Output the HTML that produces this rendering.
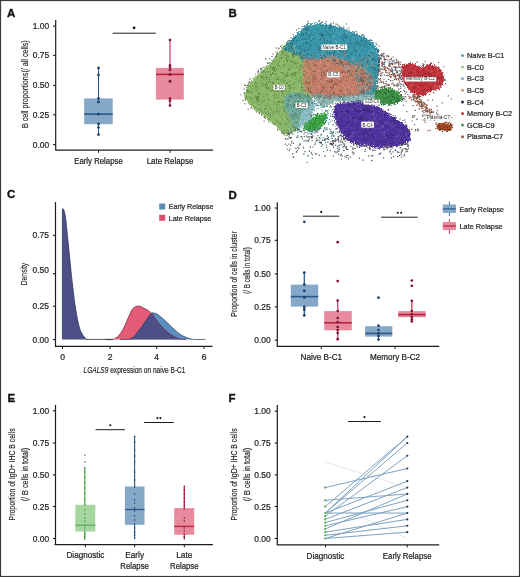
<!DOCTYPE html><html><head><meta charset="utf-8"><style>html,body{margin:0;padding:0;background:#fff;width:520px;height:577px;overflow:hidden;position:relative}</style></head><body><svg width="520" height="577" viewBox="0 0 520 577" style="position:absolute;left:0;top:0;will-change:transform;font-family:'Liberation Sans', sans-serif">
<rect x="0" y="0" width="520" height="577" fill="#fff"/>
<text x="7" y="16.7" font-size="11.5" font-weight="bold" fill="#111" stroke="#111" stroke-width="0.35">A</text>
<line x1="55.70" y1="20.00" x2="55.70" y2="150.20" stroke="#1c1c1c" stroke-width="1.2" />
<line x1="53.10" y1="26.20" x2="55.70" y2="26.20" stroke="#1c1c1c" stroke-width="1.1" />
<text x="49.20" y="29.20" font-size="8.5" text-anchor="end" fill="#1f1f1f" stroke="#1f1f1f" stroke-width="0.22" font-weight="normal"  textLength="16.4" lengthAdjust="spacingAndGlyphs">1.00</text>
<line x1="53.10" y1="55.40" x2="55.70" y2="55.40" stroke="#1c1c1c" stroke-width="1.1" />
<text x="49.20" y="58.40" font-size="8.5" text-anchor="end" fill="#1f1f1f" stroke="#1f1f1f" stroke-width="0.22" font-weight="normal"  textLength="16.4" lengthAdjust="spacingAndGlyphs">0.75</text>
<line x1="53.10" y1="85.40" x2="55.70" y2="85.40" stroke="#1c1c1c" stroke-width="1.1" />
<text x="49.20" y="88.40" font-size="8.5" text-anchor="end" fill="#1f1f1f" stroke="#1f1f1f" stroke-width="0.22" font-weight="normal"  textLength="16.4" lengthAdjust="spacingAndGlyphs">0.50</text>
<line x1="53.10" y1="114.80" x2="55.70" y2="114.80" stroke="#1c1c1c" stroke-width="1.1" />
<text x="49.20" y="117.80" font-size="8.5" text-anchor="end" fill="#1f1f1f" stroke="#1f1f1f" stroke-width="0.22" font-weight="normal"  textLength="16.4" lengthAdjust="spacingAndGlyphs">0.25</text>
<line x1="53.10" y1="144.60" x2="55.70" y2="144.60" stroke="#1c1c1c" stroke-width="1.1" />
<text x="49.20" y="147.60" font-size="8.5" text-anchor="end" fill="#1f1f1f" stroke="#1f1f1f" stroke-width="0.22" font-weight="normal"  textLength="16.4" lengthAdjust="spacingAndGlyphs">0.00</text>
<line x1="55.40" y1="150.20" x2="213.00" y2="150.20" stroke="#1c1c1c" stroke-width="1.2" />
<line x1="98.50" y1="150.20" x2="98.50" y2="152.80" stroke="#1c1c1c" stroke-width="1.0" />
<text x="98.50" y="163.60" font-size="8.2" text-anchor="middle" fill="#1f1f1f" stroke="#1f1f1f" stroke-width="0.22" font-weight="normal"  textLength="48.5" lengthAdjust="spacingAndGlyphs">Early Relapse</text>
<line x1="170.00" y1="150.20" x2="170.00" y2="152.80" stroke="#1c1c1c" stroke-width="1.0" />
<text x="170.00" y="163.60" font-size="8.2" text-anchor="middle" fill="#1f1f1f" stroke="#1f1f1f" stroke-width="0.22" font-weight="normal"  textLength="46.6" lengthAdjust="spacingAndGlyphs">Late Relapse</text>
<text transform="translate(24.50,84.20) rotate(-90)" x="0" y="3.06" font-size="8.5" text-anchor="middle" fill="#1f1f1f" stroke="#1f1f1f" stroke-width="0.15" textLength="87.8" lengthAdjust="spacingAndGlyphs">B cell proportions(/ all cells)</text>
<line x1="98.50" y1="67.90" x2="98.50" y2="134.60" stroke="#285a8c" stroke-width="0.95" />
<rect x="84.20" y="98.40" width="28.50" height="25.80" fill="#86a8c8" fill-opacity="1.0"/>
<line x1="98.50" y1="67.90" x2="98.50" y2="98.40" stroke="#285a8c" stroke-width="0.95" />
<line x1="98.50" y1="124.20" x2="98.50" y2="134.60" stroke="#285a8c" stroke-width="0.95" />
<line x1="84.20" y1="114.10" x2="112.70" y2="114.10" stroke="#285a8c" stroke-width="1.6" />
<circle cx="98.50" cy="67.90" r="1.35" fill="#183d66"/>
<circle cx="98.50" cy="74.90" r="1.35" fill="#183d66"/>
<circle cx="98.50" cy="98.40" r="1.35" fill="#183d66"/>
<circle cx="98.50" cy="101.90" r="1.35" fill="#183d66"/>
<circle cx="98.50" cy="114.10" r="1.35" fill="#183d66"/>
<circle cx="98.50" cy="123.90" r="1.35" fill="#183d66"/>
<circle cx="98.50" cy="127.50" r="1.35" fill="#183d66"/>
<circle cx="98.50" cy="134.60" r="1.35" fill="#183d66"/>
<line x1="170.00" y1="40.00" x2="170.00" y2="105.60" stroke="#c85a78" stroke-width="0.95" />
<rect x="155.90" y="67.90" width="27.90" height="31.70" fill="#e78a9e" fill-opacity="1.0"/>
<line x1="170.00" y1="40.00" x2="170.00" y2="67.90" stroke="#c85a78" stroke-width="0.95" />
<line x1="170.00" y1="99.60" x2="170.00" y2="105.60" stroke="#c85a78" stroke-width="0.95" />
<line x1="155.90" y1="74.40" x2="183.80" y2="74.40" stroke="#b8223f" stroke-width="1.6" />
<circle cx="170.00" cy="40.00" r="1.35" fill="#7e1430"/>
<circle cx="170.00" cy="65.40" r="1.35" fill="#7e1430"/>
<circle cx="170.00" cy="67.50" r="1.35" fill="#7e1430"/>
<circle cx="170.00" cy="70.00" r="1.35" fill="#7e1430"/>
<circle cx="170.00" cy="74.40" r="1.35" fill="#7e1430"/>
<circle cx="170.00" cy="81.00" r="1.35" fill="#7e1430"/>
<circle cx="170.00" cy="81.50" r="1.35" fill="#7e1430"/>
<circle cx="170.00" cy="98.50" r="1.35" fill="#7e1430"/>
<circle cx="170.00" cy="100.80" r="1.35" fill="#7e1430"/>
<circle cx="170.00" cy="105.60" r="1.35" fill="#7e1430"/>
<line x1="112.70" y1="33.20" x2="155.80" y2="33.20" stroke="#1c1c1c" stroke-width="1.0" />
<circle cx="134.1" cy="27.8" r="1.4" fill="#111"/>
<text x="7.1" y="198.4" font-size="11.5" font-weight="bold" fill="#111" stroke="#111" stroke-width="0.35">C</text>
<line x1="55.50" y1="202.00" x2="55.50" y2="346.40" stroke="#1c1c1c" stroke-width="1.2" />
<line x1="52.90" y1="235.30" x2="55.50" y2="235.30" stroke="#1c1c1c" stroke-width="1.1" />
<text x="49.00" y="237.70" font-size="8.5" text-anchor="end" fill="#1f1f1f" stroke="#1f1f1f" stroke-width="0.22" font-weight="normal"  textLength="16.4" lengthAdjust="spacingAndGlyphs">0.75</text>
<line x1="52.90" y1="273.70" x2="55.50" y2="273.70" stroke="#1c1c1c" stroke-width="1.1" />
<text x="49.00" y="272.80" font-size="8.5" text-anchor="end" fill="#1f1f1f" stroke="#1f1f1f" stroke-width="0.22" font-weight="normal"  textLength="16.4" lengthAdjust="spacingAndGlyphs">0.50</text>
<line x1="52.90" y1="306.20" x2="55.50" y2="306.20" stroke="#1c1c1c" stroke-width="1.1" />
<text x="49.00" y="309.20" font-size="8.5" text-anchor="end" fill="#1f1f1f" stroke="#1f1f1f" stroke-width="0.22" font-weight="normal"  textLength="16.4" lengthAdjust="spacingAndGlyphs">0.25</text>
<line x1="52.90" y1="339.60" x2="55.50" y2="339.60" stroke="#1c1c1c" stroke-width="1.1" />
<text x="49.00" y="342.60" font-size="8.5" text-anchor="end" fill="#1f1f1f" stroke="#1f1f1f" stroke-width="0.22" font-weight="normal"  textLength="16.4" lengthAdjust="spacingAndGlyphs">0.00</text>
<line x1="54.90" y1="346.40" x2="212.50" y2="346.40" stroke="#1c1c1c" stroke-width="1.2" />
<line x1="62.50" y1="346.40" x2="62.50" y2="349.00" stroke="#1c1c1c" stroke-width="1.0" />
<text x="62.50" y="359.90" font-size="8.5" text-anchor="middle" fill="#1f1f1f" stroke="#1f1f1f" stroke-width="0.22" font-weight="normal" >0</text>
<line x1="110.00" y1="346.40" x2="110.00" y2="349.00" stroke="#1c1c1c" stroke-width="1.0" />
<text x="110.00" y="359.90" font-size="8.5" text-anchor="middle" fill="#1f1f1f" stroke="#1f1f1f" stroke-width="0.22" font-weight="normal" >2</text>
<line x1="156.70" y1="346.40" x2="156.70" y2="349.00" stroke="#1c1c1c" stroke-width="1.0" />
<text x="156.70" y="359.90" font-size="8.5" text-anchor="middle" fill="#1f1f1f" stroke="#1f1f1f" stroke-width="0.22" font-weight="normal" >4</text>
<line x1="204.00" y1="346.40" x2="204.00" y2="349.00" stroke="#1c1c1c" stroke-width="1.0" />
<text x="204.00" y="359.90" font-size="8.5" text-anchor="middle" fill="#1f1f1f" stroke="#1f1f1f" stroke-width="0.22" font-weight="normal" >6</text>
<text transform="translate(24.00,274.00) rotate(-90)" x="0" y="3.24" font-size="9" text-anchor="middle" fill="#1f1f1f" stroke="#1f1f1f" stroke-width="0.15" textLength="22.5" lengthAdjust="spacingAndGlyphs">Density</text>
<text x="83.5" y="373.2" font-size="8.8" fill="#1f1f1f" stroke="#1f1f1f" stroke-width="0.18" textLength="102" lengthAdjust="spacingAndGlyphs"><tspan font-style="italic">LGALS9</tspan> expression on naive B-C1</text>
<defs><clipPath id="redclip"><path d="M105.00,339.40 C106.33,339.40 110.70,340.07 113.00,339.40 C115.30,338.73 117.05,337.23 118.80,335.40 C120.55,333.57 121.95,331.28 123.50,328.40 C125.05,325.52 126.57,321.37 128.10,318.10 C129.63,314.83 130.98,310.82 132.70,308.80 C134.42,306.78 136.48,306.08 138.40,306.00 C140.32,305.92 142.08,307.15 144.20,308.30 C146.32,309.45 148.60,310.32 151.10,312.90 C153.60,315.48 156.50,320.63 159.20,323.80 C161.90,326.97 164.98,329.87 167.30,331.90 C169.62,333.93 171.18,334.85 173.10,336.00 C175.02,337.15 176.65,338.23 178.80,338.80 C180.95,339.37 184.80,339.30 186.00,339.40 Z"/></clipPath></defs>
<path d="M105.00,339.40 C106.33,339.40 110.70,340.07 113.00,339.40 C115.30,338.73 117.05,337.23 118.80,335.40 C120.55,333.57 121.95,331.28 123.50,328.40 C125.05,325.52 126.57,321.37 128.10,318.10 C129.63,314.83 130.98,310.82 132.70,308.80 C134.42,306.78 136.48,306.08 138.40,306.00 C140.32,305.92 142.08,307.15 144.20,308.30 C146.32,309.45 148.60,310.32 151.10,312.90 C153.60,315.48 156.50,320.63 159.20,323.80 C161.90,326.97 164.98,329.87 167.30,331.90 C169.62,333.93 171.18,334.85 173.10,336.00 C175.02,337.15 176.65,338.23 178.80,338.80 C180.95,339.37 184.80,339.30 186.00,339.40 Z" fill="#e35b76"/>
<path d="M120.00,339.40 C121.92,339.27 128.23,340.23 131.50,338.60 C134.77,336.97 137.28,332.45 139.60,329.60 C141.92,326.75 143.48,324.18 145.40,321.50 C147.32,318.82 149.57,314.87 151.10,313.50 C152.63,312.13 153.63,313.22 154.60,313.30 C155.57,313.38 155.75,313.30 156.90,314.00 C158.05,314.70 159.77,316.05 161.50,317.50 C163.23,318.95 165.37,320.88 167.30,322.70 C169.23,324.52 170.98,326.48 173.10,328.40 C175.22,330.32 177.70,332.65 180.00,334.20 C182.30,335.75 184.60,336.83 186.90,337.70 C189.20,338.57 190.72,339.12 193.80,339.40 C196.88,339.68 203.47,339.40 205.40,339.40 Z" fill="#5a8fbf"/>
<path d="M120.00,339.40 C121.92,339.27 128.23,340.23 131.50,338.60 C134.77,336.97 137.28,332.45 139.60,329.60 C141.92,326.75 143.48,324.18 145.40,321.50 C147.32,318.82 149.57,314.87 151.10,313.50 C152.63,312.13 153.63,313.22 154.60,313.30 C155.57,313.38 155.75,313.30 156.90,314.00 C158.05,314.70 159.77,316.05 161.50,317.50 C163.23,318.95 165.37,320.88 167.30,322.70 C169.23,324.52 170.98,326.48 173.10,328.40 C175.22,330.32 177.70,332.65 180.00,334.20 C182.30,335.75 184.60,336.83 186.90,337.70 C189.20,338.57 190.72,339.12 193.80,339.40 C196.88,339.68 203.47,339.40 205.40,339.40 Z" fill="#4f4f87" clip-path="url(#redclip)"/>
<path d="M62.4,339.40 L62.4,210 C62.4,207.8 63.4,208.2 64.3,211.5 L63.60,210.50 C63.88,211.42 64.55,210.77 65.30,216.00 C66.05,221.23 67.20,233.25 68.10,241.90 C69.00,250.55 70.02,261.22 70.70,267.90 C71.38,274.58 71.48,275.88 72.20,282.00 C72.92,288.12 74.03,297.95 75.00,304.60 C75.97,311.25 76.92,317.17 78.00,321.90 C79.08,326.63 80.07,330.08 81.50,333.00 C82.93,335.92 85.75,338.33 86.60,339.40  Z" fill="#4f4f87"/>
<path d="M105.00,339.40 C106.33,339.40 110.70,340.07 113.00,339.40 C115.30,338.73 117.05,337.23 118.80,335.40 C120.55,333.57 121.95,331.28 123.50,328.40 C125.05,325.52 126.57,321.37 128.10,318.10 C129.63,314.83 130.98,310.82 132.70,308.80 C134.42,306.78 136.48,306.08 138.40,306.00 C140.32,305.92 142.08,307.15 144.20,308.30 C146.32,309.45 148.60,310.32 151.10,312.90 C153.60,315.48 156.50,320.63 159.20,323.80 C161.90,326.97 164.98,329.87 167.30,331.90 C169.62,333.93 171.18,334.85 173.10,336.00 C175.02,337.15 176.65,338.23 178.80,338.80 C180.95,339.37 184.80,339.30 186.00,339.40 " fill="none" stroke="#6e1e3c" stroke-width="0.7"/>
<path d="M120.00,339.40 C121.92,339.27 128.23,340.23 131.50,338.60 C134.77,336.97 137.28,332.45 139.60,329.60 C141.92,326.75 143.48,324.18 145.40,321.50 C147.32,318.82 149.57,314.87 151.10,313.50 C152.63,312.13 153.63,313.22 154.60,313.30 C155.57,313.38 155.75,313.30 156.90,314.00 C158.05,314.70 159.77,316.05 161.50,317.50 C163.23,318.95 165.37,320.88 167.30,322.70 C169.23,324.52 170.98,326.48 173.10,328.40 C175.22,330.32 177.70,332.65 180.00,334.20 C182.30,335.75 184.60,336.83 186.90,337.70 C189.20,338.57 190.72,339.12 193.80,339.40 C196.88,339.68 203.47,339.40 205.40,339.40 " fill="none" stroke="#1d3658" stroke-width="0.7"/>
<path d="M62.4,339.40 L62.4,210 C62.4,207.8 63.4,208.2 64.3,211.5 L63.60,210.50 C63.88,211.42 64.55,210.77 65.30,216.00 C66.05,221.23 67.20,233.25 68.10,241.90 C69.00,250.55 70.02,261.22 70.70,267.90 C71.38,274.58 71.48,275.88 72.20,282.00 C72.92,288.12 74.03,297.95 75.00,304.60 C75.97,311.25 76.92,317.17 78.00,321.90 C79.08,326.63 80.07,330.08 81.50,333.00 C82.93,335.92 85.75,338.33 86.60,339.40 " fill="none" stroke="#1d2a55" stroke-width="0.7"/>
<line x1="86.00" y1="339.40" x2="113.00" y2="339.40" stroke="#2a2a40" stroke-width="0.8" />
<rect x="159.2" y="203.5" width="6" height="6" fill="#5b8ab8"/>
<rect x="159.2" y="214.8" width="6" height="6" fill="#da516f"/>
<text x="168.80" y="209.00" font-size="7.7" text-anchor="start" fill="#1f1f1f" stroke="#1f1f1f" stroke-width="0.22" font-weight="normal"  textLength="44.6" lengthAdjust="spacingAndGlyphs">Early Relapse</text>
<text x="168.80" y="220.60" font-size="7.7" text-anchor="start" fill="#1f1f1f" stroke="#1f1f1f" stroke-width="0.22" font-weight="normal"  textLength="42.6" lengthAdjust="spacingAndGlyphs">Late Relapse</text>
<text x="228.5" y="198.5" font-size="11.5" font-weight="bold" fill="#111" stroke="#111" stroke-width="0.35">D</text>
<line x1="277.30" y1="202.30" x2="277.30" y2="346.40" stroke="#1c1c1c" stroke-width="1.2" />
<line x1="274.70" y1="208.00" x2="277.30" y2="208.00" stroke="#1c1c1c" stroke-width="1.1" />
<text x="270.70" y="211.00" font-size="8.5" text-anchor="end" fill="#1f1f1f" stroke="#1f1f1f" stroke-width="0.22" font-weight="normal"  textLength="16.4" lengthAdjust="spacingAndGlyphs">1.00</text>
<line x1="274.70" y1="240.30" x2="277.30" y2="240.30" stroke="#1c1c1c" stroke-width="1.1" />
<text x="270.70" y="243.30" font-size="8.5" text-anchor="end" fill="#1f1f1f" stroke="#1f1f1f" stroke-width="0.22" font-weight="normal"  textLength="16.4" lengthAdjust="spacingAndGlyphs">0.75</text>
<line x1="274.70" y1="273.90" x2="277.30" y2="273.90" stroke="#1c1c1c" stroke-width="1.1" />
<text x="270.70" y="276.90" font-size="8.5" text-anchor="end" fill="#1f1f1f" stroke="#1f1f1f" stroke-width="0.22" font-weight="normal"  textLength="16.4" lengthAdjust="spacingAndGlyphs">0.50</text>
<line x1="274.70" y1="306.90" x2="277.30" y2="306.90" stroke="#1c1c1c" stroke-width="1.1" />
<text x="270.70" y="309.90" font-size="8.5" text-anchor="end" fill="#1f1f1f" stroke="#1f1f1f" stroke-width="0.22" font-weight="normal"  textLength="16.4" lengthAdjust="spacingAndGlyphs">0.25</text>
<line x1="274.70" y1="340.20" x2="277.30" y2="340.20" stroke="#1c1c1c" stroke-width="1.1" />
<text x="270.70" y="343.20" font-size="8.5" text-anchor="end" fill="#1f1f1f" stroke="#1f1f1f" stroke-width="0.22" font-weight="normal"  textLength="16.4" lengthAdjust="spacingAndGlyphs">0.00</text>
<line x1="276.70" y1="346.40" x2="439.20" y2="346.40" stroke="#1c1c1c" stroke-width="1.2" />
<line x1="321.30" y1="346.40" x2="321.30" y2="349.00" stroke="#1c1c1c" stroke-width="1.0" />
<text x="321.30" y="360.30" font-size="8.2" text-anchor="middle" fill="#1f1f1f" stroke="#1f1f1f" stroke-width="0.22" font-weight="normal"  textLength="41.5" lengthAdjust="spacingAndGlyphs">Naive B-C1</text>
<line x1="395.00" y1="346.40" x2="395.00" y2="349.00" stroke="#1c1c1c" stroke-width="1.0" />
<text x="395.00" y="360.30" font-size="8.2" text-anchor="middle" fill="#1f1f1f" stroke="#1f1f1f" stroke-width="0.22" font-weight="normal"  textLength="50" lengthAdjust="spacingAndGlyphs">Memory B-C2</text>
<text transform="translate(233.90,274.00) rotate(-90)" x="0" y="3.10" font-size="8.6" text-anchor="middle" fill="#1f1f1f" stroke="#1f1f1f" stroke-width="0.15" textLength="85.5" lengthAdjust="spacingAndGlyphs">Proportion of cells in cluster</text>
<text transform="translate(246.50,270.50) rotate(-90)" x="0" y="3.10" font-size="8.6" text-anchor="middle" fill="#1f1f1f" stroke="#1f1f1f" stroke-width="0.15" textLength="46.5" lengthAdjust="spacingAndGlyphs">(/ B cells in total)</text>
<line x1="304.30" y1="272.80" x2="304.30" y2="315.40" stroke="#285a8c" stroke-width="0.95" />
<rect x="290.80" y="284.60" width="27.40" height="22.00" fill="#86a8c8" fill-opacity="1.0"/>
<line x1="304.30" y1="272.80" x2="304.30" y2="284.60" stroke="#285a8c" stroke-width="0.95" />
<line x1="304.30" y1="306.60" x2="304.30" y2="315.40" stroke="#285a8c" stroke-width="0.95" />
<line x1="290.80" y1="296.60" x2="318.20" y2="296.60" stroke="#285a8c" stroke-width="1.6" />
<circle cx="304.30" cy="221.80" r="1.35" fill="#183d66"/>
<circle cx="304.30" cy="272.60" r="1.35" fill="#183d66"/>
<circle cx="304.30" cy="284.60" r="1.35" fill="#183d66"/>
<circle cx="304.30" cy="290.80" r="1.35" fill="#183d66"/>
<circle cx="304.30" cy="297.40" r="1.35" fill="#183d66"/>
<circle cx="304.30" cy="306.90" r="1.35" fill="#183d66"/>
<circle cx="304.30" cy="309.70" r="1.35" fill="#183d66"/>
<circle cx="304.30" cy="315.40" r="1.35" fill="#183d66"/>
<line x1="337.70" y1="300.50" x2="337.70" y2="339.20" stroke="#c04565" stroke-width="0.95" />
<rect x="324.20" y="311.10" width="27.60" height="19.20" fill="#e78a9e" fill-opacity="1.0"/>
<line x1="337.70" y1="300.50" x2="337.70" y2="311.10" stroke="#c04565" stroke-width="0.95" />
<line x1="337.70" y1="330.30" x2="337.70" y2="339.20" stroke="#c04565" stroke-width="0.95" />
<line x1="324.20" y1="322.80" x2="351.80" y2="322.80" stroke="#b8223f" stroke-width="1.6" />
<circle cx="337.70" cy="242.20" r="1.35" fill="#7e1430"/>
<circle cx="337.70" cy="281.10" r="1.35" fill="#7e1430"/>
<circle cx="337.70" cy="300.50" r="1.35" fill="#7e1430"/>
<circle cx="337.70" cy="311.00" r="1.35" fill="#7e1430"/>
<circle cx="337.70" cy="318.00" r="1.35" fill="#7e1430"/>
<circle cx="337.70" cy="322.00" r="1.35" fill="#7e1430"/>
<circle cx="337.70" cy="327.00" r="1.35" fill="#7e1430"/>
<circle cx="337.70" cy="330.00" r="1.35" fill="#7e1430"/>
<circle cx="337.70" cy="333.00" r="1.35" fill="#7e1430"/>
<circle cx="337.70" cy="339.20" r="1.35" fill="#7e1430"/>
<line x1="378.50" y1="325.70" x2="378.50" y2="339.50" stroke="#285a8c" stroke-width="0.95" />
<rect x="365.10" y="326.20" width="27.20" height="10.40" fill="#86a8c8" fill-opacity="1.0"/>
<line x1="378.50" y1="325.70" x2="378.50" y2="326.20" stroke="#285a8c" stroke-width="0.95" />
<line x1="378.50" y1="336.60" x2="378.50" y2="339.50" stroke="#285a8c" stroke-width="0.95" />
<line x1="365.10" y1="333.40" x2="392.30" y2="333.40" stroke="#285a8c" stroke-width="1.6" />
<circle cx="378.50" cy="297.70" r="1.35" fill="#183d66"/>
<circle cx="378.50" cy="325.70" r="1.35" fill="#183d66"/>
<circle cx="378.50" cy="330.00" r="1.35" fill="#183d66"/>
<circle cx="378.50" cy="333.40" r="1.35" fill="#183d66"/>
<circle cx="378.50" cy="336.00" r="1.35" fill="#183d66"/>
<circle cx="378.50" cy="339.50" r="1.35" fill="#183d66"/>
<line x1="411.80" y1="300.80" x2="411.80" y2="321.50" stroke="#c04565" stroke-width="0.95" />
<rect x="398.20" y="311.10" width="27.50" height="6.10" fill="#e78a9e" fill-opacity="1.0"/>
<line x1="411.80" y1="300.80" x2="411.80" y2="311.10" stroke="#c04565" stroke-width="0.95" />
<line x1="411.80" y1="317.20" x2="411.80" y2="321.50" stroke="#c04565" stroke-width="0.95" />
<line x1="398.20" y1="314.60" x2="425.70" y2="314.60" stroke="#b8223f" stroke-width="1.6" />
<circle cx="411.80" cy="280.50" r="1.35" fill="#7e1430"/>
<circle cx="411.80" cy="285.80" r="1.35" fill="#7e1430"/>
<circle cx="411.80" cy="300.80" r="1.35" fill="#7e1430"/>
<circle cx="411.80" cy="311.00" r="1.35" fill="#7e1430"/>
<circle cx="411.80" cy="314.00" r="1.35" fill="#7e1430"/>
<circle cx="411.80" cy="317.00" r="1.35" fill="#7e1430"/>
<circle cx="411.80" cy="319.50" r="1.35" fill="#7e1430"/>
<circle cx="411.80" cy="321.50" r="1.35" fill="#7e1430"/>
<line x1="303.00" y1="216.20" x2="339.20" y2="216.20" stroke="#1c1c1c" stroke-width="1.0" />
<circle cx="321.2" cy="211.9" r="1.05" fill="#111"/>
<line x1="381.20" y1="217.20" x2="417.70" y2="217.20" stroke="#1c1c1c" stroke-width="1.0" />
<circle cx="397.8" cy="212.8" r="1.05" fill="#111"/>
<circle cx="401.2" cy="212.8" r="1.05" fill="#111"/>
<line x1="449.40" y1="201.50" x2="449.40" y2="216.00" stroke="#285a8c" stroke-width="0.9" />
<rect x="442.8" y="204.5" width="13.099999999999966" height="8.5" fill="#86a8c8"/>
<line x1="442.80" y1="208.90" x2="455.90" y2="208.90" stroke="#285a8c" stroke-width="1.2" />
<line x1="449.40" y1="219.20" x2="449.40" y2="233.90" stroke="#b8223f" stroke-width="0.9" />
<rect x="442.8" y="222" width="13.099999999999966" height="8.099999999999994" fill="#e78a9e"/>
<line x1="442.80" y1="226.00" x2="455.90" y2="226.00" stroke="#b8223f" stroke-width="1.2" />
<text x="459.50" y="211.70" font-size="7.9" text-anchor="start" fill="#1f1f1f" stroke="#1f1f1f" stroke-width="0.22" font-weight="normal"  textLength="44.5" lengthAdjust="spacingAndGlyphs">Early Relapse</text>
<text x="459.50" y="228.80" font-size="7.9" text-anchor="start" fill="#1f1f1f" stroke="#1f1f1f" stroke-width="0.22" font-weight="normal"  textLength="43.2" lengthAdjust="spacingAndGlyphs">Late Relapse</text>
<text x="7.4" y="401.6" font-size="11.5" font-weight="bold" fill="#111" stroke="#111" stroke-width="0.35">E</text>
<line x1="55.50" y1="405.00" x2="55.50" y2="544.60" stroke="#1c1c1c" stroke-width="1.2" />
<line x1="52.90" y1="410.80" x2="55.50" y2="410.80" stroke="#1c1c1c" stroke-width="1.1" />
<text x="49.20" y="413.80" font-size="8.5" text-anchor="end" fill="#1f1f1f" stroke="#1f1f1f" stroke-width="0.22" font-weight="normal"  textLength="16.4" lengthAdjust="spacingAndGlyphs">1.00</text>
<line x1="52.90" y1="443.00" x2="55.50" y2="443.00" stroke="#1c1c1c" stroke-width="1.1" />
<text x="49.20" y="446.00" font-size="8.5" text-anchor="end" fill="#1f1f1f" stroke="#1f1f1f" stroke-width="0.22" font-weight="normal"  textLength="16.4" lengthAdjust="spacingAndGlyphs">0.75</text>
<line x1="52.90" y1="474.90" x2="55.50" y2="474.90" stroke="#1c1c1c" stroke-width="1.1" />
<text x="49.20" y="477.90" font-size="8.5" text-anchor="end" fill="#1f1f1f" stroke="#1f1f1f" stroke-width="0.22" font-weight="normal"  textLength="16.4" lengthAdjust="spacingAndGlyphs">0.50</text>
<line x1="52.90" y1="506.50" x2="55.50" y2="506.50" stroke="#1c1c1c" stroke-width="1.1" />
<text x="49.20" y="509.50" font-size="8.5" text-anchor="end" fill="#1f1f1f" stroke="#1f1f1f" stroke-width="0.22" font-weight="normal"  textLength="16.4" lengthAdjust="spacingAndGlyphs">0.25</text>
<line x1="52.90" y1="538.50" x2="55.50" y2="538.50" stroke="#1c1c1c" stroke-width="1.1" />
<text x="49.20" y="541.50" font-size="8.5" text-anchor="end" fill="#1f1f1f" stroke="#1f1f1f" stroke-width="0.22" font-weight="normal"  textLength="16.4" lengthAdjust="spacingAndGlyphs">0.00</text>
<line x1="54.50" y1="544.60" x2="212.90" y2="544.60" stroke="#1c1c1c" stroke-width="1.2" />
<line x1="85.40" y1="544.60" x2="85.40" y2="547.20" stroke="#1c1c1c" stroke-width="1.0" />
<text x="85.40" y="558.40" font-size="8.3" text-anchor="middle" fill="#1f1f1f" stroke="#1f1f1f" stroke-width="0.22" font-weight="normal"  textLength="37.8" lengthAdjust="spacingAndGlyphs">Diagnostic</text>
<line x1="134.60" y1="544.60" x2="134.60" y2="547.20" stroke="#1c1c1c" stroke-width="1.0" />
<line x1="184.30" y1="544.60" x2="184.30" y2="547.20" stroke="#1c1c1c" stroke-width="1.0" />
<text x="134.60" y="558.40" font-size="8.3" text-anchor="middle" fill="#1f1f1f" stroke="#1f1f1f" stroke-width="0.22" font-weight="normal" >Early</text>
<text x="134.60" y="568.60" font-size="8.3" text-anchor="middle" fill="#1f1f1f" stroke="#1f1f1f" stroke-width="0.22" font-weight="normal"  textLength="28.6" lengthAdjust="spacingAndGlyphs">Relapse</text>
<text x="184.30" y="558.40" font-size="8.3" text-anchor="middle" fill="#1f1f1f" stroke="#1f1f1f" stroke-width="0.22" font-weight="normal" >Late</text>
<text x="184.30" y="568.60" font-size="8.3" text-anchor="middle" fill="#1f1f1f" stroke="#1f1f1f" stroke-width="0.22" font-weight="normal"  textLength="28.6" lengthAdjust="spacingAndGlyphs">Relapse</text>
<text transform="translate(11.90,474.40) rotate(-90)" x="0" y="3.10" font-size="8.6" text-anchor="middle" fill="#1f1f1f" stroke="#1f1f1f" stroke-width="0.15" textLength="92" lengthAdjust="spacingAndGlyphs">Proportion of IgD+ IHC B cells</text>
<text transform="translate(24.70,474.60) rotate(-90)" x="0" y="3.10" font-size="8.6" text-anchor="middle" fill="#1f1f1f" stroke="#1f1f1f" stroke-width="0.15" textLength="53.5" lengthAdjust="spacingAndGlyphs">(/ B cells in total)</text>
<line x1="84.80" y1="467.60" x2="84.80" y2="539.10" stroke="#5caf5c" stroke-width="0.9" />
<rect x="75.30" y="504.80" width="20.00" height="26.70" fill="#a6d6a0" fill-opacity="1.0"/>
<line x1="84.80" y1="467.60" x2="84.80" y2="504.80" stroke="#5caf5c" stroke-width="0.9" />
<line x1="84.80" y1="531.50" x2="84.80" y2="539.10" stroke="#5caf5c" stroke-width="0.9" />
<line x1="75.30" y1="525.20" x2="95.30" y2="525.20" stroke="#5caf5c" stroke-width="1.3" />
<circle cx="84.80" cy="455.30" r="0.8" fill="#4a8f50"/>
<circle cx="84.80" cy="461.90" r="0.8" fill="#4a8f50"/>
<circle cx="84.80" cy="467.60" r="0.8" fill="#4a8f50"/>
<circle cx="84.80" cy="472.00" r="0.8" fill="#4a8f50"/>
<circle cx="84.80" cy="478.00" r="0.8" fill="#4a8f50"/>
<circle cx="84.80" cy="483.00" r="0.8" fill="#4a8f50"/>
<circle cx="84.80" cy="488.00" r="0.8" fill="#4a8f50"/>
<circle cx="84.80" cy="494.00" r="0.8" fill="#4a8f50"/>
<circle cx="84.80" cy="499.00" r="0.8" fill="#4a8f50"/>
<circle cx="84.80" cy="505.00" r="0.8" fill="#4a8f50"/>
<circle cx="84.80" cy="510.00" r="0.8" fill="#4a8f50"/>
<circle cx="84.80" cy="514.00" r="0.8" fill="#4a8f50"/>
<circle cx="84.80" cy="518.00" r="0.8" fill="#4a8f50"/>
<circle cx="84.80" cy="521.00" r="0.8" fill="#4a8f50"/>
<circle cx="84.80" cy="525.00" r="0.8" fill="#4a8f50"/>
<circle cx="84.80" cy="528.00" r="0.8" fill="#4a8f50"/>
<circle cx="84.80" cy="531.00" r="0.8" fill="#4a8f50"/>
<circle cx="84.80" cy="534.00" r="0.8" fill="#4a8f50"/>
<circle cx="84.80" cy="536.50" r="0.8" fill="#4a8f50"/>
<circle cx="84.80" cy="539.00" r="0.8" fill="#4a8f50"/>
<line x1="134.60" y1="436.20" x2="134.60" y2="538.30" stroke="#285a8c" stroke-width="0.9" />
<rect x="124.90" y="486.50" width="19.60" height="38.30" fill="#86a8c8" fill-opacity="1.0"/>
<line x1="134.60" y1="436.20" x2="134.60" y2="486.50" stroke="#285a8c" stroke-width="0.9" />
<line x1="134.60" y1="524.80" x2="134.60" y2="538.30" stroke="#285a8c" stroke-width="0.9" />
<line x1="124.90" y1="509.50" x2="144.50" y2="509.50" stroke="#285a8c" stroke-width="1.3" />
<circle cx="134.60" cy="436.20" r="0.8" fill="#183d66"/>
<circle cx="134.60" cy="442.00" r="0.8" fill="#183d66"/>
<circle cx="134.60" cy="450.00" r="0.8" fill="#183d66"/>
<circle cx="134.60" cy="456.00" r="0.8" fill="#183d66"/>
<circle cx="134.60" cy="462.00" r="0.8" fill="#183d66"/>
<circle cx="134.60" cy="472.00" r="0.8" fill="#183d66"/>
<circle cx="134.60" cy="480.00" r="0.8" fill="#183d66"/>
<circle cx="134.60" cy="487.00" r="0.8" fill="#183d66"/>
<circle cx="134.60" cy="494.00" r="0.8" fill="#183d66"/>
<circle cx="134.60" cy="500.00" r="0.8" fill="#183d66"/>
<circle cx="134.60" cy="503.00" r="0.8" fill="#183d66"/>
<circle cx="134.60" cy="508.00" r="0.8" fill="#183d66"/>
<circle cx="134.60" cy="511.00" r="0.8" fill="#183d66"/>
<circle cx="134.60" cy="516.00" r="0.8" fill="#183d66"/>
<circle cx="134.60" cy="520.00" r="0.8" fill="#183d66"/>
<circle cx="134.60" cy="524.00" r="0.8" fill="#183d66"/>
<circle cx="134.60" cy="528.00" r="0.8" fill="#183d66"/>
<circle cx="134.60" cy="532.00" r="0.8" fill="#183d66"/>
<circle cx="134.60" cy="535.00" r="0.8" fill="#183d66"/>
<circle cx="134.60" cy="538.30" r="0.8" fill="#183d66"/>
<line x1="184.30" y1="486.30" x2="184.30" y2="538.80" stroke="#b8223f" stroke-width="0.9" />
<rect x="174.20" y="508.10" width="20.00" height="26.70" fill="#e78a9e" fill-opacity="1.0"/>
<line x1="184.30" y1="486.30" x2="184.30" y2="508.10" stroke="#b8223f" stroke-width="0.9" />
<line x1="184.30" y1="534.80" x2="184.30" y2="538.80" stroke="#b8223f" stroke-width="0.9" />
<line x1="174.20" y1="526.40" x2="194.20" y2="526.40" stroke="#b8223f" stroke-width="1.3" />
<circle cx="184.30" cy="486.30" r="0.8" fill="#7e1430"/>
<circle cx="184.30" cy="490.00" r="0.8" fill="#7e1430"/>
<circle cx="184.30" cy="494.00" r="0.8" fill="#7e1430"/>
<circle cx="184.30" cy="498.00" r="0.8" fill="#7e1430"/>
<circle cx="184.30" cy="502.00" r="0.8" fill="#7e1430"/>
<circle cx="184.30" cy="506.00" r="0.8" fill="#7e1430"/>
<circle cx="184.30" cy="509.00" r="0.8" fill="#7e1430"/>
<circle cx="184.30" cy="518.00" r="0.8" fill="#7e1430"/>
<circle cx="184.30" cy="521.00" r="0.8" fill="#7e1430"/>
<circle cx="184.30" cy="528.00" r="0.8" fill="#7e1430"/>
<circle cx="184.30" cy="531.00" r="0.8" fill="#7e1430"/>
<circle cx="184.30" cy="534.00" r="0.8" fill="#7e1430"/>
<circle cx="184.30" cy="536.50" r="0.8" fill="#7e1430"/>
<circle cx="184.30" cy="538.80" r="0.8" fill="#7e1430"/>
<line x1="95.60" y1="429.70" x2="124.90" y2="429.70" stroke="#1c1c1c" stroke-width="1.0" />
<circle cx="110.3" cy="425.2" r="1.05" fill="#111"/>
<line x1="144.10" y1="422.50" x2="173.80" y2="422.50" stroke="#1c1c1c" stroke-width="1.0" />
<circle cx="157.4" cy="418.1" r="1.05" fill="#111"/>
<circle cx="160.4" cy="418.1" r="1.05" fill="#111"/>
<text x="228.5" y="401.6" font-size="11.5" font-weight="bold" fill="#111" stroke="#111" stroke-width="0.35">F</text>
<line x1="277.30" y1="405.00" x2="277.30" y2="544.80" stroke="#1c1c1c" stroke-width="1.2" />
<line x1="274.70" y1="411.20" x2="277.30" y2="411.20" stroke="#1c1c1c" stroke-width="1.1" />
<text x="270.70" y="414.20" font-size="8.5" text-anchor="end" fill="#1f1f1f" stroke="#1f1f1f" stroke-width="0.22" font-weight="normal"  textLength="16.4" lengthAdjust="spacingAndGlyphs">1.00</text>
<line x1="274.70" y1="443.00" x2="277.30" y2="443.00" stroke="#1c1c1c" stroke-width="1.1" />
<text x="270.70" y="446.00" font-size="8.5" text-anchor="end" fill="#1f1f1f" stroke="#1f1f1f" stroke-width="0.22" font-weight="normal"  textLength="16.4" lengthAdjust="spacingAndGlyphs">0.75</text>
<line x1="274.70" y1="474.90" x2="277.30" y2="474.90" stroke="#1c1c1c" stroke-width="1.1" />
<text x="270.70" y="477.90" font-size="8.5" text-anchor="end" fill="#1f1f1f" stroke="#1f1f1f" stroke-width="0.22" font-weight="normal"  textLength="16.4" lengthAdjust="spacingAndGlyphs">0.50</text>
<line x1="274.70" y1="506.50" x2="277.30" y2="506.50" stroke="#1c1c1c" stroke-width="1.1" />
<text x="270.70" y="509.50" font-size="8.5" text-anchor="end" fill="#1f1f1f" stroke="#1f1f1f" stroke-width="0.22" font-weight="normal"  textLength="16.4" lengthAdjust="spacingAndGlyphs">0.25</text>
<line x1="274.70" y1="538.50" x2="277.30" y2="538.50" stroke="#1c1c1c" stroke-width="1.1" />
<text x="270.70" y="541.50" font-size="8.5" text-anchor="end" fill="#1f1f1f" stroke="#1f1f1f" stroke-width="0.22" font-weight="normal"  textLength="16.4" lengthAdjust="spacingAndGlyphs">0.00</text>
<line x1="276.70" y1="544.80" x2="439.20" y2="544.80" stroke="#1c1c1c" stroke-width="1.2" />
<line x1="325.50" y1="544.80" x2="325.50" y2="547.40" stroke="#1c1c1c" stroke-width="1.0" />
<text x="325.50" y="558.50" font-size="8.2" text-anchor="middle" fill="#1f1f1f" stroke="#1f1f1f" stroke-width="0.22" font-weight="normal"  textLength="37.8" lengthAdjust="spacingAndGlyphs">Diagnostic</text>
<line x1="407.20" y1="544.80" x2="407.20" y2="547.40" stroke="#1c1c1c" stroke-width="1.0" />
<text x="407.20" y="558.50" font-size="8.2" text-anchor="middle" fill="#1f1f1f" stroke="#1f1f1f" stroke-width="0.22" font-weight="normal"  textLength="48.8" lengthAdjust="spacingAndGlyphs">Early Relapse</text>
<text transform="translate(233.90,474.40) rotate(-90)" x="0" y="3.10" font-size="8.6" text-anchor="middle" fill="#1f1f1f" stroke="#1f1f1f" stroke-width="0.15" textLength="92" lengthAdjust="spacingAndGlyphs">Proportion of IgD+ IHC B cells</text>
<text transform="translate(246.70,474.60) rotate(-90)" x="0" y="3.10" font-size="8.6" text-anchor="middle" fill="#1f1f1f" stroke="#1f1f1f" stroke-width="0.15" textLength="53.5" lengthAdjust="spacingAndGlyphs">(/ B cells in total)</text>
<line x1="325.20" y1="462.12" x2="407.30" y2="487.58" stroke="#ebe2e4" stroke-width="1.0" />
<line x1="325.20" y1="500.31" x2="407.30" y2="538.50" stroke="#ebe2e4" stroke-width="1.0" />
<line x1="325.20" y1="487.58" x2="407.30" y2="468.49" stroke="#7ea2c2" stroke-width="1.0" />
<line x1="325.20" y1="500.31" x2="407.30" y2="493.94" stroke="#7ea2c2" stroke-width="1.0" />
<line x1="325.20" y1="506.68" x2="407.30" y2="436.66" stroke="#7ea2c2" stroke-width="1.0" />
<line x1="325.20" y1="513.04" x2="407.30" y2="436.66" stroke="#7ea2c2" stroke-width="1.0" />
<line x1="325.20" y1="513.04" x2="407.30" y2="443.02" stroke="#7ea2c2" stroke-width="1.0" />
<line x1="325.20" y1="516.22" x2="407.30" y2="455.75" stroke="#7ea2c2" stroke-width="1.0" />
<line x1="325.20" y1="513.04" x2="407.30" y2="481.21" stroke="#7ea2c2" stroke-width="1.0" />
<line x1="325.20" y1="513.04" x2="407.30" y2="513.04" stroke="#7ea2c2" stroke-width="1.0" />
<line x1="325.20" y1="519.40" x2="407.30" y2="487.58" stroke="#7ea2c2" stroke-width="1.0" />
<line x1="325.20" y1="522.59" x2="407.30" y2="500.31" stroke="#7ea2c2" stroke-width="1.0" />
<line x1="325.20" y1="525.77" x2="407.30" y2="506.68" stroke="#7ea2c2" stroke-width="1.0" />
<line x1="325.20" y1="528.95" x2="407.30" y2="493.94" stroke="#7ea2c2" stroke-width="1.0" />
<line x1="325.20" y1="532.13" x2="407.30" y2="519.40" stroke="#7ea2c2" stroke-width="1.0" />
<line x1="325.20" y1="535.32" x2="407.30" y2="525.77" stroke="#7ea2c2" stroke-width="1.0" />
<line x1="325.20" y1="538.50" x2="407.30" y2="532.13" stroke="#7ea2c2" stroke-width="1.0" />
<line x1="325.20" y1="538.50" x2="407.30" y2="513.04" stroke="#7ea2c2" stroke-width="1.0" />
<circle cx="325.2" cy="487.58" r="1.1" fill="#4caf50"/>
<circle cx="325.2" cy="500.31" r="1.1" fill="#4caf50"/>
<circle cx="325.2" cy="506.68" r="1.1" fill="#4caf50"/>
<circle cx="325.2" cy="513.04" r="1.1" fill="#4caf50"/>
<circle cx="325.2" cy="516.22" r="1.1" fill="#4caf50"/>
<circle cx="325.2" cy="519.40" r="1.1" fill="#4caf50"/>
<circle cx="325.2" cy="522.59" r="1.1" fill="#4caf50"/>
<circle cx="325.2" cy="525.77" r="1.1" fill="#4caf50"/>
<circle cx="325.2" cy="528.95" r="1.1" fill="#4caf50"/>
<circle cx="325.2" cy="532.13" r="1.1" fill="#4caf50"/>
<circle cx="325.2" cy="535.32" r="1.1" fill="#4caf50"/>
<circle cx="325.2" cy="538.50" r="1.1" fill="#4caf50"/>
<circle cx="407.3" cy="436.66" r="1.1" fill="#2a3a55"/>
<circle cx="407.3" cy="443.02" r="1.1" fill="#2a3a55"/>
<circle cx="407.3" cy="455.75" r="1.1" fill="#2a3a55"/>
<circle cx="407.3" cy="468.49" r="1.1" fill="#2a3a55"/>
<circle cx="407.3" cy="481.21" r="1.1" fill="#2a3a55"/>
<circle cx="407.3" cy="487.58" r="1.1" fill="#2a3a55"/>
<circle cx="407.3" cy="493.94" r="1.1" fill="#2a3a55"/>
<circle cx="407.3" cy="500.31" r="1.1" fill="#2a3a55"/>
<circle cx="407.3" cy="506.68" r="1.1" fill="#2a3a55"/>
<circle cx="407.3" cy="513.04" r="1.1" fill="#2a3a55"/>
<circle cx="407.3" cy="519.40" r="1.1" fill="#2a3a55"/>
<circle cx="407.3" cy="525.77" r="1.1" fill="#2a3a55"/>
<circle cx="407.3" cy="532.13" r="1.1" fill="#2a3a55"/>
<line x1="348.00" y1="421.50" x2="380.80" y2="421.50" stroke="#1c1c1c" stroke-width="1.0" />
<circle cx="364.4" cy="417.1" r="1.05" fill="#111"/>
<text x="228.5" y="16.7" font-size="11.5" font-weight="bold" fill="#111" stroke="#111" stroke-width="0.35">B</text>
<defs><filter id="rag" x="-5%" y="-5%" width="110%" height="110%"><feTurbulence type="turbulence" baseFrequency="0.9" numOctaves="2" seed="3" result="t"/><feDisplacementMap in="SourceGraphic" in2="t" scale="5" xChannelSelector="R" yChannelSelector="G"/></filter></defs>
<g id="umap">
<g filter="url(#rag)">
<path d="M284.0,47.0 C283.3,38.8 290.7,42.2 300.0,41.0 C309.3,39.8 328.3,38.5 340.0,40.0 C351.7,41.5 364.7,42.3 370.0,50.0 C375.3,57.7 372.7,79.2 372.0,86.0 C371.3,92.8 371.3,89.5 366.0,91.0 C360.7,92.5 349.2,94.0 340.0,95.0 C330.8,96.0 317.0,97.8 311.0,97.0 C305.0,96.2 308.5,98.3 304.0,90.0 C299.5,81.7 284.7,55.2 284.0,47.0 Z" fill="#8a8f80"/>
<path d="M243.8,90.0 C244.9,87.8 246.9,83.6 249.5,80.4 C252.1,77.2 255.8,74.2 259.2,70.8 C262.6,67.4 266.2,64.2 269.7,60.2 C273.2,56.2 276.8,49.7 280.3,46.5 C283.9,43.3 287.2,39.2 291.0,41.0 C294.8,42.8 300.8,49.2 303.0,57.0 C305.2,64.8 302.7,81.3 304.0,88.0 C305.3,94.7 311.7,93.0 311.0,97.0 C310.3,101.0 302.6,106.8 300.0,112.0 C297.4,117.2 297.4,124.7 295.7,128.0 C294.0,131.3 291.9,131.0 290.0,132.0 C288.1,133.0 287.1,135.2 284.2,133.8 C281.3,132.4 276.5,126.7 272.6,123.3 C268.7,119.9 264.9,116.8 261.0,113.7 C257.1,110.7 252.5,108.4 249.5,105.0 C246.5,101.6 243.8,96.0 242.8,93.5 C241.9,91.0 242.7,92.2 243.8,90.0 Z" fill="#8ab866" fill-opacity="1"/>
<path d="M285.0,45.0 C286.5,42.8 289.5,38.8 292.0,36.0 C294.5,33.2 297.7,29.9 300.0,28.0 C302.3,26.1 303.2,25.4 306.0,24.5 C308.8,23.6 313.3,22.8 317.0,22.5 C320.7,22.2 323.5,22.1 328.0,23.0 C332.5,23.9 338.9,25.9 343.8,27.7 C348.8,29.4 353.5,31.6 357.7,33.5 C361.9,35.4 366.1,36.9 369.2,39.2 C372.3,41.5 374.6,44.4 376.2,47.3 C377.8,50.2 378.3,53.0 378.5,56.5 C378.7,60.0 377.7,63.8 377.3,68.0 C376.9,72.2 376.8,78.1 376.2,82.0 C375.6,85.9 376.5,89.5 373.8,91.2 C371.1,92.9 363.6,94.7 360.0,92.0 C356.4,89.3 357.0,80.3 352.0,75.0 C347.0,69.7 338.1,62.5 330.0,60.0 C321.9,57.5 309.1,61.0 303.4,60.0 C297.7,59.0 299.1,55.8 295.7,54.0 C292.3,52.2 284.8,50.5 283.0,49.0 C281.2,47.5 283.5,47.2 285.0,45.0 Z" fill="#3797ab" fill-opacity="1"/>
<path d="M303.4,59.2 C305.6,56.7 311.1,58.0 315.0,57.5 C318.9,57.0 322.7,56.6 326.5,56.5 C330.3,56.4 334.1,56.1 338.0,57.0 C341.9,57.9 345.7,60.2 350.0,62.0 C354.3,63.8 360.2,65.7 364.0,68.0 C367.8,70.3 372.0,72.7 373.0,76.0 C374.0,79.3 372.2,85.0 370.0,88.0 C367.8,91.0 364.2,92.7 360.0,94.0 C355.8,95.3 350.6,95.6 345.0,96.0 C339.4,96.4 332.5,97.0 326.5,96.4 C320.5,95.8 312.9,94.2 309.0,92.5 C305.1,90.8 304.2,89.3 303.0,86.0 C301.8,82.7 301.4,77.2 301.5,72.7 C301.6,68.2 301.1,61.7 303.4,59.2 Z" fill="#c8806a" fill-opacity="1"/>
<path d="M312.0,93.0 C314.2,91.0 327.0,94.0 335.0,94.0 C343.0,94.0 353.8,93.7 360.0,93.0 C366.2,92.3 369.7,89.2 372.0,90.0 C374.3,90.8 375.7,96.2 374.0,98.0 C372.3,99.8 366.7,100.7 362.0,101.0 C357.3,101.3 350.7,100.0 346.0,100.0 C341.3,100.0 338.0,100.0 334.0,101.0 C330.0,102.0 325.7,107.3 322.0,106.0 C318.3,104.7 309.8,95.0 312.0,93.0 Z" fill="#6ea3a0" fill-opacity="0.7"/>
<path d="M283.0,96.0 C284.5,92.1 291.8,91.2 296.0,91.0 C300.2,90.8 305.0,92.8 308.0,95.0 C311.0,97.2 313.7,100.5 314.0,104.0 C314.3,107.5 311.8,112.8 310.0,116.0 C308.2,119.2 305.4,121.0 303.0,123.0 C300.6,125.0 298.4,129.4 295.7,128.0 C293.0,126.6 289.1,119.9 287.0,114.6 C284.9,109.3 281.5,99.9 283.0,96.0 Z" fill="#5fa6b0" fill-opacity="0.7"/>
<path d="M303.4,123.5 C304.8,121.5 309.4,117.8 312.0,116.0 C314.6,114.2 316.4,113.1 318.8,112.7 C321.2,112.3 326.2,111.6 326.5,113.7 C326.8,115.8 323.3,122.5 320.7,125.2 C318.1,127.9 313.9,129.5 311.0,130.0 C308.1,130.5 304.7,129.1 303.4,128.0 C302.1,126.9 302.0,125.5 303.4,123.5 Z" fill="#3aa643" fill-opacity="1"/>
<path d="M334.0,103.8 C336.2,101.6 341.9,101.5 346.0,101.0 C350.1,100.5 353.3,100.0 358.3,100.7 C363.3,101.4 370.8,102.9 376.0,105.1 C381.2,107.3 384.9,111.0 389.3,114.0 C393.7,117.0 399.3,119.8 402.6,122.8 C405.9,125.8 408.5,128.8 409.2,131.7 C409.9,134.6 409.2,138.3 407.0,140.5 C404.8,142.7 401.8,144.0 395.9,145.0 C390.0,146.0 378.6,146.7 371.6,146.3 C364.6,145.9 358.7,144.4 353.9,142.7 C349.1,141.0 345.8,139.0 342.8,136.1 C339.9,133.2 337.9,128.7 336.2,125.0 C334.5,121.3 333.1,117.5 332.7,114.0 C332.3,110.5 331.8,106.0 334.0,103.8 Z" fill="#5033a0" fill-opacity="1"/>
<path d="M374.0,88.5 C376.3,86.5 383.8,86.4 388.0,87.0 C392.2,87.6 396.8,90.2 399.0,92.0 C401.2,93.8 401.8,96.2 401.0,98.0 C400.2,99.8 397.5,102.1 394.0,103.0 C390.5,103.9 383.3,104.2 380.0,103.5 C376.7,102.8 375.0,101.5 374.0,99.0 C373.0,96.5 371.7,90.5 374.0,88.5 Z" fill="#3a8f45" fill-opacity="1"/>
<path d="M401.5,64.6 C402.7,62.3 405.9,62.3 408.0,62.0 C410.1,61.7 412.0,62.3 414.0,63.0 C416.0,63.7 417.8,66.0 420.0,66.0 C422.2,66.0 424.7,63.2 427.0,63.0 C429.3,62.8 431.8,63.5 434.0,64.5 C436.2,65.5 438.5,66.9 440.0,69.0 C441.5,71.1 442.9,74.8 443.0,77.3 C443.1,79.8 442.5,82.2 440.8,84.2 C439.1,86.2 435.5,87.7 433.0,89.0 C430.5,90.3 428.2,91.0 426.0,92.0 C423.8,93.0 422.3,95.0 420.0,95.0 C417.7,95.0 414.5,93.7 412.0,92.0 C409.5,90.3 406.8,87.7 405.0,85.0 C403.2,82.3 401.6,79.4 401.0,76.0 C400.4,72.6 400.3,66.9 401.5,64.6 Z" fill="#c4303a" fill-opacity="1"/>
<path d="M436.0,123.0 C437.2,122.0 440.7,121.6 443.0,121.5 C445.3,121.4 448.8,121.3 450.0,122.5 C451.2,123.7 451.8,127.3 450.5,128.5 C449.2,129.7 444.5,129.7 442.0,129.5 C439.5,129.3 436.5,128.6 435.5,127.5 C434.5,126.4 434.8,124.0 436.0,123.0 Z" fill="#a44a26" fill-opacity="1"/>
<path d="M294.4 61.8h1v1h-1zM257.6 102.0h1v1h-1zM276.6 100.9h1v1h-1zM286.8 115.3h1v1h-1zM283.1 79.4h1v1h-1zM268.6 76.9h1v1h-1zM267.2 112.1h1v1h-1zM270.2 89.2h1v1h-1zM277.2 64.3h1v1h-1zM274.4 111.3h1v1h-1zM266.2 80.1h1v1h-1zM269.5 80.7h1v1h-1zM283.1 85.9h1v1h-1zM276.5 121.7h1v1h-1zM264.9 77.2h1v1h-1zM259.2 109.5h1v1h-1zM275.1 67.0h1v1h-1zM255.3 97.1h1v1h-1zM277.7 50.3h1v1h-1zM265.7 92.6h1v1h-1zM294.8 65.4h1v1h-1zM279.6 101.2h1v1h-1zM271.8 112.1h1v1h-1zM260.6 76.1h1v1h-1zM306.9 101.9h1v1h-1zM294.5 54.9h1v1h-1zM285.4 56.4h1v1h-1zM266.1 97.8h1v1h-1zM271.7 65.7h1v1h-1zM302.0 88.3h1v1h-1zM291.2 124.1h1v1h-1zM298.1 66.6h1v1h-1zM290.4 113.3h1v1h-1zM255.8 90.8h1v1h-1zM263.1 77.7h1v1h-1zM279.4 89.4h1v1h-1zM255.1 87.5h1v1h-1zM301.3 90.8h1v1h-1zM298.3 50.9h1v1h-1zM289.3 73.6h1v1h-1zM281.0 87.0h1v1h-1zM276.2 104.6h1v1h-1zM248.0 89.6h1v1h-1zM258.5 109.0h1v1h-1zM291.0 42.8h1v1h-1zM272.6 100.7h1v1h-1zM288.4 103.7h1v1h-1zM287.1 100.9h1v1h-1zM290.8 84.2h1v1h-1zM273.2 60.4h1v1h-1zM293.0 54.4h1v1h-1zM254.9 105.7h1v1h-1zM255.4 102.1h1v1h-1zM265.3 114.0h1v1h-1zM302.9 77.4h1v1h-1zM280.5 85.5h1v1h-1zM278.8 55.9h1v1h-1zM260.7 69.4h1v1h-1zM293.5 48.8h1v1h-1zM287.2 85.1h1v1h-1zM277.1 99.8h1v1h-1zM296.1 66.8h1v1h-1zM283.4 110.0h1v1h-1zM292.2 54.9h1v1h-1zM266.2 102.6h1v1h-1zM290.7 45.4h1v1h-1zM278.3 122.1h1v1h-1zM257.6 92.5h1v1h-1zM296.8 115.6h1v1h-1zM267.8 113.3h1v1h-1zM292.8 62.2h1v1h-1zM292.9 129.2h1v1h-1zM297.7 106.1h1v1h-1zM286.9 131.5h1v1h-1zM279.6 70.9h1v1h-1zM260.4 75.1h1v1h-1zM270.2 113.1h1v1h-1zM274.6 94.9h1v1h-1zM298.6 76.1h1v1h-1zM282.0 86.9h1v1h-1zM291.9 80.0h1v1h-1zM286.0 99.8h1v1h-1zM283.8 84.0h1v1h-1zM270.8 67.4h1v1h-1zM303.6 88.7h1v1h-1zM286.9 86.9h1v1h-1zM260.0 107.8h1v1h-1zM268.5 75.1h1v1h-1zM262.7 82.4h1v1h-1zM275.4 71.7h1v1h-1zM271.1 68.1h1v1h-1zM266.0 85.9h1v1h-1zM286.5 67.9h1v1h-1zM255.6 96.1h1v1h-1zM298.7 51.9h1v1h-1zM256.9 106.4h1v1h-1zM286.0 80.3h1v1h-1zM272.1 97.3h1v1h-1zM288.8 103.5h1v1h-1zM254.8 95.3h1v1h-1zM285.5 54.0h1v1h-1zM253.2 84.8h1v1h-1zM277.3 101.6h1v1h-1zM283.2 106.8h1v1h-1zM287.7 126.9h1v1h-1zM286.1 128.3h1v1h-1zM285.6 67.1h1v1h-1zM297.9 107.7h1v1h-1zM300.6 56.1h1v1h-1zM262.2 98.7h1v1h-1zM291.0 120.6h1v1h-1zM273.8 108.9h1v1h-1zM288.1 86.3h1v1h-1zM258.3 106.8h1v1h-1zM271.5 121.8h1v1h-1zM273.9 83.9h1v1h-1zM305.2 93.8h1v1h-1zM290.6 119.0h1v1h-1zM272.1 69.7h1v1h-1zM296.5 94.4h1v1h-1zM280.3 78.1h1v1h-1zM249.7 92.0h1v1h-1zM287.9 118.8h1v1h-1zM299.7 78.4h1v1h-1zM291.0 44.7h1v1h-1zM270.3 64.1h1v1h-1zM295.3 51.6h1v1h-1zM294.5 63.7h1v1h-1zM273.6 84.0h1v1h-1zM262.9 106.7h1v1h-1zM302.0 103.2h1v1h-1zM284.1 106.4h1v1h-1zM301.1 60.1h1v1h-1zM260.8 94.7h1v1h-1zM247.1 90.4h1v1h-1zM301.8 87.5h1v1h-1zM285.0 55.3h1v1h-1zM292.8 72.4h1v1h-1zM293.3 71.0h1v1h-1zM296.2 60.9h1v1h-1zM297.9 110.3h1v1h-1zM298.3 62.8h1v1h-1zM302.8 73.8h1v1h-1zM252.8 82.2h1v1h-1zM295.9 93.8h1v1h-1zM290.1 72.1h1v1h-1zM299.0 87.1h1v1h-1zM302.8 73.7h1v1h-1zM266.5 115.8h1v1h-1zM289.3 59.2h1v1h-1zM302.9 95.7h1v1h-1zM295.9 54.2h1v1h-1zM249.2 82.0h1v1h-1zM301.6 71.7h1v1h-1zM273.4 92.6h1v1h-1zM285.1 122.5h1v1h-1zM262.0 82.7h1v1h-1zM265.2 102.7h1v1h-1zM281.7 104.5h1v1h-1zM265.9 96.9h1v1h-1zM279.3 51.5h1v1h-1zM271.8 85.6h1v1h-1zM256.5 87.6h1v1h-1zM279.7 101.3h1v1h-1zM271.1 80.2h1v1h-1zM267.5 73.9h1v1h-1zM269.9 72.1h1v1h-1zM301.1 72.7h1v1h-1zM263.7 84.8h1v1h-1zM275.7 84.0h1v1h-1zM264.4 72.2h1v1h-1zM294.1 80.4h1v1h-1zM257.8 79.3h1v1h-1zM263.8 85.9h1v1h-1zM265.0 81.4h1v1h-1zM296.4 114.4h1v1h-1zM299.4 81.8h1v1h-1zM282.6 89.5h1v1h-1zM243.9 90.6h1v1h-1zM274.6 119.8h1v1h-1zM280.0 100.5h1v1h-1zM280.6 103.9h1v1h-1zM285.1 74.1h1v1h-1zM299.1 92.2h1v1h-1zM300.6 61.2h1v1h-1zM295.3 121.5h1v1h-1zM304.8 89.7h1v1h-1zM273.6 72.1h1v1h-1zM281.5 64.5h1v1h-1zM288.6 85.2h1v1h-1zM286.5 89.3h1v1h-1zM274.1 81.9h1v1h-1zM254.6 80.9h1v1h-1zM302.1 106.4h1v1h-1zM263.8 83.0h1v1h-1zM298.5 103.5h1v1h-1zM286.1 58.9h1v1h-1zM296.0 60.9h1v1h-1zM281.6 71.5h1v1h-1zM295.8 66.6h1v1h-1zM259.5 70.9h1v1h-1zM300.1 56.9h1v1h-1zM245.0 93.7h1v1h-1zM265.9 75.7h1v1h-1zM291.0 56.0h1v1h-1zM271.7 84.2h1v1h-1zM292.2 49.1h1v1h-1zM297.8 51.3h1v1h-1zM289.0 51.9h1v1h-1zM268.2 106.4h1v1h-1zM285.2 58.9h1v1h-1zM300.1 81.4h1v1h-1zM283.0 45.5h1v1h-1z" fill="#3e522d" fill-opacity="0.8"/>
<path d="M250.5 100.4h1v1h-1zM291.0 116.7h1v1h-1zM285.3 55.8h1v1h-1zM289.2 58.9h1v1h-1zM293.1 93.3h1v1h-1zM289.2 112.9h1v1h-1zM279.1 56.4h1v1h-1zM286.5 102.5h1v1h-1zM265.2 70.0h1v1h-1zM266.4 112.3h1v1h-1zM280.4 115.0h1v1h-1zM286.5 101.0h1v1h-1zM284.9 73.2h1v1h-1zM276.3 84.5h1v1h-1zM286.2 111.8h1v1h-1zM276.1 77.1h1v1h-1zM277.9 121.1h1v1h-1zM289.8 94.3h1v1h-1zM275.6 90.4h1v1h-1zM244.8 90.2h1v1h-1zM260.8 101.4h1v1h-1zM280.9 51.8h1v1h-1zM301.2 72.2h1v1h-1zM274.3 59.7h1v1h-1zM267.7 110.4h1v1h-1zM292.9 120.5h1v1h-1zM277.1 79.5h1v1h-1zM270.6 109.7h1v1h-1zM291.8 105.6h1v1h-1zM305.5 100.2h1v1h-1zM299.4 67.8h1v1h-1zM296.4 122.8h1v1h-1zM268.3 70.7h1v1h-1zM302.9 89.4h1v1h-1zM297.5 62.0h1v1h-1zM285.6 130.0h1v1h-1zM273.6 116.8h1v1h-1zM246.0 89.1h1v1h-1zM267.3 85.5h1v1h-1zM277.0 87.2h1v1h-1zM289.4 115.2h1v1h-1zM285.1 55.3h1v1h-1zM280.2 93.9h1v1h-1zM270.0 64.7h1v1h-1zM284.6 68.5h1v1h-1zM281.1 82.8h1v1h-1zM274.5 109.8h1v1h-1zM272.3 96.1h1v1h-1zM272.0 112.5h1v1h-1zM290.1 74.2h1v1h-1zM267.5 78.8h1v1h-1zM286.7 48.1h1v1h-1zM274.9 55.0h1v1h-1zM272.7 83.0h1v1h-1zM308.5 96.1h1v1h-1zM277.6 53.0h1v1h-1zM293.6 127.0h1v1h-1zM248.3 84.8h1v1h-1zM292.6 116.6h1v1h-1zM285.1 117.2h1v1h-1zM293.3 128.0h1v1h-1zM256.6 84.7h1v1h-1zM287.2 43.2h1v1h-1zM302.1 63.7h1v1h-1zM298.4 106.8h1v1h-1zM282.2 52.5h1v1h-1zM270.0 74.3h1v1h-1zM286.8 117.4h1v1h-1zM260.0 83.1h1v1h-1zM286.6 54.8h1v1h-1zM298.9 59.6h1v1h-1zM255.6 97.7h1v1h-1zM291.5 41.7h1v1h-1zM292.8 113.5h1v1h-1zM245.0 96.9h1v1h-1zM254.7 80.6h1v1h-1zM265.9 96.2h1v1h-1zM279.7 91.7h1v1h-1zM299.3 63.2h1v1h-1zM265.4 110.0h1v1h-1zM255.3 75.9h1v1h-1zM276.8 56.3h1v1h-1zM300.9 67.0h1v1h-1zM260.0 81.4h1v1h-1zM279.8 78.7h1v1h-1zM279.4 90.2h1v1h-1zM295.6 104.5h1v1h-1zM259.2 109.4h1v1h-1zM295.5 119.0h1v1h-1zM274.2 118.8h1v1h-1zM295.5 91.2h1v1h-1zM259.9 106.6h1v1h-1zM257.1 91.9h1v1h-1zM278.1 60.1h1v1h-1zM272.9 60.4h1v1h-1zM306.4 100.5h1v1h-1zM252.2 89.1h1v1h-1zM294.6 60.8h1v1h-1zM282.2 92.1h1v1h-1zM279.5 88.9h1v1h-1zM255.7 99.1h1v1h-1zM293.6 59.9h1v1h-1zM284.7 57.3h1v1h-1zM270.9 72.4h1v1h-1zM304.7 97.1h1v1h-1zM281.0 49.7h1v1h-1zM292.1 114.4h1v1h-1zM293.4 82.0h1v1h-1zM261.5 81.0h1v1h-1zM276.0 107.4h1v1h-1zM281.2 89.0h1v1h-1zM297.6 108.3h1v1h-1zM273.5 69.4h1v1h-1zM253.2 94.3h1v1h-1zM289.2 114.1h1v1h-1zM255.8 75.5h1v1h-1zM291.4 51.8h1v1h-1zM293.9 94.0h1v1h-1zM291.2 47.1h1v1h-1zM280.7 46.3h1v1h-1zM286.7 97.0h1v1h-1zM276.7 76.0h1v1h-1zM286.0 80.6h1v1h-1zM276.1 52.0h1v1h-1zM292.3 52.4h1v1h-1zM296.0 80.0h1v1h-1zM282.3 53.0h1v1h-1zM288.0 112.8h1v1h-1zM296.7 69.4h1v1h-1zM296.1 100.0h1v1h-1zM301.4 60.7h1v1h-1zM276.1 93.1h1v1h-1zM272.4 93.5h1v1h-1zM277.7 65.3h1v1h-1zM300.9 107.5h1v1h-1zM280.4 121.8h1v1h-1zM263.4 76.2h1v1h-1zM301.7 63.9h1v1h-1zM250.0 98.0h1v1h-1zM277.0 113.0h1v1h-1zM283.4 56.6h1v1h-1zM289.9 62.7h1v1h-1zM288.4 94.3h1v1h-1zM278.1 49.7h1v1h-1zM273.2 66.1h1v1h-1zM258.1 75.7h1v1h-1zM282.1 128.5h1v1h-1zM294.5 126.6h1v1h-1zM303.7 102.0h1v1h-1zM281.2 91.5h1v1h-1zM292.1 46.7h1v1h-1zM249.5 98.4h1v1h-1zM269.2 112.1h1v1h-1zM265.9 83.3h1v1h-1zM299.9 87.7h1v1h-1zM297.2 78.5h1v1h-1zM292.3 125.9h1v1h-1zM294.3 124.0h1v1h-1zM276.1 109.5h1v1h-1zM295.5 79.7h1v1h-1zM291.2 110.6h1v1h-1zM286.1 72.3h1v1h-1zM286.4 85.8h1v1h-1zM292.1 72.4h1v1h-1zM295.2 100.3h1v1h-1zM288.5 65.4h1v1h-1zM282.4 109.0h1v1h-1zM286.4 52.5h1v1h-1zM244.9 89.3h1v1h-1zM279.4 86.5h1v1h-1zM293.9 101.2h1v1h-1zM289.2 85.0h1v1h-1zM272.5 90.2h1v1h-1zM280.0 99.0h1v1h-1zM283.5 48.4h1v1h-1zM292.1 66.1h1v1h-1zM301.7 94.2h1v1h-1zM283.5 102.0h1v1h-1zM262.2 70.3h1v1h-1zM290.4 60.6h1v1h-1zM260.4 87.9h1v1h-1zM279.1 105.7h1v1h-1zM274.8 57.9h1v1h-1zM297.4 84.7h1v1h-1zM287.0 48.4h1v1h-1zM286.8 91.7h1v1h-1zM261.4 69.0h1v1h-1zM282.4 75.9h1v1h-1zM270.9 102.6h1v1h-1zM280.1 124.3h1v1h-1zM298.0 114.4h1v1h-1zM260.6 83.4h1v1h-1zM284.8 127.2h1v1h-1zM271.1 81.0h1v1h-1zM282.4 63.9h1v1h-1zM291.7 80.2h1v1h-1zM282.9 101.3h1v1h-1zM255.6 83.0h1v1h-1zM295.9 71.6h1v1h-1zM272.4 82.1h1v1h-1zM292.1 61.9h1v1h-1zM266.6 69.1h1v1h-1zM269.4 88.4h1v1h-1zM273.3 56.6h1v1h-1zM285.8 129.2h1v1h-1zM293.8 81.6h1v1h-1z" fill="#526e3d" fill-opacity="0.8"/>
<path d="M262.4 78.2h1v1h-1zM249.3 99.0h1v1h-1zM302.0 97.1h1v1h-1zM262.6 83.2h1v1h-1zM291.5 100.3h1v1h-1zM283.2 83.4h1v1h-1zM279.9 95.9h1v1h-1zM295.5 121.1h1v1h-1zM267.4 110.1h1v1h-1zM303.5 85.6h1v1h-1zM254.9 84.9h1v1h-1zM290.9 117.8h1v1h-1zM274.8 117.3h1v1h-1zM267.5 89.9h1v1h-1zM286.9 128.3h1v1h-1zM263.5 79.7h1v1h-1zM261.2 95.4h1v1h-1zM292.3 74.4h1v1h-1zM306.0 93.3h1v1h-1zM283.3 95.5h1v1h-1zM280.7 102.0h1v1h-1zM292.2 64.4h1v1h-1zM283.6 110.2h1v1h-1zM300.9 60.9h1v1h-1zM308.0 93.3h1v1h-1zM297.7 71.1h1v1h-1zM289.4 116.6h1v1h-1zM296.7 74.9h1v1h-1zM254.9 91.7h1v1h-1zM288.0 84.5h1v1h-1zM283.9 79.2h1v1h-1zM286.6 116.3h1v1h-1zM299.0 113.8h1v1h-1zM287.3 76.3h1v1h-1zM292.0 106.9h1v1h-1zM296.2 53.1h1v1h-1zM277.0 112.5h1v1h-1zM270.8 95.4h1v1h-1zM244.1 89.5h1v1h-1zM255.1 103.0h1v1h-1zM268.4 75.0h1v1h-1zM291.3 58.4h1v1h-1zM268.8 93.2h1v1h-1zM295.9 55.2h1v1h-1zM256.4 102.0h1v1h-1zM283.2 123.9h1v1h-1zM300.9 75.4h1v1h-1zM298.1 59.1h1v1h-1zM291.8 66.2h1v1h-1zM288.2 44.2h1v1h-1zM299.4 74.0h1v1h-1zM277.5 51.4h1v1h-1zM252.6 79.8h1v1h-1zM290.9 71.0h1v1h-1zM274.5 104.4h1v1h-1zM300.4 57.8h1v1h-1zM270.1 92.8h1v1h-1zM291.9 77.2h1v1h-1zM243.4 92.9h1v1h-1zM272.3 106.5h1v1h-1zM262.5 86.1h1v1h-1zM275.5 108.7h1v1h-1zM278.8 121.1h1v1h-1zM284.2 126.5h1v1h-1zM267.9 91.0h1v1h-1zM254.5 105.3h1v1h-1zM268.2 112.9h1v1h-1zM280.2 123.4h1v1h-1zM263.5 84.8h1v1h-1zM261.8 107.2h1v1h-1zM263.6 77.6h1v1h-1zM269.2 74.4h1v1h-1zM292.9 107.7h1v1h-1zM286.3 96.5h1v1h-1zM269.4 115.8h1v1h-1zM278.3 121.1h1v1h-1zM281.9 102.8h1v1h-1zM278.9 63.0h1v1h-1zM247.0 86.5h1v1h-1zM293.5 87.5h1v1h-1zM271.2 84.7h1v1h-1zM296.9 52.2h1v1h-1zM302.2 56.5h1v1h-1zM296.6 118.1h1v1h-1zM271.2 97.7h1v1h-1zM265.9 96.8h1v1h-1zM267.7 86.9h1v1h-1zM281.4 80.3h1v1h-1zM254.9 84.4h1v1h-1zM273.3 100.0h1v1h-1zM251.9 100.0h1v1h-1zM294.1 108.9h1v1h-1zM291.0 59.8h1v1h-1zM278.0 72.6h1v1h-1zM257.2 88.6h1v1h-1zM303.3 65.4h1v1h-1zM275.0 60.6h1v1h-1zM263.6 112.5h1v1h-1zM260.2 73.9h1v1h-1zM269.1 101.3h1v1h-1zM280.8 82.7h1v1h-1zM285.6 100.9h1v1h-1zM256.0 75.5h1v1h-1zM289.9 54.9h1v1h-1zM288.5 87.6h1v1h-1zM294.3 57.8h1v1h-1zM286.3 73.7h1v1h-1zM294.1 82.1h1v1h-1zM267.5 73.2h1v1h-1zM281.4 74.5h1v1h-1zM265.9 73.0h1v1h-1zM299.0 90.2h1v1h-1zM295.9 73.2h1v1h-1zM278.6 122.3h1v1h-1zM276.7 53.2h1v1h-1zM295.3 118.4h1v1h-1zM299.9 88.4h1v1h-1zM258.4 105.1h1v1h-1zM283.2 91.8h1v1h-1zM295.7 107.1h1v1h-1zM268.7 113.0h1v1h-1zM269.0 98.6h1v1h-1zM305.8 94.1h1v1h-1zM294.7 94.4h1v1h-1zM263.9 115.0h1v1h-1zM289.1 51.1h1v1h-1zM285.1 130.7h1v1h-1zM278.6 74.8h1v1h-1zM273.6 85.8h1v1h-1zM293.5 104.6h1v1h-1zM267.4 74.0h1v1h-1zM294.1 80.5h1v1h-1zM285.8 111.8h1v1h-1zM286.6 68.5h1v1h-1zM276.7 124.8h1v1h-1zM286.2 46.1h1v1h-1zM294.1 59.6h1v1h-1zM273.9 80.8h1v1h-1zM278.3 111.9h1v1h-1zM286.4 126.4h1v1h-1zM275.2 116.5h1v1h-1zM266.5 100.1h1v1h-1zM290.2 60.7h1v1h-1zM257.1 77.1h1v1h-1zM292.1 80.0h1v1h-1zM295.6 96.8h1v1h-1zM296.0 97.6h1v1h-1zM301.8 77.2h1v1h-1zM277.8 119.8h1v1h-1zM256.1 87.7h1v1h-1zM290.2 122.6h1v1h-1zM270.7 75.8h1v1h-1zM284.7 57.6h1v1h-1zM298.5 53.5h1v1h-1zM270.9 117.8h1v1h-1zM301.1 95.6h1v1h-1zM290.4 109.6h1v1h-1zM302.7 62.7h1v1h-1zM280.2 63.2h1v1h-1zM256.9 87.3h1v1h-1zM255.4 108.8h1v1h-1zM287.6 116.8h1v1h-1zM300.7 104.0h1v1h-1zM278.2 62.7h1v1h-1zM257.7 87.6h1v1h-1zM278.9 121.5h1v1h-1zM275.9 79.6h1v1h-1zM283.7 108.1h1v1h-1zM291.8 50.5h1v1h-1zM295.2 115.4h1v1h-1zM292.6 67.4h1v1h-1zM270.7 72.6h1v1h-1zM292.8 49.3h1v1h-1zM270.6 94.0h1v1h-1zM265.1 91.5h1v1h-1zM302.7 82.8h1v1h-1zM255.5 89.7h1v1h-1zM276.9 100.9h1v1h-1zM275.4 82.4h1v1h-1zM272.4 96.4h1v1h-1zM290.9 68.3h1v1h-1zM274.2 72.9h1v1h-1zM273.9 59.8h1v1h-1zM291.1 60.0h1v1h-1zM268.2 91.9h1v1h-1zM279.0 101.9h1v1h-1zM259.8 100.2h1v1h-1zM295.0 67.3h1v1h-1zM244.5 92.7h1v1h-1zM273.0 121.2h1v1h-1zM265.5 73.5h1v1h-1zM262.0 104.8h1v1h-1zM266.4 67.4h1v1h-1zM266.1 67.8h1v1h-1zM263.7 100.1h1v1h-1zM274.9 91.7h1v1h-1zM265.4 69.9h1v1h-1zM288.8 108.0h1v1h-1zM280.0 64.2h1v1h-1zM257.1 89.4h1v1h-1zM263.6 78.3h1v1h-1zM275.2 56.1h1v1h-1zM287.8 49.6h1v1h-1zM281.8 127.3h1v1h-1zM291.3 87.2h1v1h-1zM289.3 127.3h1v1h-1zM251.6 82.5h1v1h-1zM284.8 118.4h1v1h-1zM291.1 69.9h1v1h-1zM261.7 92.4h1v1h-1zM291.5 97.4h1v1h-1zM309.1 96.1h1v1h-1z" fill="#a1c684" fill-opacity="0.8"/>
<path d="M279.0 109.6h1v1h-1zM251.0 106.0h1v1h-1zM301.4 63.3h1v1h-1zM268.0 110.1h1v1h-1zM301.5 60.2h1v1h-1zM296.2 120.7h1v1h-1zM293.0 90.7h1v1h-1zM274.5 71.0h1v1h-1zM268.1 110.6h1v1h-1zM298.1 98.3h1v1h-1zM287.4 68.9h1v1h-1zM254.6 102.4h1v1h-1zM263.4 91.8h1v1h-1zM294.6 79.3h1v1h-1zM302.9 92.1h1v1h-1zM300.5 72.4h1v1h-1zM303.3 91.7h1v1h-1zM297.2 76.7h1v1h-1zM277.8 52.2h1v1h-1zM260.3 93.9h1v1h-1zM284.2 127.2h1v1h-1zM270.6 78.7h1v1h-1zM282.3 90.3h1v1h-1zM282.9 99.0h1v1h-1zM300.4 97.1h1v1h-1zM293.2 78.2h1v1h-1zM294.5 115.0h1v1h-1zM267.2 63.8h1v1h-1zM273.6 116.4h1v1h-1zM277.0 52.2h1v1h-1zM286.2 112.5h1v1h-1zM278.6 102.6h1v1h-1zM290.0 51.8h1v1h-1zM278.0 93.0h1v1h-1zM293.1 122.3h1v1h-1zM291.3 123.6h1v1h-1zM293.9 53.2h1v1h-1zM295.6 84.5h1v1h-1zM285.6 49.2h1v1h-1zM291.1 46.3h1v1h-1zM254.0 79.6h1v1h-1zM293.5 63.9h1v1h-1zM275.2 57.4h1v1h-1zM297.7 101.2h1v1h-1zM268.3 114.5h1v1h-1zM289.6 101.2h1v1h-1zM257.8 106.6h1v1h-1zM276.6 122.9h1v1h-1zM287.3 103.7h1v1h-1zM297.7 84.9h1v1h-1zM288.1 102.7h1v1h-1zM277.3 123.1h1v1h-1zM263.7 69.7h1v1h-1zM277.9 121.2h1v1h-1zM251.4 82.6h1v1h-1zM290.0 113.2h1v1h-1zM296.4 87.5h1v1h-1zM275.6 95.2h1v1h-1zM289.6 102.6h1v1h-1zM260.7 82.7h1v1h-1zM265.8 115.1h1v1h-1zM259.9 86.1h1v1h-1zM290.5 53.1h1v1h-1zM286.2 46.0h1v1h-1zM268.6 65.0h1v1h-1zM271.1 97.5h1v1h-1zM261.3 108.9h1v1h-1zM279.2 103.6h1v1h-1zM280.8 68.7h1v1h-1zM281.2 128.9h1v1h-1zM287.0 55.9h1v1h-1zM288.9 86.7h1v1h-1zM290.2 120.8h1v1h-1zM279.7 86.9h1v1h-1zM297.4 51.2h1v1h-1zM265.8 112.7h1v1h-1zM307.0 100.1h1v1h-1zM288.2 91.2h1v1h-1zM288.2 110.0h1v1h-1zM296.6 82.5h1v1h-1zM280.0 108.7h1v1h-1zM300.2 68.1h1v1h-1zM296.3 70.5h1v1h-1zM279.8 102.0h1v1h-1zM283.9 55.3h1v1h-1zM283.2 56.9h1v1h-1zM288.4 127.6h1v1h-1zM290.9 80.8h1v1h-1zM294.0 58.3h1v1h-1zM303.3 80.4h1v1h-1zM279.6 67.1h1v1h-1zM296.6 114.7h1v1h-1zM261.5 72.1h1v1h-1zM288.4 52.2h1v1h-1zM244.1 91.0h1v1h-1zM296.2 104.9h1v1h-1zM267.1 95.8h1v1h-1zM276.5 81.4h1v1h-1zM291.0 98.7h1v1h-1zM268.7 92.3h1v1h-1zM268.8 64.6h1v1h-1zM277.6 68.2h1v1h-1zM246.8 93.7h1v1h-1zM289.8 109.9h1v1h-1zM294.8 89.7h1v1h-1zM273.3 84.9h1v1h-1zM302.9 58.8h1v1h-1zM261.0 106.8h1v1h-1zM290.8 84.7h1v1h-1zM291.2 109.2h1v1h-1zM293.7 57.5h1v1h-1zM269.1 69.6h1v1h-1zM283.9 70.0h1v1h-1zM261.4 87.9h1v1h-1zM295.3 98.2h1v1h-1zM293.6 119.6h1v1h-1zM295.7 118.3h1v1h-1zM297.0 63.3h1v1h-1zM279.7 49.3h1v1h-1zM285.1 85.8h1v1h-1zM289.2 72.6h1v1h-1zM301.8 71.0h1v1h-1zM269.8 94.4h1v1h-1zM279.5 90.8h1v1h-1zM275.1 100.7h1v1h-1zM293.8 104.2h1v1h-1zM253.8 97.9h1v1h-1zM282.9 118.0h1v1h-1zM264.5 109.6h1v1h-1zM270.6 97.2h1v1h-1zM271.7 114.2h1v1h-1zM299.6 58.6h1v1h-1zM257.5 75.6h1v1h-1zM289.4 83.9h1v1h-1zM259.1 77.1h1v1h-1zM267.9 82.8h1v1h-1zM283.6 60.1h1v1h-1zM252.8 101.4h1v1h-1zM295.4 54.6h1v1h-1zM287.2 99.9h1v1h-1zM285.9 49.5h1v1h-1zM299.9 85.4h1v1h-1zM260.5 94.4h1v1h-1zM269.5 69.9h1v1h-1zM249.0 103.8h1v1h-1zM269.4 111.5h1v1h-1zM301.4 108.3h1v1h-1zM285.0 67.0h1v1h-1zM257.9 93.6h1v1h-1zM287.0 127.7h1v1h-1zM281.2 130.2h1v1h-1zM278.0 117.8h1v1h-1zM286.0 125.7h1v1h-1zM270.7 82.1h1v1h-1zM277.5 84.0h1v1h-1zM282.0 97.3h1v1h-1zM245.7 97.4h1v1h-1zM296.7 86.3h1v1h-1zM285.6 67.9h1v1h-1zM277.8 74.0h1v1h-1zM256.7 76.7h1v1h-1zM295.2 121.2h1v1h-1zM270.4 103.9h1v1h-1zM291.5 45.7h1v1h-1zM285.8 104.0h1v1h-1zM283.2 89.6h1v1h-1zM287.2 122.5h1v1h-1zM286.3 125.6h1v1h-1zM292.6 43.4h1v1h-1zM298.7 96.4h1v1h-1zM278.0 51.4h1v1h-1zM274.8 113.4h1v1h-1zM287.1 111.9h1v1h-1zM297.5 83.4h1v1h-1zM292.4 119.0h1v1h-1zM280.6 83.3h1v1h-1zM277.7 88.4h1v1h-1zM289.1 65.1h1v1h-1zM289.4 85.9h1v1h-1zM287.4 87.6h1v1h-1zM292.9 44.8h1v1h-1zM290.5 76.0h1v1h-1zM252.8 92.2h1v1h-1zM269.9 105.5h1v1h-1zM298.2 93.6h1v1h-1zM254.0 104.5h1v1h-1zM259.8 77.5h1v1h-1zM273.1 64.5h1v1h-1zM277.3 79.2h1v1h-1zM298.5 51.1h1v1h-1zM292.8 97.9h1v1h-1zM274.1 118.8h1v1h-1zM253.3 80.3h1v1h-1zM270.8 91.3h1v1h-1zM299.9 82.5h1v1h-1zM277.3 56.4h1v1h-1zM276.3 113.4h1v1h-1zM272.0 74.7h1v1h-1zM299.6 97.0h1v1h-1zM287.8 76.5h1v1h-1zM270.0 60.9h1v1h-1zM250.8 88.3h1v1h-1zM288.1 82.7h1v1h-1zM280.2 54.3h1v1h-1zM270.9 91.8h1v1h-1zM286.3 54.9h1v1h-1zM277.6 116.6h1v1h-1zM282.4 92.0h1v1h-1zM281.9 107.8h1v1h-1zM271.0 64.2h1v1h-1zM262.8 92.3h1v1h-1zM302.7 71.8h1v1h-1zM274.4 58.0h1v1h-1zM265.5 102.1h1v1h-1zM299.5 59.3h1v1h-1zM300.2 79.8h1v1h-1zM272.0 75.0h1v1h-1zM256.9 106.1h1v1h-1zM252.8 94.9h1v1h-1zM279.1 60.2h1v1h-1z" fill="#adcd93" fill-opacity="0.8"/>
<path d="M290.8 47.3h1v1h-1zM266.8 108.3h1v1h-1zM280.8 85.3h1v1h-1zM260.5 84.1h1v1h-1zM281.2 130.3h1v1h-1zM273.6 85.5h1v1h-1zM246.1 87.0h1v1h-1zM277.3 94.3h1v1h-1zM284.4 88.4h1v1h-1zM279.2 78.2h1v1h-1zM249.4 90.4h1v1h-1zM261.9 93.5h1v1h-1zM286.0 74.6h1v1h-1zM247.3 90.3h1v1h-1zM299.9 87.0h1v1h-1zM245.4 87.4h1v1h-1zM293.7 60.3h1v1h-1zM265.3 83.9h1v1h-1zM250.9 90.5h1v1h-1zM274.8 53.9h1v1h-1zM281.8 90.4h1v1h-1zM286.2 66.5h1v1h-1zM281.2 90.6h1v1h-1zM261.3 92.0h1v1h-1zM289.7 65.4h1v1h-1zM296.6 113.0h1v1h-1zM272.2 113.8h1v1h-1zM260.1 112.4h1v1h-1zM264.9 94.9h1v1h-1zM282.0 94.8h1v1h-1zM290.1 63.8h1v1h-1zM268.8 62.1h1v1h-1zM287.7 64.7h1v1h-1zM279.4 53.3h1v1h-1zM277.4 108.1h1v1h-1zM268.3 81.3h1v1h-1zM269.0 88.4h1v1h-1zM248.9 91.1h1v1h-1zM299.2 65.7h1v1h-1zM291.8 60.2h1v1h-1zM269.0 89.8h1v1h-1zM255.2 89.7h1v1h-1zM289.7 130.8h1v1h-1zM272.7 68.8h1v1h-1zM264.4 105.2h1v1h-1zM296.5 68.7h1v1h-1zM299.4 107.4h1v1h-1zM274.3 87.4h1v1h-1zM259.1 102.9h1v1h-1zM254.0 100.2h1v1h-1zM300.4 85.0h1v1h-1zM267.7 118.7h1v1h-1zM301.7 55.7h1v1h-1zM279.9 64.9h1v1h-1zM250.9 91.1h1v1h-1zM290.7 47.2h1v1h-1zM292.6 87.0h1v1h-1zM264.5 66.2h1v1h-1zM295.9 120.9h1v1h-1zM279.8 118.9h1v1h-1zM254.9 100.2h1v1h-1zM288.6 79.5h1v1h-1zM258.6 85.0h1v1h-1zM288.0 121.1h1v1h-1zM278.3 81.9h1v1h-1zM297.8 91.8h1v1h-1zM298.4 103.3h1v1h-1zM299.0 92.9h1v1h-1zM296.3 66.8h1v1h-1zM269.3 115.3h1v1h-1zM250.4 87.2h1v1h-1zM248.2 94.7h1v1h-1zM297.0 83.2h1v1h-1zM253.7 85.8h1v1h-1zM276.3 61.8h1v1h-1zM306.8 97.2h1v1h-1zM258.6 99.9h1v1h-1zM298.6 113.5h1v1h-1zM249.3 91.1h1v1h-1zM293.6 99.7h1v1h-1zM282.4 86.1h1v1h-1zM283.1 129.5h1v1h-1zM244.8 90.7h1v1h-1zM253.5 93.3h1v1h-1zM295.6 52.5h1v1h-1zM246.1 90.9h1v1h-1zM280.6 56.3h1v1h-1zM277.2 125.3h1v1h-1zM295.6 114.9h1v1h-1zM270.8 66.0h1v1h-1zM306.2 100.1h1v1h-1zM300.6 95.2h1v1h-1zM282.2 129.7h1v1h-1zM281.5 113.2h1v1h-1zM258.6 106.4h1v1h-1zM263.7 111.9h1v1h-1zM263.5 86.9h1v1h-1zM273.5 56.3h1v1h-1zM277.3 110.5h1v1h-1zM269.3 111.3h1v1h-1zM292.2 122.4h1v1h-1zM296.0 106.9h1v1h-1zM271.3 62.2h1v1h-1zM294.3 75.9h1v1h-1zM290.6 86.5h1v1h-1zM278.9 64.1h1v1h-1zM299.1 88.3h1v1h-1zM254.8 95.7h1v1h-1zM280.2 78.8h1v1h-1zM253.9 87.4h1v1h-1zM291.8 73.5h1v1h-1zM288.1 116.5h1v1h-1zM285.7 60.2h1v1h-1zM259.5 103.3h1v1h-1zM260.5 78.6h1v1h-1zM282.7 74.7h1v1h-1zM287.4 56.4h1v1h-1zM284.5 89.9h1v1h-1zM275.8 61.8h1v1h-1zM301.2 70.3h1v1h-1zM279.1 66.5h1v1h-1zM251.6 81.0h1v1h-1zM274.2 101.2h1v1h-1zM282.8 73.2h1v1h-1zM294.0 77.7h1v1h-1zM308.7 97.3h1v1h-1zM295.4 121.0h1v1h-1zM259.4 92.4h1v1h-1zM303.3 101.9h1v1h-1zM256.2 93.7h1v1h-1zM258.3 87.4h1v1h-1zM276.9 76.8h1v1h-1zM274.8 118.5h1v1h-1zM283.5 127.4h1v1h-1zM298.7 51.6h1v1h-1zM298.8 73.1h1v1h-1zM285.7 60.5h1v1h-1zM278.2 91.5h1v1h-1zM292.2 60.6h1v1h-1zM278.2 109.5h1v1h-1zM261.5 74.6h1v1h-1zM297.5 64.2h1v1h-1zM260.0 89.6h1v1h-1zM290.9 43.9h1v1h-1zM297.1 94.3h1v1h-1zM254.1 84.2h1v1h-1zM264.7 106.7h1v1h-1zM273.6 74.4h1v1h-1zM277.7 58.6h1v1h-1zM277.9 96.6h1v1h-1zM270.0 106.9h1v1h-1zM302.4 58.2h1v1h-1zM292.6 126.4h1v1h-1zM277.8 67.6h1v1h-1zM309.5 98.1h1v1h-1zM281.5 105.9h1v1h-1zM295.2 127.0h1v1h-1zM294.9 75.5h1v1h-1zM284.6 82.7h1v1h-1zM287.7 45.8h1v1h-1zM263.7 111.3h1v1h-1zM259.1 75.6h1v1h-1zM283.2 55.5h1v1h-1zM291.1 107.6h1v1h-1zM271.8 60.5h1v1h-1zM292.7 47.6h1v1h-1zM250.9 103.6h1v1h-1zM268.6 66.0h1v1h-1zM262.7 78.6h1v1h-1zM298.8 95.7h1v1h-1zM282.5 54.0h1v1h-1zM259.6 110.3h1v1h-1zM272.2 94.0h1v1h-1zM262.2 109.4h1v1h-1zM265.5 88.6h1v1h-1zM298.5 53.7h1v1h-1zM247.7 95.4h1v1h-1zM301.1 77.0h1v1h-1zM293.6 116.7h1v1h-1zM258.2 88.0h1v1h-1zM293.5 64.4h1v1h-1zM258.8 91.9h1v1h-1zM284.3 112.4h1v1h-1zM287.0 79.5h1v1h-1zM276.0 88.9h1v1h-1zM281.7 48.2h1v1h-1zM263.1 75.8h1v1h-1zM274.2 87.5h1v1h-1zM278.2 112.4h1v1h-1zM289.8 48.1h1v1h-1zM296.1 105.0h1v1h-1zM282.4 76.2h1v1h-1zM268.0 82.0h1v1h-1zM258.6 101.4h1v1h-1zM291.5 48.5h1v1h-1zM268.3 72.1h1v1h-1zM273.0 88.7h1v1h-1zM303.1 81.1h1v1h-1zM262.9 69.7h1v1h-1zM304.2 94.4h1v1h-1zM256.8 94.0h1v1h-1zM274.7 55.1h1v1h-1zM298.5 70.9h1v1h-1zM282.7 132.4h1v1h-1zM295.8 118.0h1v1h-1zM277.1 88.9h1v1h-1zM278.8 120.9h1v1h-1zM271.5 109.7h1v1h-1zM297.3 113.7h1v1h-1zM268.0 115.1h1v1h-1zM301.7 104.2h1v1h-1zM298.3 111.7h1v1h-1zM284.7 121.8h1v1h-1zM251.5 106.4h1v1h-1zM303.5 96.3h1v1h-1zM255.4 99.4h1v1h-1zM297.8 56.2h1v1h-1zM275.0 77.4h1v1h-1zM282.3 55.5h1v1h-1zM288.2 124.7h1v1h-1zM301.4 81.0h1v1h-1zM295.9 66.0h1v1h-1zM296.7 78.1h1v1h-1zM277.3 108.5h1v1h-1zM270.5 60.7h1v1h-1z" fill="#678a4c" fill-opacity="0.8"/>
<path d="M320.4 57.2h1v1h-1zM302.2 27.4h1v1h-1zM369.3 65.1h1v1h-1zM362.2 90.1h1v1h-1zM341.9 61.8h1v1h-1zM324.9 40.9h1v1h-1zM321.7 42.2h1v1h-1zM368.6 86.7h1v1h-1zM372.1 57.1h1v1h-1zM360.8 67.4h1v1h-1zM358.0 77.2h1v1h-1zM347.3 60.3h1v1h-1zM364.4 44.6h1v1h-1zM364.6 77.2h1v1h-1zM290.2 38.6h1v1h-1zM310.1 42.8h1v1h-1zM351.7 67.7h1v1h-1zM325.8 44.0h1v1h-1zM310.2 58.1h1v1h-1zM354.0 70.1h1v1h-1zM344.0 57.4h1v1h-1zM347.8 37.6h1v1h-1zM296.8 51.6h1v1h-1zM354.9 49.3h1v1h-1zM351.8 63.3h1v1h-1zM310.0 56.0h1v1h-1zM371.5 52.0h1v1h-1zM367.6 38.4h1v1h-1zM289.4 42.8h1v1h-1zM366.7 41.2h1v1h-1zM351.0 50.2h1v1h-1zM299.6 47.1h1v1h-1zM363.6 42.3h1v1h-1zM355.8 40.7h1v1h-1zM320.2 56.1h1v1h-1zM317.4 46.0h1v1h-1zM319.6 32.3h1v1h-1zM325.5 23.0h1v1h-1zM355.8 80.1h1v1h-1zM340.0 52.8h1v1h-1zM374.3 71.5h1v1h-1zM348.0 50.6h1v1h-1zM354.1 47.3h1v1h-1zM311.7 52.4h1v1h-1zM333.6 61.1h1v1h-1zM301.9 29.6h1v1h-1zM308.0 49.5h1v1h-1zM324.5 28.6h1v1h-1zM358.5 40.8h1v1h-1zM373.7 70.0h1v1h-1zM343.4 32.3h1v1h-1zM362.9 74.9h1v1h-1zM375.7 73.6h1v1h-1zM313.6 55.4h1v1h-1zM288.3 41.7h1v1h-1zM371.7 45.2h1v1h-1zM360.4 63.6h1v1h-1zM361.1 57.3h1v1h-1zM314.3 33.9h1v1h-1zM314.7 50.4h1v1h-1zM291.4 52.2h1v1h-1zM363.3 87.8h1v1h-1zM312.5 53.8h1v1h-1zM305.9 41.1h1v1h-1zM337.2 54.2h1v1h-1zM357.4 60.4h1v1h-1zM304.1 47.4h1v1h-1zM359.7 39.5h1v1h-1zM334.7 42.1h1v1h-1zM332.2 58.0h1v1h-1zM304.5 59.3h1v1h-1zM374.0 81.3h1v1h-1zM374.4 59.1h1v1h-1zM328.0 51.1h1v1h-1zM361.9 37.2h1v1h-1zM358.2 57.3h1v1h-1zM357.7 42.3h1v1h-1zM287.2 47.1h1v1h-1zM374.1 76.2h1v1h-1zM362.4 43.4h1v1h-1zM312.9 42.7h1v1h-1zM346.6 54.4h1v1h-1zM355.1 53.6h1v1h-1zM332.6 50.2h1v1h-1zM316.6 49.3h1v1h-1zM361.6 47.9h1v1h-1zM366.0 71.2h1v1h-1zM328.2 40.3h1v1h-1zM322.5 37.7h1v1h-1zM376.4 57.2h1v1h-1zM289.0 41.2h1v1h-1zM338.1 48.6h1v1h-1zM369.3 76.2h1v1h-1zM306.6 35.6h1v1h-1zM358.2 78.7h1v1h-1zM306.8 54.6h1v1h-1zM321.8 32.2h1v1h-1zM327.1 32.6h1v1h-1zM322.4 47.4h1v1h-1zM301.4 54.7h1v1h-1zM369.0 50.8h1v1h-1zM305.4 52.9h1v1h-1zM375.8 79.4h1v1h-1zM337.5 52.7h1v1h-1zM345.7 70.0h1v1h-1zM302.1 32.0h1v1h-1zM350.9 68.9h1v1h-1zM349.9 37.7h1v1h-1zM296.9 37.2h1v1h-1zM325.2 47.3h1v1h-1zM363.0 59.9h1v1h-1zM364.6 41.5h1v1h-1zM368.2 43.9h1v1h-1zM373.3 70.6h1v1h-1zM375.5 63.9h1v1h-1zM348.0 41.9h1v1h-1zM354.1 33.5h1v1h-1zM303.8 27.4h1v1h-1zM292.9 51.3h1v1h-1zM318.6 49.6h1v1h-1zM332.7 51.5h1v1h-1zM289.9 44.8h1v1h-1zM329.9 32.8h1v1h-1zM377.0 50.8h1v1h-1zM365.7 65.9h1v1h-1zM305.0 41.9h1v1h-1zM317.2 33.0h1v1h-1zM322.9 54.5h1v1h-1zM342.6 50.6h1v1h-1zM308.7 32.1h1v1h-1zM342.7 31.4h1v1h-1zM308.4 33.2h1v1h-1zM358.2 44.0h1v1h-1zM299.5 53.2h1v1h-1zM303.1 42.7h1v1h-1zM342.4 58.8h1v1h-1zM357.7 67.2h1v1h-1zM297.3 50.0h1v1h-1zM315.0 33.4h1v1h-1zM350.3 35.1h1v1h-1zM301.3 57.6h1v1h-1zM301.5 54.4h1v1h-1zM361.1 39.8h1v1h-1zM309.4 37.9h1v1h-1zM304.6 34.7h1v1h-1zM325.8 41.9h1v1h-1zM337.8 64.0h1v1h-1zM297.0 44.0h1v1h-1zM327.3 53.3h1v1h-1zM329.5 41.0h1v1h-1zM359.9 61.8h1v1h-1zM319.5 39.1h1v1h-1zM377.1 64.7h1v1h-1zM353.1 45.2h1v1h-1zM304.5 47.9h1v1h-1zM296.3 44.2h1v1h-1zM367.7 75.9h1v1h-1zM367.6 62.1h1v1h-1zM372.9 66.9h1v1h-1zM284.0 47.6h1v1h-1zM367.3 54.3h1v1h-1zM299.9 50.5h1v1h-1zM351.6 74.1h1v1h-1zM332.0 54.3h1v1h-1zM324.7 24.1h1v1h-1zM355.8 41.2h1v1h-1zM363.8 79.5h1v1h-1zM375.5 59.1h1v1h-1zM349.9 51.8h1v1h-1zM361.1 74.6h1v1h-1zM361.9 79.8h1v1h-1zM321.6 34.2h1v1h-1zM366.6 58.7h1v1h-1zM308.0 49.5h1v1h-1zM371.5 81.5h1v1h-1zM292.5 50.0h1v1h-1zM350.7 69.9h1v1h-1zM290.6 46.9h1v1h-1zM378.2 59.1h1v1h-1zM356.2 41.8h1v1h-1zM353.4 55.5h1v1h-1zM353.2 48.6h1v1h-1zM343.2 65.3h1v1h-1zM370.4 91.3h1v1h-1zM348.9 30.1h1v1h-1zM334.3 26.9h1v1h-1zM302.1 41.5h1v1h-1zM363.7 71.3h1v1h-1zM365.2 56.4h1v1h-1zM329.4 25.0h1v1h-1zM321.1 34.0h1v1h-1zM355.6 68.7h1v1h-1zM360.5 91.4h1v1h-1zM323.0 59.7h1v1h-1zM366.4 81.6h1v1h-1zM328.3 35.9h1v1h-1zM296.2 54.1h1v1h-1zM360.5 82.1h1v1h-1zM317.4 37.7h1v1h-1zM298.8 37.2h1v1h-1zM369.3 67.6h1v1h-1zM352.9 32.4h1v1h-1zM360.9 63.6h1v1h-1zM292.1 37.8h1v1h-1z" fill="#18434c" fill-opacity="0.8"/>
<path d="M312.4 52.7h1v1h-1zM373.2 51.7h1v1h-1zM338.6 58.6h1v1h-1zM367.2 87.5h1v1h-1zM364.4 66.6h1v1h-1zM291.5 44.5h1v1h-1zM361.0 46.1h1v1h-1zM330.2 51.5h1v1h-1zM327.2 53.3h1v1h-1zM308.5 39.2h1v1h-1zM327.7 38.9h1v1h-1zM328.7 31.3h1v1h-1zM315.9 46.7h1v1h-1zM371.8 55.1h1v1h-1zM352.7 36.7h1v1h-1zM337.7 55.7h1v1h-1zM349.4 63.4h1v1h-1zM320.5 42.9h1v1h-1zM359.5 43.1h1v1h-1zM363.3 56.1h1v1h-1zM350.3 73.5h1v1h-1zM287.1 47.8h1v1h-1zM301.2 42.8h1v1h-1zM307.4 49.0h1v1h-1zM347.6 49.0h1v1h-1zM304.2 55.4h1v1h-1zM323.8 32.0h1v1h-1zM365.9 75.9h1v1h-1zM350.4 42.6h1v1h-1zM370.2 85.5h1v1h-1zM366.2 74.4h1v1h-1zM339.8 56.8h1v1h-1zM345.8 49.0h1v1h-1zM343.8 49.8h1v1h-1zM331.0 24.7h1v1h-1zM300.9 45.8h1v1h-1zM346.6 37.8h1v1h-1zM338.9 26.6h1v1h-1zM356.3 61.7h1v1h-1zM302.4 46.5h1v1h-1zM335.5 46.8h1v1h-1zM319.9 53.1h1v1h-1zM361.2 49.0h1v1h-1zM361.1 47.5h1v1h-1zM368.8 68.2h1v1h-1zM345.5 34.5h1v1h-1zM362.9 75.1h1v1h-1zM315.9 45.8h1v1h-1zM321.8 36.1h1v1h-1zM299.1 45.8h1v1h-1zM372.3 54.5h1v1h-1zM376.5 64.1h1v1h-1zM330.0 59.1h1v1h-1zM320.9 24.0h1v1h-1zM368.3 85.2h1v1h-1zM356.0 46.9h1v1h-1zM328.0 48.5h1v1h-1zM305.2 28.5h1v1h-1zM352.1 50.7h1v1h-1zM302.3 36.8h1v1h-1zM366.6 89.8h1v1h-1zM329.1 26.5h1v1h-1zM348.6 54.7h1v1h-1zM355.7 38.9h1v1h-1zM353.6 39.2h1v1h-1zM353.2 63.9h1v1h-1zM358.7 53.5h1v1h-1zM337.8 59.3h1v1h-1zM305.4 47.7h1v1h-1zM316.4 28.4h1v1h-1zM371.6 86.8h1v1h-1zM345.1 33.9h1v1h-1zM329.6 32.9h1v1h-1zM298.3 52.5h1v1h-1zM306.9 33.2h1v1h-1zM376.1 69.8h1v1h-1zM323.9 22.9h1v1h-1zM303.6 31.3h1v1h-1zM363.7 52.7h1v1h-1zM321.5 47.3h1v1h-1zM300.2 42.3h1v1h-1zM342.4 51.5h1v1h-1zM287.7 44.7h1v1h-1zM307.2 32.6h1v1h-1zM376.3 54.7h1v1h-1zM341.8 35.0h1v1h-1zM368.9 74.2h1v1h-1zM369.5 75.5h1v1h-1zM326.8 51.1h1v1h-1zM377.6 62.1h1v1h-1zM346.4 44.9h1v1h-1zM306.3 48.0h1v1h-1zM354.8 76.8h1v1h-1zM332.8 44.0h1v1h-1zM361.2 78.9h1v1h-1zM347.2 43.9h1v1h-1zM328.9 58.6h1v1h-1zM357.3 65.1h1v1h-1zM362.0 60.6h1v1h-1zM368.6 79.6h1v1h-1zM350.2 38.5h1v1h-1zM339.2 31.8h1v1h-1zM356.7 78.9h1v1h-1zM361.8 55.9h1v1h-1zM317.7 44.1h1v1h-1zM376.9 59.2h1v1h-1zM314.8 40.7h1v1h-1zM358.7 34.2h1v1h-1zM328.1 58.9h1v1h-1zM353.2 48.6h1v1h-1zM320.5 45.8h1v1h-1zM336.5 28.1h1v1h-1zM304.9 34.5h1v1h-1zM331.8 30.9h1v1h-1zM312.8 43.8h1v1h-1zM307.4 54.6h1v1h-1zM367.5 86.5h1v1h-1zM369.8 68.4h1v1h-1zM347.9 71.6h1v1h-1zM292.8 52.4h1v1h-1zM358.5 57.8h1v1h-1zM328.6 29.6h1v1h-1zM352.4 73.7h1v1h-1zM331.7 56.4h1v1h-1zM373.8 59.2h1v1h-1zM345.3 63.1h1v1h-1zM355.3 50.6h1v1h-1zM299.1 34.9h1v1h-1zM364.5 71.8h1v1h-1zM336.9 51.5h1v1h-1zM328.8 38.3h1v1h-1zM326.4 40.1h1v1h-1zM333.3 41.0h1v1h-1zM353.6 64.1h1v1h-1zM360.8 57.6h1v1h-1zM354.6 38.1h1v1h-1zM325.8 31.1h1v1h-1zM353.2 52.5h1v1h-1zM345.6 69.4h1v1h-1zM361.9 54.9h1v1h-1zM316.4 48.6h1v1h-1zM299.4 46.2h1v1h-1zM318.0 35.6h1v1h-1zM311.9 46.2h1v1h-1zM356.2 52.0h1v1h-1zM304.2 36.9h1v1h-1zM294.9 39.3h1v1h-1zM349.9 38.5h1v1h-1zM308.3 35.5h1v1h-1zM369.4 51.8h1v1h-1zM324.7 42.1h1v1h-1zM336.9 31.4h1v1h-1zM283.5 49.2h1v1h-1zM354.6 42.1h1v1h-1zM331.9 51.7h1v1h-1zM335.8 47.2h1v1h-1zM353.9 39.2h1v1h-1zM369.1 84.2h1v1h-1zM334.8 44.6h1v1h-1zM339.5 61.7h1v1h-1zM327.6 43.3h1v1h-1zM292.5 38.4h1v1h-1zM326.4 43.4h1v1h-1zM318.2 31.2h1v1h-1zM370.9 62.0h1v1h-1zM298.7 50.1h1v1h-1zM364.3 87.0h1v1h-1zM366.1 38.4h1v1h-1zM365.7 71.3h1v1h-1zM326.4 58.7h1v1h-1zM338.4 53.8h1v1h-1zM368.4 74.7h1v1h-1zM369.8 91.1h1v1h-1zM306.1 46.8h1v1h-1zM343.1 30.2h1v1h-1zM327.5 25.9h1v1h-1zM340.3 49.8h1v1h-1zM313.3 36.1h1v1h-1zM373.0 48.1h1v1h-1zM360.6 77.5h1v1h-1zM346.0 68.4h1v1h-1zM344.6 62.7h1v1h-1zM318.9 46.4h1v1h-1zM320.5 43.1h1v1h-1zM318.4 35.1h1v1h-1zM352.0 38.3h1v1h-1zM305.5 26.2h1v1h-1zM285.9 45.9h1v1h-1zM370.6 73.6h1v1h-1zM320.1 57.4h1v1h-1zM364.2 87.1h1v1h-1zM302.5 38.5h1v1h-1zM329.1 32.7h1v1h-1zM361.6 70.5h1v1h-1zM372.2 60.1h1v1h-1zM364.4 46.3h1v1h-1z" fill="#297180" fill-opacity="0.8"/>
<path d="M328.5 37.9h1v1h-1zM347.5 70.1h1v1h-1zM362.9 47.3h1v1h-1zM368.1 56.0h1v1h-1zM300.1 51.1h1v1h-1zM312.3 54.3h1v1h-1zM369.7 58.0h1v1h-1zM305.7 49.0h1v1h-1zM306.3 59.6h1v1h-1zM360.9 55.5h1v1h-1zM341.0 61.6h1v1h-1zM359.7 64.2h1v1h-1zM334.2 27.7h1v1h-1zM304.8 32.3h1v1h-1zM335.9 62.5h1v1h-1zM345.6 47.2h1v1h-1zM364.9 83.0h1v1h-1zM359.1 75.5h1v1h-1zM345.5 59.9h1v1h-1zM374.9 72.1h1v1h-1zM332.3 49.3h1v1h-1zM319.3 40.9h1v1h-1zM284.9 49.4h1v1h-1zM374.3 63.1h1v1h-1zM302.0 39.8h1v1h-1zM300.4 32.2h1v1h-1zM309.0 43.5h1v1h-1zM356.5 34.5h1v1h-1zM366.5 67.0h1v1h-1zM292.8 51.3h1v1h-1zM354.3 43.7h1v1h-1zM325.9 26.2h1v1h-1zM359.8 51.1h1v1h-1zM306.0 49.9h1v1h-1zM342.1 52.5h1v1h-1zM337.2 47.5h1v1h-1zM356.7 51.3h1v1h-1zM342.2 34.5h1v1h-1zM303.1 33.8h1v1h-1zM343.7 49.4h1v1h-1zM363.9 58.5h1v1h-1zM356.9 46.8h1v1h-1zM364.8 39.0h1v1h-1zM334.9 25.5h1v1h-1zM339.3 61.3h1v1h-1zM329.8 46.6h1v1h-1zM366.1 83.5h1v1h-1zM294.4 52.2h1v1h-1zM330.8 59.7h1v1h-1zM361.3 69.7h1v1h-1zM367.5 54.2h1v1h-1zM349.8 53.3h1v1h-1zM373.3 86.9h1v1h-1zM365.6 39.6h1v1h-1zM374.0 68.6h1v1h-1zM346.9 39.7h1v1h-1zM338.8 58.5h1v1h-1zM342.4 32.6h1v1h-1zM311.1 33.4h1v1h-1zM337.4 29.2h1v1h-1zM321.1 46.8h1v1h-1zM332.7 60.0h1v1h-1zM360.7 39.3h1v1h-1zM343.6 53.2h1v1h-1zM305.8 55.6h1v1h-1zM340.8 63.6h1v1h-1zM364.3 80.9h1v1h-1zM355.9 76.3h1v1h-1zM362.9 72.5h1v1h-1zM360.4 67.5h1v1h-1zM351.3 70.3h1v1h-1zM339.6 57.6h1v1h-1zM357.8 44.2h1v1h-1zM326.8 32.9h1v1h-1zM354.7 71.4h1v1h-1zM353.1 60.8h1v1h-1zM341.1 48.5h1v1h-1zM299.3 50.2h1v1h-1zM320.2 42.2h1v1h-1zM360.8 86.3h1v1h-1zM356.7 74.5h1v1h-1zM372.5 83.7h1v1h-1zM327.9 24.8h1v1h-1zM298.0 43.6h1v1h-1zM362.6 55.0h1v1h-1zM325.1 50.7h1v1h-1zM325.9 39.0h1v1h-1zM350.5 63.2h1v1h-1zM360.1 87.8h1v1h-1zM358.0 54.0h1v1h-1zM313.5 29.3h1v1h-1zM336.8 53.1h1v1h-1zM363.9 39.5h1v1h-1zM374.8 77.7h1v1h-1zM302.5 37.4h1v1h-1zM364.1 71.5h1v1h-1zM294.4 39.7h1v1h-1zM339.5 43.2h1v1h-1zM338.9 48.2h1v1h-1zM373.5 69.8h1v1h-1zM313.4 33.3h1v1h-1zM339.7 36.1h1v1h-1zM292.1 50.2h1v1h-1zM302.2 48.2h1v1h-1zM361.6 90.6h1v1h-1zM355.1 73.0h1v1h-1zM377.7 58.7h1v1h-1zM298.8 33.6h1v1h-1zM364.5 56.3h1v1h-1zM356.8 64.9h1v1h-1zM366.1 58.5h1v1h-1zM329.1 39.2h1v1h-1zM347.8 45.3h1v1h-1zM338.8 52.5h1v1h-1zM340.6 34.2h1v1h-1zM319.7 24.0h1v1h-1zM298.7 50.1h1v1h-1zM358.0 36.5h1v1h-1zM357.1 56.6h1v1h-1zM317.8 37.1h1v1h-1zM323.1 54.4h1v1h-1zM362.9 41.6h1v1h-1zM313.3 41.8h1v1h-1zM354.9 50.6h1v1h-1zM329.0 45.4h1v1h-1zM360.8 65.0h1v1h-1zM305.3 27.7h1v1h-1zM364.4 60.8h1v1h-1zM369.0 81.2h1v1h-1zM292.8 37.2h1v1h-1zM341.8 37.0h1v1h-1zM358.4 56.6h1v1h-1zM367.6 79.4h1v1h-1zM350.7 65.6h1v1h-1zM312.4 37.9h1v1h-1zM345.0 36.1h1v1h-1zM368.0 44.7h1v1h-1zM342.4 50.1h1v1h-1zM313.5 28.3h1v1h-1zM311.3 36.4h1v1h-1zM320.5 39.7h1v1h-1zM320.6 52.9h1v1h-1zM289.0 40.5h1v1h-1zM339.1 47.3h1v1h-1zM332.0 25.7h1v1h-1zM332.2 50.4h1v1h-1zM301.6 33.9h1v1h-1zM332.0 29.4h1v1h-1zM371.0 76.2h1v1h-1zM332.9 59.6h1v1h-1zM351.5 46.1h1v1h-1zM315.1 44.3h1v1h-1zM371.8 66.6h1v1h-1zM307.9 25.8h1v1h-1zM324.3 34.2h1v1h-1zM329.5 32.6h1v1h-1zM307.0 28.2h1v1h-1zM342.7 42.1h1v1h-1zM322.8 32.6h1v1h-1zM372.0 46.3h1v1h-1zM371.7 89.1h1v1h-1zM320.1 25.9h1v1h-1zM298.7 37.8h1v1h-1zM346.2 50.5h1v1h-1zM369.8 59.1h1v1h-1zM307.3 46.7h1v1h-1zM308.7 32.8h1v1h-1zM339.9 54.3h1v1h-1zM322.9 44.6h1v1h-1zM369.4 75.9h1v1h-1zM287.2 45.5h1v1h-1zM289.2 42.8h1v1h-1zM304.0 50.9h1v1h-1zM302.0 32.9h1v1h-1zM345.5 50.5h1v1h-1zM321.6 59.2h1v1h-1zM330.1 28.8h1v1h-1zM360.9 79.6h1v1h-1zM366.7 77.3h1v1h-1zM342.8 39.5h1v1h-1zM351.8 65.0h1v1h-1zM312.0 42.8h1v1h-1zM296.5 45.9h1v1h-1zM346.1 34.8h1v1h-1zM329.4 38.9h1v1h-1zM313.1 46.9h1v1h-1zM368.4 91.1h1v1h-1zM345.9 42.3h1v1h-1zM332.4 48.8h1v1h-1zM337.1 57.9h1v1h-1zM351.7 42.4h1v1h-1zM353.4 65.8h1v1h-1zM343.9 59.6h1v1h-1zM302.6 53.6h1v1h-1zM354.1 47.5h1v1h-1zM318.1 50.1h1v1h-1zM312.0 59.9h1v1h-1zM347.1 63.1h1v1h-1zM304.5 31.3h1v1h-1zM333.3 38.0h1v1h-1zM359.6 80.8h1v1h-1zM359.4 72.4h1v1h-1zM291.1 41.4h1v1h-1zM314.5 34.1h1v1h-1zM305.1 26.4h1v1h-1zM350.0 41.6h1v1h-1zM365.8 87.7h1v1h-1zM310.5 57.2h1v1h-1zM355.5 34.1h1v1h-1z" fill="#215a66" fill-opacity="0.8"/>
<path d="M322.9 28.1h1v1h-1zM349.7 38.3h1v1h-1zM329.0 38.1h1v1h-1zM335.5 43.7h1v1h-1zM376.0 71.2h1v1h-1zM323.1 58.1h1v1h-1zM293.4 38.5h1v1h-1zM319.1 40.8h1v1h-1zM370.5 77.9h1v1h-1zM355.0 39.3h1v1h-1zM320.1 39.6h1v1h-1zM327.4 38.0h1v1h-1zM326.4 48.1h1v1h-1zM370.4 69.4h1v1h-1zM341.1 32.2h1v1h-1zM370.8 79.2h1v1h-1zM311.4 42.5h1v1h-1zM296.3 37.6h1v1h-1zM373.0 64.1h1v1h-1zM307.3 30.6h1v1h-1zM373.2 52.3h1v1h-1zM355.8 52.8h1v1h-1zM367.7 47.9h1v1h-1zM351.2 38.6h1v1h-1zM359.0 65.5h1v1h-1zM305.6 30.6h1v1h-1zM314.9 51.7h1v1h-1zM303.9 42.7h1v1h-1zM311.0 24.9h1v1h-1zM308.0 36.3h1v1h-1zM371.8 71.7h1v1h-1zM346.5 62.0h1v1h-1zM330.2 27.3h1v1h-1zM316.2 36.4h1v1h-1zM300.8 42.9h1v1h-1zM303.6 48.0h1v1h-1zM360.0 66.2h1v1h-1zM334.7 42.1h1v1h-1zM350.8 42.8h1v1h-1zM361.6 72.4h1v1h-1zM310.7 50.2h1v1h-1zM320.4 37.3h1v1h-1zM296.8 50.5h1v1h-1zM311.9 45.8h1v1h-1zM331.6 60.4h1v1h-1zM340.8 51.5h1v1h-1zM337.8 27.6h1v1h-1zM335.3 39.6h1v1h-1zM317.4 42.4h1v1h-1zM335.2 56.4h1v1h-1zM346.9 30.0h1v1h-1zM362.5 64.4h1v1h-1zM349.0 37.5h1v1h-1zM297.3 41.7h1v1h-1zM366.5 38.5h1v1h-1zM313.3 30.4h1v1h-1zM372.2 43.7h1v1h-1zM331.9 60.4h1v1h-1zM353.8 64.8h1v1h-1zM367.2 58.3h1v1h-1zM359.5 78.1h1v1h-1zM319.6 50.2h1v1h-1zM304.3 52.0h1v1h-1zM349.9 66.0h1v1h-1zM339.5 42.2h1v1h-1zM329.7 31.1h1v1h-1zM348.8 64.5h1v1h-1zM371.1 80.4h1v1h-1zM336.4 25.6h1v1h-1zM343.6 52.9h1v1h-1zM352.1 38.1h1v1h-1zM346.7 47.1h1v1h-1zM329.3 49.7h1v1h-1zM303.5 48.7h1v1h-1zM356.3 43.2h1v1h-1zM302.7 30.5h1v1h-1zM363.4 90.5h1v1h-1zM307.1 44.4h1v1h-1zM372.2 78.5h1v1h-1zM355.4 64.7h1v1h-1zM293.9 48.4h1v1h-1zM317.7 44.9h1v1h-1zM343.0 45.3h1v1h-1zM363.1 54.8h1v1h-1zM337.6 37.6h1v1h-1zM302.7 34.3h1v1h-1zM353.3 47.0h1v1h-1zM374.4 77.6h1v1h-1zM345.8 32.9h1v1h-1zM315.4 29.8h1v1h-1zM364.8 87.0h1v1h-1zM316.9 53.5h1v1h-1zM365.4 40.6h1v1h-1zM295.4 35.3h1v1h-1zM330.7 52.8h1v1h-1zM336.8 52.0h1v1h-1zM347.7 31.9h1v1h-1zM326.0 52.4h1v1h-1zM372.5 59.5h1v1h-1zM339.1 33.8h1v1h-1zM351.0 66.4h1v1h-1zM376.0 60.0h1v1h-1zM343.0 47.8h1v1h-1zM374.2 80.1h1v1h-1zM341.4 60.8h1v1h-1zM293.3 45.7h1v1h-1zM335.8 34.6h1v1h-1zM349.4 41.3h1v1h-1zM308.0 49.6h1v1h-1zM355.5 67.5h1v1h-1zM335.5 51.8h1v1h-1zM374.5 87.9h1v1h-1zM363.4 89.9h1v1h-1zM305.2 30.2h1v1h-1zM343.3 33.0h1v1h-1zM310.0 27.9h1v1h-1zM349.9 65.7h1v1h-1zM352.9 46.3h1v1h-1zM305.3 36.7h1v1h-1zM358.8 86.7h1v1h-1zM359.5 87.6h1v1h-1zM367.4 82.4h1v1h-1zM333.6 52.6h1v1h-1zM373.7 88.3h1v1h-1zM328.4 45.6h1v1h-1zM341.1 48.0h1v1h-1zM290.8 45.5h1v1h-1zM352.4 50.5h1v1h-1zM373.7 85.3h1v1h-1zM303.7 53.1h1v1h-1zM333.9 41.0h1v1h-1zM320.4 45.9h1v1h-1zM331.5 30.6h1v1h-1zM353.6 76.1h1v1h-1zM350.3 40.1h1v1h-1zM297.4 43.0h1v1h-1zM347.5 67.2h1v1h-1zM363.0 63.9h1v1h-1zM302.5 41.3h1v1h-1zM366.3 65.3h1v1h-1zM343.3 63.7h1v1h-1zM356.1 49.8h1v1h-1zM360.0 65.4h1v1h-1zM367.1 72.2h1v1h-1zM298.0 33.4h1v1h-1zM357.8 71.6h1v1h-1zM338.3 32.3h1v1h-1zM355.9 47.3h1v1h-1zM355.2 41.0h1v1h-1zM334.8 49.3h1v1h-1zM313.0 44.6h1v1h-1zM329.7 54.6h1v1h-1zM350.1 56.9h1v1h-1zM357.0 62.0h1v1h-1zM363.6 89.0h1v1h-1zM304.6 47.1h1v1h-1zM301.6 53.6h1v1h-1zM317.6 27.9h1v1h-1zM320.8 47.1h1v1h-1zM358.4 50.0h1v1h-1zM320.3 37.7h1v1h-1zM354.9 74.0h1v1h-1zM325.2 25.4h1v1h-1zM337.5 47.3h1v1h-1zM339.4 43.2h1v1h-1zM321.6 25.9h1v1h-1zM296.2 48.4h1v1h-1zM338.0 55.6h1v1h-1zM345.1 66.4h1v1h-1zM317.9 29.4h1v1h-1zM329.2 58.3h1v1h-1zM354.7 54.1h1v1h-1zM374.2 73.0h1v1h-1zM360.2 46.9h1v1h-1zM355.1 36.4h1v1h-1zM368.3 47.0h1v1h-1zM351.4 56.9h1v1h-1zM363.5 45.4h1v1h-1zM366.3 66.9h1v1h-1zM356.9 53.9h1v1h-1zM363.3 50.9h1v1h-1zM337.2 29.4h1v1h-1zM351.2 31.7h1v1h-1zM352.0 74.7h1v1h-1zM311.7 32.9h1v1h-1zM292.8 45.8h1v1h-1zM317.1 43.2h1v1h-1zM362.7 61.4h1v1h-1zM300.1 34.9h1v1h-1zM351.4 70.0h1v1h-1zM329.5 54.0h1v1h-1z" fill="#5fabbb" fill-opacity="0.8"/>
<path d="M368.3 61.8h1v1h-1zM362.0 85.1h1v1h-1zM357.3 75.2h1v1h-1zM363.8 58.1h1v1h-1zM297.3 49.1h1v1h-1zM356.6 36.3h1v1h-1zM293.3 51.2h1v1h-1zM327.2 37.6h1v1h-1zM328.5 55.1h1v1h-1zM346.3 28.9h1v1h-1zM343.4 62.4h1v1h-1zM363.3 85.1h1v1h-1zM334.4 58.2h1v1h-1zM355.3 34.6h1v1h-1zM339.7 62.8h1v1h-1zM351.6 64.1h1v1h-1zM337.1 41.5h1v1h-1zM301.2 40.2h1v1h-1zM376.1 81.6h1v1h-1zM338.6 31.7h1v1h-1zM309.3 35.9h1v1h-1zM331.7 47.0h1v1h-1zM316.2 33.3h1v1h-1zM335.0 46.9h1v1h-1zM365.1 84.6h1v1h-1zM358.5 60.9h1v1h-1zM361.8 87.7h1v1h-1zM324.3 26.9h1v1h-1zM372.0 82.4h1v1h-1zM364.8 56.8h1v1h-1zM343.5 51.7h1v1h-1zM347.1 32.3h1v1h-1zM348.5 63.1h1v1h-1zM337.5 31.1h1v1h-1zM345.3 45.2h1v1h-1zM345.7 32.2h1v1h-1zM322.2 52.2h1v1h-1zM331.4 25.0h1v1h-1zM335.0 28.9h1v1h-1zM366.2 88.3h1v1h-1zM365.5 69.6h1v1h-1zM372.3 81.5h1v1h-1zM315.2 24.8h1v1h-1zM313.3 46.5h1v1h-1zM321.7 50.0h1v1h-1zM374.2 54.1h1v1h-1zM364.8 39.0h1v1h-1zM354.1 45.5h1v1h-1zM306.7 47.9h1v1h-1zM348.5 65.3h1v1h-1zM354.6 61.2h1v1h-1zM340.0 54.5h1v1h-1zM312.8 42.7h1v1h-1zM348.8 71.8h1v1h-1zM321.7 53.3h1v1h-1zM311.8 34.8h1v1h-1zM300.6 51.1h1v1h-1zM345.2 31.2h1v1h-1zM363.5 89.7h1v1h-1zM340.8 47.3h1v1h-1zM372.4 71.7h1v1h-1zM366.7 73.7h1v1h-1zM370.3 62.5h1v1h-1zM362.5 87.5h1v1h-1zM352.9 37.2h1v1h-1zM355.4 72.3h1v1h-1zM360.2 68.4h1v1h-1zM349.9 48.5h1v1h-1zM356.8 50.8h1v1h-1zM371.0 49.3h1v1h-1zM334.1 56.2h1v1h-1zM341.7 55.5h1v1h-1zM367.1 50.2h1v1h-1zM336.1 63.7h1v1h-1zM315.6 49.8h1v1h-1zM350.2 39.1h1v1h-1zM328.2 31.6h1v1h-1zM323.2 23.6h1v1h-1zM356.0 52.7h1v1h-1zM357.6 40.7h1v1h-1zM360.9 62.3h1v1h-1zM362.7 66.9h1v1h-1zM320.7 26.0h1v1h-1zM340.8 40.0h1v1h-1zM313.1 28.7h1v1h-1zM309.4 57.4h1v1h-1zM313.4 48.4h1v1h-1zM351.5 56.6h1v1h-1zM299.9 53.8h1v1h-1zM325.6 47.1h1v1h-1zM357.6 36.4h1v1h-1zM360.5 53.8h1v1h-1zM301.2 28.6h1v1h-1zM341.4 57.5h1v1h-1zM317.6 47.1h1v1h-1zM369.5 63.2h1v1h-1zM337.4 61.7h1v1h-1zM365.2 67.6h1v1h-1zM336.3 51.7h1v1h-1zM338.3 53.8h1v1h-1zM303.3 31.2h1v1h-1zM373.0 56.0h1v1h-1zM314.2 40.6h1v1h-1zM334.1 39.1h1v1h-1zM362.3 59.4h1v1h-1zM352.8 54.6h1v1h-1zM318.8 23.9h1v1h-1zM312.1 38.3h1v1h-1zM347.2 51.0h1v1h-1zM360.0 79.8h1v1h-1zM317.7 35.2h1v1h-1zM329.3 29.8h1v1h-1zM366.9 89.1h1v1h-1zM350.9 42.3h1v1h-1zM357.7 50.5h1v1h-1zM338.0 52.2h1v1h-1zM359.8 86.5h1v1h-1zM374.0 53.6h1v1h-1zM350.6 71.5h1v1h-1zM346.2 51.1h1v1h-1zM298.7 37.3h1v1h-1zM321.7 59.8h1v1h-1zM335.7 40.8h1v1h-1zM369.0 79.0h1v1h-1zM314.4 36.2h1v1h-1zM368.1 57.6h1v1h-1zM332.6 34.9h1v1h-1zM344.3 40.4h1v1h-1zM359.8 56.4h1v1h-1zM355.4 78.2h1v1h-1zM310.9 40.3h1v1h-1zM345.6 37.7h1v1h-1zM314.7 34.2h1v1h-1zM334.0 40.0h1v1h-1zM328.8 57.6h1v1h-1zM345.8 66.6h1v1h-1zM314.3 33.7h1v1h-1zM352.6 35.1h1v1h-1zM326.5 32.5h1v1h-1zM302.4 29.7h1v1h-1zM370.8 59.7h1v1h-1zM295.1 50.0h1v1h-1zM369.6 87.0h1v1h-1zM368.9 91.3h1v1h-1zM354.2 79.1h1v1h-1zM307.0 37.2h1v1h-1zM344.6 45.5h1v1h-1zM343.5 66.9h1v1h-1zM297.3 42.4h1v1h-1zM366.4 65.8h1v1h-1zM364.0 91.2h1v1h-1zM315.5 34.2h1v1h-1zM356.6 36.2h1v1h-1zM360.7 55.6h1v1h-1zM374.6 52.0h1v1h-1zM369.3 70.2h1v1h-1zM350.1 44.5h1v1h-1zM363.9 88.5h1v1h-1zM344.0 36.4h1v1h-1zM323.1 43.8h1v1h-1zM334.7 27.0h1v1h-1zM376.9 64.9h1v1h-1zM367.7 61.5h1v1h-1zM295.2 48.3h1v1h-1zM302.7 50.4h1v1h-1zM314.8 48.2h1v1h-1zM321.2 42.7h1v1h-1zM360.1 89.5h1v1h-1zM347.6 33.7h1v1h-1zM319.6 50.5h1v1h-1zM312.2 43.0h1v1h-1zM363.8 54.8h1v1h-1zM368.6 40.0h1v1h-1zM367.1 88.6h1v1h-1zM319.1 44.0h1v1h-1zM370.1 47.8h1v1h-1zM362.1 65.6h1v1h-1zM359.2 49.0h1v1h-1zM332.1 36.5h1v1h-1zM333.2 55.9h1v1h-1zM321.5 46.0h1v1h-1zM368.4 61.3h1v1h-1zM317.1 23.8h1v1h-1zM365.2 70.9h1v1h-1zM316.7 32.1h1v1h-1zM352.7 43.4h1v1h-1zM315.5 53.9h1v1h-1zM299.8 46.9h1v1h-1zM366.8 53.1h1v1h-1zM311.9 35.8h1v1h-1z" fill="#73b6c4" fill-opacity="0.8"/>
<path d="M333.5 64.3h1v1h-1zM360.4 68.9h1v1h-1zM352.5 66.6h1v1h-1zM331.6 65.2h1v1h-1zM325.2 94.3h1v1h-1zM305.2 77.9h1v1h-1zM333.6 66.7h1v1h-1zM337.1 81.7h1v1h-1zM310.3 65.5h1v1h-1zM310.5 76.9h1v1h-1zM324.1 59.5h1v1h-1zM319.1 61.0h1v1h-1zM328.8 71.0h1v1h-1zM356.5 82.6h1v1h-1zM345.0 90.2h1v1h-1zM316.7 90.1h1v1h-1zM312.1 60.6h1v1h-1zM312.9 80.8h1v1h-1zM346.7 72.5h1v1h-1zM317.1 92.6h1v1h-1zM350.1 64.3h1v1h-1zM340.5 71.8h1v1h-1zM329.0 83.8h1v1h-1zM309.7 75.7h1v1h-1zM344.7 80.3h1v1h-1zM353.1 83.0h1v1h-1zM343.6 63.5h1v1h-1zM347.9 61.7h1v1h-1zM358.1 66.2h1v1h-1zM336.9 87.4h1v1h-1zM326.6 70.1h1v1h-1zM348.2 69.7h1v1h-1zM339.0 93.4h1v1h-1zM311.7 67.2h1v1h-1zM323.2 73.4h1v1h-1zM333.1 86.6h1v1h-1zM339.9 80.5h1v1h-1zM310.7 61.0h1v1h-1zM311.8 65.8h1v1h-1zM354.1 65.2h1v1h-1zM314.5 58.1h1v1h-1zM348.3 69.2h1v1h-1zM332.4 96.0h1v1h-1zM315.1 60.7h1v1h-1zM309.7 80.7h1v1h-1zM319.8 72.6h1v1h-1zM306.5 63.2h1v1h-1zM325.9 63.0h1v1h-1zM343.0 71.0h1v1h-1zM330.4 77.8h1v1h-1zM309.0 76.0h1v1h-1zM340.8 58.3h1v1h-1zM327.1 95.3h1v1h-1zM326.3 95.3h1v1h-1zM324.0 73.5h1v1h-1zM365.2 77.9h1v1h-1zM340.3 65.8h1v1h-1zM326.9 93.6h1v1h-1zM326.7 60.7h1v1h-1zM333.0 84.4h1v1h-1zM332.2 73.5h1v1h-1zM316.1 89.8h1v1h-1zM318.0 59.4h1v1h-1zM348.0 85.2h1v1h-1zM344.5 68.2h1v1h-1zM361.6 76.9h1v1h-1zM326.6 65.6h1v1h-1zM357.8 84.0h1v1h-1zM369.8 84.8h1v1h-1zM312.6 73.9h1v1h-1zM310.4 58.3h1v1h-1zM334.7 58.6h1v1h-1zM334.5 58.8h1v1h-1zM316.0 75.0h1v1h-1zM316.5 62.9h1v1h-1zM335.9 75.9h1v1h-1zM313.4 86.8h1v1h-1zM317.5 75.4h1v1h-1zM340.0 75.5h1v1h-1zM360.3 92.7h1v1h-1zM350.9 65.1h1v1h-1zM304.6 71.1h1v1h-1zM349.7 94.1h1v1h-1zM318.1 57.9h1v1h-1zM328.6 64.1h1v1h-1zM341.5 80.2h1v1h-1zM365.4 85.9h1v1h-1zM347.8 89.0h1v1h-1zM348.3 65.5h1v1h-1zM347.4 64.0h1v1h-1zM321.0 93.7h1v1h-1zM351.9 81.6h1v1h-1zM332.4 90.4h1v1h-1zM331.4 71.0h1v1h-1zM327.9 57.6h1v1h-1zM346.1 84.3h1v1h-1zM311.5 73.5h1v1h-1zM324.0 85.5h1v1h-1zM337.2 90.3h1v1h-1zM321.2 90.4h1v1h-1zM306.0 63.0h1v1h-1zM343.1 86.5h1v1h-1zM310.5 83.0h1v1h-1zM307.4 65.0h1v1h-1zM343.7 73.0h1v1h-1zM329.6 57.4h1v1h-1zM308.8 59.7h1v1h-1zM334.7 77.7h1v1h-1zM346.7 64.4h1v1h-1zM334.6 77.4h1v1h-1zM326.7 93.1h1v1h-1zM320.1 57.9h1v1h-1zM304.3 87.0h1v1h-1zM369.0 75.3h1v1h-1zM344.1 60.8h1v1h-1zM316.8 70.3h1v1h-1zM316.4 68.0h1v1h-1zM323.0 87.2h1v1h-1zM355.5 79.0h1v1h-1zM332.8 83.5h1v1h-1zM351.6 67.7h1v1h-1zM324.8 77.1h1v1h-1zM324.7 66.7h1v1h-1zM340.3 73.7h1v1h-1zM345.3 77.3h1v1h-1z" fill="#d8a696" fill-opacity="0.8"/>
<path d="M334.5 82.9h1v1h-1zM314.0 63.9h1v1h-1zM330.5 58.2h1v1h-1zM325.3 89.4h1v1h-1zM354.2 92.1h1v1h-1zM343.8 84.6h1v1h-1zM352.9 81.8h1v1h-1zM338.2 89.1h1v1h-1zM345.3 94.1h1v1h-1zM361.7 92.8h1v1h-1zM322.3 86.1h1v1h-1zM328.0 77.0h1v1h-1zM338.9 89.1h1v1h-1zM314.3 66.3h1v1h-1zM323.1 58.5h1v1h-1zM313.8 85.6h1v1h-1zM342.0 73.7h1v1h-1zM331.4 86.1h1v1h-1zM304.2 62.0h1v1h-1zM322.5 62.7h1v1h-1zM352.8 92.8h1v1h-1zM355.2 70.7h1v1h-1zM307.5 74.8h1v1h-1zM323.6 95.6h1v1h-1zM362.0 72.2h1v1h-1zM308.4 67.9h1v1h-1zM336.9 90.8h1v1h-1zM320.4 90.1h1v1h-1zM316.9 80.2h1v1h-1zM324.9 95.5h1v1h-1zM340.9 70.7h1v1h-1zM336.9 91.4h1v1h-1zM361.3 68.8h1v1h-1zM319.2 90.8h1v1h-1zM325.3 95.4h1v1h-1zM332.3 90.5h1v1h-1zM321.0 75.5h1v1h-1zM310.4 90.5h1v1h-1zM334.9 93.4h1v1h-1zM310.1 76.3h1v1h-1zM323.1 72.5h1v1h-1zM335.7 63.6h1v1h-1zM311.5 75.6h1v1h-1zM359.5 78.5h1v1h-1zM360.9 90.9h1v1h-1zM335.2 73.2h1v1h-1zM358.2 67.9h1v1h-1zM333.4 76.6h1v1h-1zM342.8 83.1h1v1h-1zM360.7 76.4h1v1h-1zM326.1 79.0h1v1h-1zM304.5 78.9h1v1h-1zM337.8 94.8h1v1h-1zM304.6 72.1h1v1h-1zM320.9 87.3h1v1h-1zM347.9 69.9h1v1h-1zM310.2 89.8h1v1h-1zM317.6 59.9h1v1h-1zM321.6 73.6h1v1h-1zM314.2 76.2h1v1h-1zM324.1 67.7h1v1h-1zM348.5 68.5h1v1h-1zM304.8 80.5h1v1h-1zM351.0 78.5h1v1h-1zM324.1 57.8h1v1h-1zM310.7 81.2h1v1h-1zM359.0 90.8h1v1h-1zM334.8 64.6h1v1h-1zM357.8 72.3h1v1h-1zM310.5 70.7h1v1h-1zM337.7 95.2h1v1h-1zM367.7 75.3h1v1h-1zM350.8 91.4h1v1h-1zM308.6 90.3h1v1h-1zM349.0 64.7h1v1h-1zM360.5 72.2h1v1h-1zM311.2 74.2h1v1h-1zM317.2 87.5h1v1h-1zM353.7 77.6h1v1h-1zM351.1 65.3h1v1h-1zM365.6 88.4h1v1h-1zM319.4 82.1h1v1h-1zM362.8 75.5h1v1h-1zM353.2 88.5h1v1h-1zM320.5 85.9h1v1h-1zM323.6 87.2h1v1h-1zM311.3 63.4h1v1h-1zM368.0 74.5h1v1h-1zM335.0 82.8h1v1h-1zM312.7 61.5h1v1h-1zM339.3 70.7h1v1h-1zM311.0 70.4h1v1h-1zM324.4 88.2h1v1h-1zM315.8 79.4h1v1h-1zM315.4 69.9h1v1h-1zM313.2 82.6h1v1h-1zM331.8 93.6h1v1h-1zM347.9 67.9h1v1h-1zM323.1 69.8h1v1h-1zM319.0 62.6h1v1h-1zM344.8 87.5h1v1h-1zM332.2 90.3h1v1h-1zM340.9 69.6h1v1h-1zM317.6 66.8h1v1h-1zM316.5 77.3h1v1h-1zM356.0 84.4h1v1h-1zM327.7 94.0h1v1h-1zM326.7 96.1h1v1h-1zM358.7 68.7h1v1h-1zM355.1 79.7h1v1h-1zM333.2 83.6h1v1h-1zM305.7 71.0h1v1h-1zM339.2 70.9h1v1h-1zM333.8 73.9h1v1h-1zM337.5 81.2h1v1h-1zM348.7 63.4h1v1h-1zM352.6 83.3h1v1h-1zM326.6 74.4h1v1h-1zM315.2 64.6h1v1h-1zM340.5 80.6h1v1h-1zM315.7 87.8h1v1h-1zM360.0 73.2h1v1h-1zM319.6 85.1h1v1h-1zM314.1 76.5h1v1h-1zM325.3 73.0h1v1h-1zM350.6 68.6h1v1h-1zM327.0 95.5h1v1h-1zM312.3 68.0h1v1h-1zM329.7 62.1h1v1h-1zM348.3 67.4h1v1h-1zM362.9 87.9h1v1h-1zM339.3 89.0h1v1h-1zM351.7 66.9h1v1h-1zM303.8 72.7h1v1h-1zM312.4 81.0h1v1h-1zM354.6 77.5h1v1h-1zM324.7 91.5h1v1h-1zM354.6 87.6h1v1h-1zM330.5 85.0h1v1h-1zM311.2 77.0h1v1h-1zM335.0 82.9h1v1h-1zM309.2 64.4h1v1h-1zM338.5 72.5h1v1h-1zM361.2 90.7h1v1h-1zM322.3 65.1h1v1h-1zM346.6 68.8h1v1h-1zM360.8 80.4h1v1h-1zM315.1 74.1h1v1h-1zM337.7 95.6h1v1h-1zM352.3 78.2h1v1h-1zM313.5 77.3h1v1h-1zM321.4 89.4h1v1h-1zM363.0 92.0h1v1h-1zM364.2 91.3h1v1h-1zM355.8 75.1h1v1h-1zM363.5 83.1h1v1h-1z" fill="#784c3f" fill-opacity="0.8"/>
<path d="M319.6 60.0h1v1h-1zM339.6 82.9h1v1h-1zM306.3 64.0h1v1h-1zM309.3 85.9h1v1h-1zM336.2 80.4h1v1h-1zM315.0 59.3h1v1h-1zM320.7 72.3h1v1h-1zM361.8 92.7h1v1h-1zM370.9 78.6h1v1h-1zM308.1 67.0h1v1h-1zM336.9 80.7h1v1h-1zM362.4 84.6h1v1h-1zM331.7 71.5h1v1h-1zM348.3 84.1h1v1h-1zM342.9 71.1h1v1h-1zM331.0 63.7h1v1h-1zM342.9 73.2h1v1h-1zM347.7 74.5h1v1h-1zM353.0 83.1h1v1h-1zM319.6 65.9h1v1h-1zM307.0 66.2h1v1h-1zM336.8 77.5h1v1h-1zM316.8 68.9h1v1h-1zM329.4 65.9h1v1h-1zM341.0 60.2h1v1h-1zM359.3 74.4h1v1h-1zM311.6 62.2h1v1h-1zM323.1 64.4h1v1h-1zM324.1 80.6h1v1h-1zM338.9 59.8h1v1h-1zM328.8 74.8h1v1h-1zM306.2 75.1h1v1h-1zM365.4 83.6h1v1h-1zM329.9 79.8h1v1h-1zM347.1 75.0h1v1h-1zM319.6 90.7h1v1h-1zM323.1 75.8h1v1h-1zM323.3 65.2h1v1h-1zM358.7 93.5h1v1h-1zM335.7 74.3h1v1h-1zM370.2 75.2h1v1h-1zM351.5 69.3h1v1h-1zM333.3 87.3h1v1h-1zM306.6 89.8h1v1h-1zM322.3 90.7h1v1h-1zM313.2 59.8h1v1h-1zM353.1 85.1h1v1h-1zM365.0 90.1h1v1h-1zM327.9 80.7h1v1h-1zM346.1 76.5h1v1h-1zM343.2 67.5h1v1h-1zM356.6 82.8h1v1h-1zM353.3 82.5h1v1h-1zM334.5 83.0h1v1h-1zM319.5 68.5h1v1h-1zM312.7 84.8h1v1h-1zM349.9 65.1h1v1h-1zM328.2 91.9h1v1h-1zM321.9 73.2h1v1h-1zM332.0 78.8h1v1h-1zM338.5 59.8h1v1h-1zM343.6 84.7h1v1h-1zM327.1 79.4h1v1h-1zM323.8 76.9h1v1h-1zM351.4 72.5h1v1h-1zM332.6 78.1h1v1h-1zM320.4 63.5h1v1h-1zM329.2 77.2h1v1h-1zM304.3 79.2h1v1h-1zM332.9 67.7h1v1h-1zM322.6 74.3h1v1h-1zM344.9 78.0h1v1h-1zM334.7 81.3h1v1h-1zM338.5 92.5h1v1h-1zM354.1 78.6h1v1h-1zM346.9 68.2h1v1h-1zM323.7 64.3h1v1h-1zM334.7 77.4h1v1h-1zM334.2 73.7h1v1h-1zM306.1 64.5h1v1h-1zM313.7 89.4h1v1h-1zM309.1 65.4h1v1h-1zM318.6 74.3h1v1h-1zM304.0 71.0h1v1h-1zM309.1 74.9h1v1h-1zM306.2 75.9h1v1h-1zM319.7 92.2h1v1h-1zM307.5 89.7h1v1h-1zM356.3 85.1h1v1h-1zM338.7 73.2h1v1h-1zM363.8 76.4h1v1h-1zM313.9 89.6h1v1h-1zM354.6 64.0h1v1h-1zM342.2 70.1h1v1h-1zM307.7 81.9h1v1h-1zM310.6 91.2h1v1h-1zM309.9 85.5h1v1h-1zM347.4 70.7h1v1h-1zM321.7 83.2h1v1h-1zM346.8 94.6h1v1h-1zM314.1 59.0h1v1h-1zM327.4 87.3h1v1h-1zM352.0 85.5h1v1h-1zM343.0 73.6h1v1h-1zM358.6 78.6h1v1h-1zM329.5 87.8h1v1h-1zM334.3 95.5h1v1h-1zM327.1 90.9h1v1h-1zM349.8 81.0h1v1h-1zM354.8 70.1h1v1h-1zM345.2 89.6h1v1h-1zM330.1 68.6h1v1h-1zM316.0 88.0h1v1h-1zM346.8 92.2h1v1h-1zM324.7 63.8h1v1h-1zM322.2 63.8h1v1h-1zM324.2 57.5h1v1h-1zM352.4 63.3h1v1h-1zM317.7 88.5h1v1h-1zM355.2 66.8h1v1h-1zM320.9 76.7h1v1h-1zM307.0 88.1h1v1h-1zM306.0 63.6h1v1h-1zM336.0 78.4h1v1h-1zM341.2 75.9h1v1h-1zM333.7 66.8h1v1h-1zM329.4 95.6h1v1h-1zM322.5 74.8h1v1h-1zM321.2 89.6h1v1h-1zM331.1 60.5h1v1h-1zM368.7 73.4h1v1h-1zM338.8 81.0h1v1h-1zM353.8 89.8h1v1h-1zM311.8 72.6h1v1h-1zM326.0 58.3h1v1h-1z" fill="#96604f" fill-opacity="0.8"/>
<path d="M354.2 74.2h1v1h-1zM326.1 75.0h1v1h-1zM361.1 71.0h1v1h-1zM316.3 75.6h1v1h-1zM360.1 66.7h1v1h-1zM302.7 69.4h1v1h-1zM303.5 80.6h1v1h-1zM343.9 89.6h1v1h-1zM338.3 90.3h1v1h-1zM347.1 92.0h1v1h-1zM305.3 80.4h1v1h-1zM365.7 73.4h1v1h-1zM357.4 68.1h1v1h-1zM320.2 72.5h1v1h-1zM347.3 87.1h1v1h-1zM317.5 79.7h1v1h-1zM336.6 74.8h1v1h-1zM319.2 78.7h1v1h-1zM333.5 88.0h1v1h-1zM340.4 66.3h1v1h-1zM335.1 89.4h1v1h-1zM314.6 79.8h1v1h-1zM327.3 80.5h1v1h-1zM350.4 72.0h1v1h-1zM318.6 84.4h1v1h-1zM331.0 66.3h1v1h-1zM328.1 62.4h1v1h-1zM331.4 69.6h1v1h-1zM324.8 60.4h1v1h-1zM309.8 73.3h1v1h-1zM332.9 57.8h1v1h-1zM368.5 87.7h1v1h-1zM351.7 71.7h1v1h-1zM315.8 61.4h1v1h-1zM306.4 70.5h1v1h-1zM338.3 87.8h1v1h-1zM336.9 89.5h1v1h-1zM323.0 70.9h1v1h-1zM351.3 77.3h1v1h-1zM341.2 75.1h1v1h-1zM322.0 63.4h1v1h-1zM363.2 81.6h1v1h-1zM321.1 79.5h1v1h-1zM313.9 67.8h1v1h-1zM339.5 75.1h1v1h-1zM333.0 74.6h1v1h-1zM328.3 67.0h1v1h-1zM306.0 73.2h1v1h-1zM330.3 69.6h1v1h-1zM340.2 76.2h1v1h-1zM366.6 75.5h1v1h-1zM340.0 58.2h1v1h-1zM318.3 84.1h1v1h-1zM317.9 57.4h1v1h-1zM322.0 75.2h1v1h-1zM330.2 59.8h1v1h-1zM341.2 83.3h1v1h-1zM311.3 71.6h1v1h-1zM342.0 66.2h1v1h-1zM340.7 83.2h1v1h-1zM310.3 85.7h1v1h-1zM303.9 78.2h1v1h-1zM306.3 75.4h1v1h-1zM370.0 80.9h1v1h-1zM308.1 62.1h1v1h-1zM305.2 87.9h1v1h-1zM313.5 62.5h1v1h-1zM351.5 89.1h1v1h-1zM307.4 84.1h1v1h-1zM331.9 74.1h1v1h-1zM316.8 70.8h1v1h-1zM358.4 75.2h1v1h-1zM366.4 80.3h1v1h-1zM334.5 85.8h1v1h-1zM352.9 72.8h1v1h-1zM362.6 71.5h1v1h-1zM349.2 71.9h1v1h-1zM323.7 77.0h1v1h-1zM303.6 67.4h1v1h-1zM304.6 71.9h1v1h-1zM322.1 57.8h1v1h-1zM344.8 76.8h1v1h-1zM347.3 75.2h1v1h-1zM363.4 77.2h1v1h-1zM317.4 93.4h1v1h-1zM311.4 73.9h1v1h-1zM304.6 72.9h1v1h-1zM324.3 81.2h1v1h-1zM351.1 67.9h1v1h-1zM342.3 72.2h1v1h-1zM343.5 90.7h1v1h-1zM354.3 89.1h1v1h-1zM323.2 64.8h1v1h-1zM330.2 91.0h1v1h-1zM322.9 68.6h1v1h-1zM306.4 89.5h1v1h-1zM357.9 86.6h1v1h-1zM357.0 86.9h1v1h-1zM358.8 74.3h1v1h-1zM354.0 85.8h1v1h-1zM361.4 85.6h1v1h-1zM348.7 93.7h1v1h-1zM360.1 79.7h1v1h-1zM349.2 86.7h1v1h-1zM314.7 67.0h1v1h-1zM326.7 86.2h1v1h-1zM355.9 66.5h1v1h-1zM333.5 83.4h1v1h-1zM320.8 88.6h1v1h-1zM333.1 71.7h1v1h-1zM310.0 70.2h1v1h-1zM306.9 88.9h1v1h-1zM317.4 87.4h1v1h-1zM318.7 76.7h1v1h-1zM313.0 72.7h1v1h-1z" fill="#d39987" fill-opacity="0.8"/>
<path d="M324.6 83.4h1v1h-1zM318.5 92.5h1v1h-1zM347.9 74.6h1v1h-1zM333.1 91.5h1v1h-1zM306.0 85.7h1v1h-1zM309.8 73.1h1v1h-1zM359.0 80.2h1v1h-1zM322.0 71.5h1v1h-1zM356.1 68.8h1v1h-1zM328.6 70.9h1v1h-1zM335.8 58.4h1v1h-1zM349.6 73.3h1v1h-1zM361.6 79.1h1v1h-1zM305.5 86.0h1v1h-1zM345.1 75.0h1v1h-1zM312.9 69.8h1v1h-1zM354.9 67.1h1v1h-1zM320.8 68.1h1v1h-1zM322.2 95.1h1v1h-1zM358.6 88.6h1v1h-1zM315.2 90.5h1v1h-1zM344.3 79.0h1v1h-1zM363.4 87.9h1v1h-1zM350.6 93.3h1v1h-1zM311.2 64.6h1v1h-1zM320.1 70.4h1v1h-1zM344.1 63.3h1v1h-1zM347.1 88.5h1v1h-1zM349.2 91.0h1v1h-1zM328.9 86.1h1v1h-1zM326.5 79.4h1v1h-1zM331.4 59.7h1v1h-1zM348.2 78.5h1v1h-1zM321.2 63.5h1v1h-1zM360.6 78.3h1v1h-1zM358.8 78.9h1v1h-1zM312.5 75.2h1v1h-1zM346.9 70.9h1v1h-1zM333.1 82.0h1v1h-1zM331.7 83.0h1v1h-1zM338.7 78.5h1v1h-1zM318.2 77.1h1v1h-1zM325.0 82.5h1v1h-1zM352.5 77.4h1v1h-1zM320.3 71.2h1v1h-1zM341.6 65.8h1v1h-1zM313.1 67.7h1v1h-1zM320.0 88.1h1v1h-1zM340.5 91.5h1v1h-1zM344.0 81.2h1v1h-1zM319.0 89.2h1v1h-1zM311.5 80.2h1v1h-1zM312.5 74.1h1v1h-1zM324.9 68.3h1v1h-1zM353.9 69.7h1v1h-1zM336.4 83.6h1v1h-1zM305.9 76.8h1v1h-1zM340.7 70.7h1v1h-1zM314.1 87.8h1v1h-1zM347.3 92.5h1v1h-1zM336.9 62.2h1v1h-1zM339.6 61.2h1v1h-1zM330.8 59.8h1v1h-1zM325.5 59.7h1v1h-1zM347.1 74.6h1v1h-1zM328.9 78.3h1v1h-1zM361.8 91.2h1v1h-1zM360.1 77.4h1v1h-1zM320.0 57.9h1v1h-1zM349.4 85.7h1v1h-1zM328.2 79.7h1v1h-1zM303.9 83.6h1v1h-1zM303.7 81.7h1v1h-1zM309.0 90.9h1v1h-1zM306.2 81.3h1v1h-1zM321.5 84.5h1v1h-1zM331.8 85.3h1v1h-1zM322.6 69.4h1v1h-1zM355.0 75.4h1v1h-1zM307.8 86.5h1v1h-1zM367.5 86.8h1v1h-1zM337.1 87.5h1v1h-1zM330.6 84.5h1v1h-1zM308.2 80.7h1v1h-1zM311.6 78.6h1v1h-1zM314.8 58.8h1v1h-1zM353.0 81.0h1v1h-1zM331.0 76.5h1v1h-1zM352.9 68.9h1v1h-1zM307.4 81.9h1v1h-1zM329.8 80.6h1v1h-1zM361.8 71.6h1v1h-1zM340.5 77.6h1v1h-1zM338.0 68.6h1v1h-1zM346.7 68.4h1v1h-1zM306.3 86.7h1v1h-1zM361.8 79.9h1v1h-1zM312.4 62.4h1v1h-1zM325.6 67.6h1v1h-1zM343.2 92.2h1v1h-1zM339.5 79.4h1v1h-1zM324.4 85.4h1v1h-1zM307.2 65.5h1v1h-1zM318.5 94.4h1v1h-1zM329.8 86.2h1v1h-1zM332.3 92.1h1v1h-1zM308.3 84.9h1v1h-1zM346.9 62.1h1v1h-1zM308.3 78.2h1v1h-1zM324.4 65.8h1v1h-1zM329.1 94.4h1v1h-1zM361.8 82.0h1v1h-1zM328.6 70.2h1v1h-1zM307.6 62.3h1v1h-1zM340.6 69.9h1v1h-1zM338.4 88.2h1v1h-1zM313.0 69.6h1v1h-1zM306.4 63.2h1v1h-1zM341.6 87.8h1v1h-1zM339.1 88.2h1v1h-1zM329.0 78.9h1v1h-1zM333.9 73.3h1v1h-1zM328.6 90.4h1v1h-1zM312.5 69.5h1v1h-1zM324.0 69.2h1v1h-1zM362.5 80.2h1v1h-1zM302.4 69.0h1v1h-1zM312.5 80.3h1v1h-1zM312.3 70.0h1v1h-1zM362.0 77.7h1v1h-1z" fill="#5a392f" fill-opacity="0.8"/>
<path d="M355.6 97.2h1v1h-1zM318.6 98.0h1v1h-1zM372.2 94.1h1v1h-1zM325.8 98.7h1v1h-1zM328.0 103.3h1v1h-1zM329.0 97.1h1v1h-1zM371.3 94.8h1v1h-1zM358.5 98.9h1v1h-1zM325.0 102.2h1v1h-1zM349.9 97.9h1v1h-1zM362.5 95.0h1v1h-1zM330.2 100.4h1v1h-1zM327.5 96.0h1v1h-1zM326.1 100.9h1v1h-1zM342.9 95.3h1v1h-1zM336.2 97.3h1v1h-1zM320.7 102.8h1v1h-1zM371.1 96.4h1v1h-1zM342.2 93.8h1v1h-1zM345.5 95.1h1v1h-1zM356.7 98.4h1v1h-1zM341.3 97.0h1v1h-1zM366.8 93.0h1v1h-1zM372.7 96.3h1v1h-1zM348.2 98.4h1v1h-1zM338.1 95.7h1v1h-1zM330.5 98.4h1v1h-1zM369.0 98.1h1v1h-1zM353.9 99.3h1v1h-1zM350.0 94.9h1v1h-1zM370.5 91.8h1v1h-1zM341.0 95.3h1v1h-1zM337.0 95.9h1v1h-1zM363.8 94.9h1v1h-1z" fill="#527a78" fill-opacity="0.8"/>
<path d="M322.4 100.9h1v1h-1zM342.3 99.5h1v1h-1zM345.4 99.7h1v1h-1zM316.1 98.0h1v1h-1zM360.7 100.4h1v1h-1zM321.7 105.3h1v1h-1zM323.3 100.3h1v1h-1zM369.3 93.1h1v1h-1zM346.5 96.5h1v1h-1zM322.1 96.7h1v1h-1zM365.5 99.6h1v1h-1zM366.6 97.4h1v1h-1zM355.8 98.7h1v1h-1zM342.6 99.1h1v1h-1zM320.2 102.2h1v1h-1zM356.7 93.4h1v1h-1zM314.6 94.4h1v1h-1zM317.5 94.0h1v1h-1zM357.3 98.9h1v1h-1zM326.7 94.2h1v1h-1z" fill="#314948" fill-opacity="0.8"/>
<path d="M358.8 93.1h1v1h-1zM324.3 97.4h1v1h-1zM320.7 93.8h1v1h-1zM361.2 95.1h1v1h-1zM344.6 94.4h1v1h-1zM362.6 100.4h1v1h-1zM361.2 96.3h1v1h-1zM325.9 100.8h1v1h-1zM321.4 98.4h1v1h-1zM326.5 93.7h1v1h-1zM354.6 99.7h1v1h-1zM324.4 103.6h1v1h-1zM361.2 93.0h1v1h-1zM327.5 98.9h1v1h-1zM346.0 97.3h1v1h-1zM365.1 96.9h1v1h-1zM344.2 95.2h1v1h-1zM361.4 94.7h1v1h-1zM369.6 94.8h1v1h-1zM337.9 99.4h1v1h-1zM370.2 96.8h1v1h-1zM347.1 94.6h1v1h-1zM350.3 97.8h1v1h-1zM344.0 97.0h1v1h-1zM344.8 96.7h1v1h-1zM322.2 105.9h1v1h-1zM332.1 98.9h1v1h-1z" fill="#8bb5b3" fill-opacity="0.8"/>
<path d="M323.6 103.4h1v1h-1zM323.4 100.6h1v1h-1zM361.1 96.7h1v1h-1zM360.7 97.5h1v1h-1zM341.6 99.4h1v1h-1zM326.4 98.7h1v1h-1zM354.7 98.9h1v1h-1zM328.5 101.4h1v1h-1zM341.0 96.5h1v1h-1zM320.9 98.5h1v1h-1zM321.1 101.3h1v1h-1zM360.9 99.3h1v1h-1zM370.4 96.5h1v1h-1zM344.9 98.0h1v1h-1zM368.4 93.5h1v1h-1zM339.4 94.9h1v1h-1zM352.7 96.1h1v1h-1zM320.1 99.3h1v1h-1zM330.4 94.5h1v1h-1zM343.3 98.4h1v1h-1zM365.6 93.0h1v1h-1z" fill="#426160" fill-opacity="0.8"/>
<path d="M335.4 95.0h1v1h-1zM317.1 98.1h1v1h-1zM330.7 99.9h1v1h-1zM371.6 94.4h1v1h-1zM327.3 100.0h1v1h-1zM365.2 96.7h1v1h-1zM315.4 97.3h1v1h-1zM342.7 97.5h1v1h-1zM330.3 96.0h1v1h-1zM324.2 104.2h1v1h-1zM344.7 94.0h1v1h-1zM344.7 98.4h1v1h-1zM342.3 95.7h1v1h-1zM364.3 97.9h1v1h-1zM319.9 103.1h1v1h-1zM366.5 91.6h1v1h-1zM347.2 98.7h1v1h-1zM351.5 96.9h1v1h-1zM372.4 94.6h1v1h-1zM327.5 98.0h1v1h-1zM323.3 93.6h1v1h-1zM349.9 93.6h1v1h-1zM321.9 101.6h1v1h-1zM364.1 97.6h1v1h-1z" fill="#99bebc" fill-opacity="0.8"/>
<path d="M298.4 104.3h1v1h-1zM297.1 99.6h1v1h-1zM304.2 93.9h1v1h-1zM293.9 111.1h1v1h-1zM300.2 94.1h1v1h-1zM307.3 106.5h1v1h-1zM289.5 109.1h1v1h-1zM286.7 96.8h1v1h-1zM302.2 107.0h1v1h-1zM296.6 97.1h1v1h-1zM300.6 102.4h1v1h-1zM307.5 104.5h1v1h-1zM313.2 104.3h1v1h-1zM295.0 101.2h1v1h-1zM310.7 113.9h1v1h-1zM293.1 108.3h1v1h-1zM286.5 103.0h1v1h-1zM289.4 112.3h1v1h-1zM296.5 124.2h1v1h-1zM312.2 101.9h1v1h-1zM303.7 106.5h1v1h-1zM300.0 119.6h1v1h-1zM290.6 108.7h1v1h-1zM292.1 102.5h1v1h-1zM294.0 94.7h1v1h-1zM293.6 95.3h1v1h-1zM301.3 101.5h1v1h-1zM313.4 103.6h1v1h-1zM293.7 120.0h1v1h-1zM307.4 117.3h1v1h-1zM297.7 95.4h1v1h-1zM294.8 95.7h1v1h-1zM286.6 105.7h1v1h-1z" fill="#477c84" fill-opacity="0.8"/>
<path d="M295.9 107.6h1v1h-1zM285.9 96.5h1v1h-1zM287.8 94.6h1v1h-1zM286.9 98.5h1v1h-1zM286.6 104.5h1v1h-1zM300.5 123.0h1v1h-1zM296.5 105.5h1v1h-1zM309.8 113.8h1v1h-1zM294.8 121.7h1v1h-1zM288.6 94.8h1v1h-1zM292.0 106.6h1v1h-1zM306.7 99.1h1v1h-1zM286.4 108.9h1v1h-1zM306.7 97.9h1v1h-1zM293.5 106.0h1v1h-1zM289.5 97.1h1v1h-1zM294.7 107.5h1v1h-1zM286.7 98.9h1v1h-1zM303.3 104.7h1v1h-1zM295.1 126.7h1v1h-1zM309.2 115.7h1v1h-1zM293.5 104.1h1v1h-1zM295.7 119.6h1v1h-1zM292.0 97.4h1v1h-1zM296.1 92.4h1v1h-1zM306.9 106.8h1v1h-1zM295.0 96.1h1v1h-1zM301.5 117.1h1v1h-1zM295.5 119.2h1v1h-1zM291.0 113.8h1v1h-1zM296.4 104.9h1v1h-1zM306.4 109.4h1v1h-1zM291.7 99.1h1v1h-1zM303.2 105.4h1v1h-1zM307.1 117.8h1v1h-1zM305.5 105.6h1v1h-1zM310.9 109.3h1v1h-1zM292.1 115.0h1v1h-1zM293.5 99.4h1v1h-1zM293.5 108.3h1v1h-1zM289.6 116.1h1v1h-1zM292.6 103.7h1v1h-1zM289.2 96.5h1v1h-1zM296.1 94.0h1v1h-1z" fill="#396369" fill-opacity="0.8"/>
<path d="M294.0 111.8h1v1h-1zM304.8 106.0h1v1h-1zM305.8 102.4h1v1h-1zM301.2 100.5h1v1h-1zM292.4 121.1h1v1h-1zM298.9 101.1h1v1h-1zM289.3 95.0h1v1h-1zM302.4 122.3h1v1h-1zM302.5 100.6h1v1h-1zM308.3 111.1h1v1h-1zM302.1 123.1h1v1h-1zM305.3 99.9h1v1h-1zM300.1 117.5h1v1h-1zM297.4 92.9h1v1h-1zM287.1 102.6h1v1h-1zM307.1 101.5h1v1h-1zM292.0 104.3h1v1h-1zM291.5 112.7h1v1h-1zM302.2 105.7h1v1h-1zM306.3 114.1h1v1h-1zM305.2 108.2h1v1h-1zM300.9 104.9h1v1h-1zM308.1 102.0h1v1h-1zM288.7 101.7h1v1h-1zM309.7 115.2h1v1h-1zM298.3 123.1h1v1h-1zM310.5 108.2h1v1h-1zM296.1 91.6h1v1h-1zM307.7 96.6h1v1h-1zM309.6 100.9h1v1h-1zM310.9 107.5h1v1h-1zM298.0 95.6h1v1h-1zM293.3 96.6h1v1h-1zM295.5 126.6h1v1h-1zM306.4 95.0h1v1h-1zM291.6 103.6h1v1h-1zM307.0 101.9h1v1h-1zM304.8 94.7h1v1h-1zM291.3 96.2h1v1h-1zM307.6 103.5h1v1h-1zM308.8 102.4h1v1h-1zM293.3 104.3h1v1h-1zM293.1 92.4h1v1h-1z" fill="#2a4a4f" fill-opacity="0.8"/>
<path d="M305.0 106.0h1v1h-1zM284.5 101.8h1v1h-1zM305.8 120.0h1v1h-1zM296.0 106.3h1v1h-1zM287.0 113.4h1v1h-1zM297.0 125.6h1v1h-1zM292.4 97.2h1v1h-1zM289.6 115.2h1v1h-1zM292.0 111.0h1v1h-1zM304.0 109.3h1v1h-1zM297.7 103.3h1v1h-1zM308.2 97.5h1v1h-1zM301.9 103.4h1v1h-1zM293.2 118.5h1v1h-1zM307.6 114.8h1v1h-1zM291.2 95.9h1v1h-1zM295.2 116.5h1v1h-1zM299.8 101.8h1v1h-1zM290.9 114.7h1v1h-1zM287.8 115.7h1v1h-1zM300.1 98.1h1v1h-1zM300.8 119.1h1v1h-1zM293.7 116.8h1v1h-1zM291.1 99.2h1v1h-1zM291.4 107.2h1v1h-1zM293.0 123.2h1v1h-1zM295.6 97.7h1v1h-1zM302.1 115.6h1v1h-1zM286.4 108.5h1v1h-1zM300.5 123.8h1v1h-1zM307.4 99.0h1v1h-1zM289.0 99.4h1v1h-1zM300.8 117.9h1v1h-1zM299.7 113.3h1v1h-1zM288.3 111.7h1v1h-1zM289.2 96.8h1v1h-1zM285.2 97.5h1v1h-1zM313.3 105.7h1v1h-1zM294.3 96.0h1v1h-1zM291.6 96.5h1v1h-1zM291.6 110.3h1v1h-1zM288.3 94.2h1v1h-1zM289.6 105.8h1v1h-1zM298.5 106.6h1v1h-1zM292.8 110.0h1v1h-1zM295.1 110.3h1v1h-1zM289.0 114.5h1v1h-1zM284.3 96.4h1v1h-1z" fill="#8fc0c7" fill-opacity="0.8"/>
<path d="M296.5 124.4h1v1h-1zM310.8 108.7h1v1h-1zM301.4 112.9h1v1h-1zM304.7 98.5h1v1h-1zM311.8 108.9h1v1h-1zM289.8 108.1h1v1h-1zM295.2 119.4h1v1h-1zM285.7 101.3h1v1h-1zM296.0 104.7h1v1h-1zM295.3 97.2h1v1h-1zM292.6 116.0h1v1h-1zM284.8 97.5h1v1h-1zM294.1 105.2h1v1h-1zM294.1 104.6h1v1h-1zM295.4 108.7h1v1h-1zM299.6 105.1h1v1h-1zM309.4 103.6h1v1h-1zM292.4 120.1h1v1h-1zM291.0 112.5h1v1h-1zM284.2 96.8h1v1h-1zM294.0 94.7h1v1h-1zM304.2 99.3h1v1h-1zM287.4 105.9h1v1h-1zM295.0 109.1h1v1h-1zM301.9 119.1h1v1h-1zM294.2 100.0h1v1h-1zM290.5 115.1h1v1h-1zM311.1 107.3h1v1h-1zM306.5 109.7h1v1h-1zM301.4 96.7h1v1h-1zM305.1 100.9h1v1h-1zM307.7 103.5h1v1h-1zM297.0 112.5h1v1h-1zM297.8 104.6h1v1h-1zM300.1 101.5h1v1h-1zM303.5 99.2h1v1h-1zM296.5 102.0h1v1h-1zM289.8 109.9h1v1h-1zM305.4 108.6h1v1h-1zM286.6 95.0h1v1h-1zM301.1 108.9h1v1h-1zM302.7 98.0h1v1h-1zM296.3 104.4h1v1h-1zM308.7 107.3h1v1h-1z" fill="#7fb7bf" fill-opacity="0.8"/>
<path d="M321.5 117.2h1v1h-1zM307.2 126.0h1v1h-1zM316.5 125.9h1v1h-1zM313.3 126.0h1v1h-1zM313.4 121.8h1v1h-1zM320.2 120.1h1v1h-1zM319.1 120.8h1v1h-1zM311.9 126.3h1v1h-1zM310.7 122.3h1v1h-1zM310.6 122.7h1v1h-1zM319.3 125.9h1v1h-1zM309.9 122.8h1v1h-1zM320.2 121.8h1v1h-1zM313.3 123.8h1v1h-1zM304.6 127.1h1v1h-1zM324.1 114.1h1v1h-1zM309.6 125.6h1v1h-1zM313.7 117.1h1v1h-1zM310.4 124.6h1v1h-1z" fill="#226328" fill-opacity="0.8"/>
<path d="M323.0 120.2h1v1h-1zM323.1 115.6h1v1h-1zM312.3 117.5h1v1h-1zM314.1 127.9h1v1h-1zM314.1 118.1h1v1h-1zM319.4 125.5h1v1h-1zM318.1 116.6h1v1h-1zM308.5 125.3h1v1h-1zM305.1 122.6h1v1h-1zM313.6 122.9h1v1h-1z" fill="#1a4a1e" fill-opacity="0.8"/>
<path d="M315.5 126.1h1v1h-1zM323.9 116.1h1v1h-1zM323.9 113.9h1v1h-1zM319.5 113.8h1v1h-1zM323.6 118.8h1v1h-1zM306.9 123.9h1v1h-1zM310.1 119.9h1v1h-1zM316.6 125.7h1v1h-1zM307.3 125.4h1v1h-1zM312.7 117.0h1v1h-1zM320.4 123.9h1v1h-1zM323.9 114.1h1v1h-1z" fill="#61b768" fill-opacity="0.8"/>
<path d="M305.6 123.7h1v1h-1zM322.4 117.3h1v1h-1zM319.9 119.1h1v1h-1zM321.4 120.5h1v1h-1zM308.3 120.2h1v1h-1zM309.0 127.5h1v1h-1zM322.0 121.6h1v1h-1zM308.5 127.3h1v1h-1zM311.9 117.0h1v1h-1zM314.8 125.4h1v1h-1z" fill="#2b7c32" fill-opacity="0.8"/>
<path d="M317.3 124.9h1v1h-1zM311.3 119.2h1v1h-1zM305.7 122.5h1v1h-1zM304.3 125.4h1v1h-1zM309.7 126.0h1v1h-1zM309.5 119.5h1v1h-1zM322.7 121.1h1v1h-1zM307.5 124.0h1v1h-1z" fill="#75c07b" fill-opacity="0.8"/>
<path d="M369.9 139.7h1v1h-1zM405.6 135.0h1v1h-1zM383.4 135.1h1v1h-1zM402.3 137.8h1v1h-1zM383.6 123.1h1v1h-1zM373.1 116.4h1v1h-1zM369.3 120.0h1v1h-1zM392.2 138.8h1v1h-1zM348.2 120.2h1v1h-1zM395.3 145.0h1v1h-1zM370.0 145.0h1v1h-1zM385.9 122.5h1v1h-1zM334.9 119.0h1v1h-1zM392.6 124.2h1v1h-1zM335.2 114.0h1v1h-1zM384.5 121.1h1v1h-1zM350.7 138.5h1v1h-1zM405.8 131.2h1v1h-1zM366.4 140.4h1v1h-1zM379.9 132.3h1v1h-1zM358.4 101.2h1v1h-1zM355.6 132.2h1v1h-1zM354.3 108.1h1v1h-1zM369.6 130.6h1v1h-1zM351.2 132.2h1v1h-1zM395.4 134.2h1v1h-1zM400.4 139.7h1v1h-1zM354.2 131.3h1v1h-1zM361.1 122.5h1v1h-1zM341.1 132.2h1v1h-1zM372.1 144.9h1v1h-1zM349.4 134.1h1v1h-1zM362.3 126.2h1v1h-1zM364.5 112.9h1v1h-1zM371.9 123.6h1v1h-1zM365.8 143.8h1v1h-1zM344.9 101.5h1v1h-1zM342.7 116.8h1v1h-1zM385.6 124.4h1v1h-1zM348.8 114.9h1v1h-1zM366.5 132.2h1v1h-1zM356.3 139.2h1v1h-1zM347.0 123.5h1v1h-1zM360.9 143.5h1v1h-1zM355.0 112.8h1v1h-1zM380.4 132.7h1v1h-1zM356.7 129.0h1v1h-1zM404.0 134.5h1v1h-1zM373.0 106.0h1v1h-1zM385.8 144.9h1v1h-1zM346.3 104.4h1v1h-1zM400.9 139.0h1v1h-1zM337.2 125.8h1v1h-1zM349.2 122.3h1v1h-1zM359.4 104.8h1v1h-1zM351.0 134.5h1v1h-1zM391.3 131.3h1v1h-1zM398.6 134.2h1v1h-1zM389.1 123.5h1v1h-1zM368.0 144.2h1v1h-1zM344.7 103.7h1v1h-1zM351.7 132.2h1v1h-1zM342.4 108.9h1v1h-1zM342.6 102.8h1v1h-1zM347.0 136.0h1v1h-1zM371.4 118.0h1v1h-1zM342.8 112.1h1v1h-1zM387.0 144.1h1v1h-1zM353.9 103.9h1v1h-1zM343.4 134.3h1v1h-1zM376.1 116.1h1v1h-1zM354.3 106.6h1v1h-1zM340.5 107.2h1v1h-1zM397.7 135.8h1v1h-1zM383.5 121.6h1v1h-1zM380.6 130.4h1v1h-1zM402.4 138.0h1v1h-1zM362.0 122.1h1v1h-1zM369.3 144.0h1v1h-1zM357.8 102.9h1v1h-1zM359.7 123.1h1v1h-1zM361.9 106.5h1v1h-1zM378.5 124.4h1v1h-1zM334.5 109.6h1v1h-1zM372.7 127.5h1v1h-1zM341.2 126.8h1v1h-1zM396.7 142.6h1v1h-1zM402.8 142.2h1v1h-1zM379.3 117.0h1v1h-1zM347.0 113.7h1v1h-1zM369.3 143.8h1v1h-1zM389.3 133.7h1v1h-1zM348.2 107.0h1v1h-1zM378.6 113.7h1v1h-1zM336.1 121.9h1v1h-1zM390.8 123.1h1v1h-1zM370.6 112.9h1v1h-1zM390.7 124.0h1v1h-1zM354.1 118.3h1v1h-1zM369.2 138.0h1v1h-1zM362.8 143.1h1v1h-1zM361.2 109.1h1v1h-1zM349.0 103.8h1v1h-1zM368.6 116.3h1v1h-1zM397.7 131.1h1v1h-1zM372.5 133.6h1v1h-1zM405.0 136.4h1v1h-1zM368.1 108.7h1v1h-1zM384.6 136.3h1v1h-1zM371.9 116.1h1v1h-1zM364.6 103.4h1v1h-1zM335.9 105.6h1v1h-1zM349.9 107.9h1v1h-1zM374.1 111.2h1v1h-1zM382.7 129.9h1v1h-1zM345.0 133.6h1v1h-1zM371.4 120.7h1v1h-1zM354.3 119.5h1v1h-1zM372.0 112.8h1v1h-1zM355.5 102.1h1v1h-1zM379.8 132.3h1v1h-1zM375.6 122.4h1v1h-1zM344.9 136.2h1v1h-1zM391.3 123.5h1v1h-1zM381.3 132.3h1v1h-1zM358.3 107.0h1v1h-1zM379.9 111.0h1v1h-1zM365.8 119.9h1v1h-1zM380.4 110.7h1v1h-1zM379.8 137.2h1v1h-1zM349.6 135.1h1v1h-1zM342.6 111.1h1v1h-1zM387.1 117.7h1v1h-1zM382.8 111.4h1v1h-1zM371.3 117.9h1v1h-1zM397.0 143.3h1v1h-1zM344.7 102.5h1v1h-1zM369.9 143.2h1v1h-1zM379.3 143.0h1v1h-1zM395.6 130.5h1v1h-1zM361.1 123.8h1v1h-1zM349.9 130.0h1v1h-1zM370.4 118.5h1v1h-1zM380.7 125.1h1v1h-1zM361.7 124.6h1v1h-1zM342.4 118.8h1v1h-1zM359.2 128.7h1v1h-1zM388.2 113.8h1v1h-1zM386.5 121.6h1v1h-1zM358.7 110.9h1v1h-1zM354.3 123.1h1v1h-1z" fill="#8470bc" fill-opacity="0.8"/>
<path d="M350.8 114.6h1v1h-1zM401.5 142.0h1v1h-1zM381.6 129.4h1v1h-1zM367.4 142.4h1v1h-1zM333.1 112.8h1v1h-1zM374.4 111.1h1v1h-1zM347.7 103.6h1v1h-1zM370.4 134.9h1v1h-1zM336.0 120.9h1v1h-1zM369.4 109.6h1v1h-1zM355.5 102.9h1v1h-1zM355.5 113.6h1v1h-1zM385.7 136.5h1v1h-1zM362.6 140.5h1v1h-1zM371.7 135.0h1v1h-1zM359.6 113.1h1v1h-1zM363.1 144.2h1v1h-1zM364.6 119.6h1v1h-1zM365.7 128.3h1v1h-1zM389.4 135.2h1v1h-1zM388.6 135.0h1v1h-1zM377.8 113.8h1v1h-1zM388.5 129.8h1v1h-1zM380.1 133.3h1v1h-1zM358.0 115.6h1v1h-1zM391.5 115.8h1v1h-1zM349.1 114.0h1v1h-1zM354.5 137.6h1v1h-1zM376.9 121.9h1v1h-1zM364.6 104.8h1v1h-1zM352.7 105.0h1v1h-1zM340.1 113.5h1v1h-1zM361.6 104.0h1v1h-1zM358.3 136.1h1v1h-1zM346.9 132.5h1v1h-1zM349.3 135.9h1v1h-1zM359.5 118.4h1v1h-1zM334.4 114.1h1v1h-1zM362.2 142.0h1v1h-1zM349.0 119.8h1v1h-1zM383.6 118.4h1v1h-1zM345.7 123.1h1v1h-1zM405.3 138.0h1v1h-1zM369.8 125.3h1v1h-1zM344.8 121.5h1v1h-1zM343.4 127.5h1v1h-1zM366.4 107.4h1v1h-1zM372.7 125.0h1v1h-1zM365.0 123.7h1v1h-1zM344.6 129.7h1v1h-1zM344.3 110.7h1v1h-1zM339.3 126.8h1v1h-1zM362.0 128.7h1v1h-1zM339.1 103.0h1v1h-1zM377.5 125.7h1v1h-1zM335.4 104.1h1v1h-1zM382.6 142.0h1v1h-1zM366.2 129.3h1v1h-1zM346.0 132.1h1v1h-1zM343.2 108.4h1v1h-1zM362.2 114.7h1v1h-1zM400.8 127.1h1v1h-1zM367.4 124.0h1v1h-1zM353.8 140.0h1v1h-1zM358.5 110.3h1v1h-1zM386.8 128.4h1v1h-1zM351.4 107.3h1v1h-1zM359.5 113.9h1v1h-1zM365.6 118.1h1v1h-1zM361.5 107.7h1v1h-1zM368.9 119.3h1v1h-1zM353.9 127.7h1v1h-1zM374.5 134.7h1v1h-1zM375.6 108.9h1v1h-1zM387.2 131.6h1v1h-1zM400.0 136.3h1v1h-1zM368.8 115.5h1v1h-1zM367.2 105.4h1v1h-1zM381.4 123.8h1v1h-1zM341.7 103.8h1v1h-1zM344.7 122.8h1v1h-1zM355.7 141.7h1v1h-1zM372.0 104.2h1v1h-1zM368.4 129.1h1v1h-1zM388.6 120.0h1v1h-1zM338.2 105.3h1v1h-1zM366.7 112.0h1v1h-1zM386.3 135.6h1v1h-1zM382.0 139.6h1v1h-1zM381.2 135.2h1v1h-1zM399.2 141.0h1v1h-1zM396.5 143.9h1v1h-1zM389.1 121.6h1v1h-1zM371.5 133.4h1v1h-1zM350.0 103.0h1v1h-1zM373.1 105.3h1v1h-1zM389.8 136.7h1v1h-1zM363.8 137.3h1v1h-1zM385.7 124.4h1v1h-1zM338.5 109.5h1v1h-1zM398.0 140.0h1v1h-1zM393.3 124.4h1v1h-1zM346.1 130.0h1v1h-1zM399.3 136.5h1v1h-1zM356.3 133.4h1v1h-1zM344.9 113.0h1v1h-1zM400.7 130.8h1v1h-1zM376.6 113.7h1v1h-1zM366.7 110.5h1v1h-1zM380.6 129.7h1v1h-1zM346.8 108.6h1v1h-1zM391.2 140.3h1v1h-1zM365.1 107.6h1v1h-1zM346.2 107.8h1v1h-1zM337.8 116.9h1v1h-1zM390.9 132.5h1v1h-1zM371.2 135.7h1v1h-1zM359.0 117.0h1v1h-1zM390.6 143.6h1v1h-1zM376.2 127.7h1v1h-1zM356.1 104.6h1v1h-1zM362.0 110.0h1v1h-1zM379.1 117.9h1v1h-1zM343.4 114.7h1v1h-1zM367.4 132.8h1v1h-1zM368.4 132.0h1v1h-1zM357.9 142.2h1v1h-1zM376.7 127.4h1v1h-1zM345.4 127.1h1v1h-1zM402.2 137.9h1v1h-1zM335.3 109.8h1v1h-1zM384.5 122.6h1v1h-1zM396.3 132.8h1v1h-1zM397.8 120.9h1v1h-1zM365.1 117.1h1v1h-1zM340.0 114.7h1v1h-1zM365.3 129.7h1v1h-1zM400.5 130.5h1v1h-1zM400.1 126.4h1v1h-1zM402.8 133.3h1v1h-1zM340.2 126.6h1v1h-1zM342.5 124.0h1v1h-1zM389.3 116.8h1v1h-1zM346.1 107.9h1v1h-1zM380.1 131.5h1v1h-1zM382.1 135.3h1v1h-1zM346.5 107.5h1v1h-1zM394.5 142.5h1v1h-1zM347.3 104.3h1v1h-1zM400.5 122.4h1v1h-1zM344.5 122.9h1v1h-1zM354.2 135.0h1v1h-1zM340.0 109.0h1v1h-1zM334.2 108.5h1v1h-1zM372.3 139.4h1v1h-1zM364.7 132.1h1v1h-1zM384.1 127.5h1v1h-1zM353.4 121.6h1v1h-1zM366.1 138.7h1v1h-1z" fill="#3c2678" fill-opacity="0.8"/>
<path d="M396.4 120.0h1v1h-1zM379.8 122.7h1v1h-1zM364.6 106.0h1v1h-1zM392.3 118.0h1v1h-1zM368.1 145.4h1v1h-1zM342.4 112.1h1v1h-1zM377.7 124.1h1v1h-1zM357.0 109.1h1v1h-1zM349.8 140.2h1v1h-1zM353.6 135.4h1v1h-1zM346.8 104.3h1v1h-1zM392.5 140.2h1v1h-1zM352.1 114.8h1v1h-1zM354.7 108.2h1v1h-1zM380.3 112.4h1v1h-1zM399.4 141.2h1v1h-1zM364.0 103.3h1v1h-1zM365.6 108.7h1v1h-1zM370.4 111.7h1v1h-1zM348.7 122.0h1v1h-1zM403.3 124.6h1v1h-1zM354.0 140.9h1v1h-1zM372.3 131.4h1v1h-1zM395.7 122.2h1v1h-1zM370.8 145.0h1v1h-1zM363.1 103.8h1v1h-1zM344.0 114.2h1v1h-1zM348.9 132.8h1v1h-1zM380.3 118.5h1v1h-1zM393.2 117.5h1v1h-1zM376.3 111.0h1v1h-1zM349.0 129.5h1v1h-1zM384.1 138.8h1v1h-1zM336.1 120.7h1v1h-1zM386.9 118.4h1v1h-1zM369.5 133.5h1v1h-1zM346.3 120.7h1v1h-1zM346.8 136.8h1v1h-1zM369.7 111.2h1v1h-1zM361.7 108.6h1v1h-1zM354.1 117.0h1v1h-1zM365.1 115.8h1v1h-1zM393.4 126.7h1v1h-1zM347.4 128.9h1v1h-1zM378.4 118.3h1v1h-1zM390.2 136.6h1v1h-1zM350.4 103.6h1v1h-1zM362.1 132.5h1v1h-1zM366.5 102.8h1v1h-1zM353.5 131.7h1v1h-1zM359.5 124.2h1v1h-1zM383.0 111.3h1v1h-1zM352.2 107.3h1v1h-1zM384.8 133.8h1v1h-1zM391.2 122.6h1v1h-1zM364.2 128.6h1v1h-1zM374.0 112.7h1v1h-1zM369.4 119.5h1v1h-1zM393.8 120.1h1v1h-1zM342.7 134.9h1v1h-1zM357.8 143.4h1v1h-1zM359.6 116.5h1v1h-1zM360.5 127.3h1v1h-1zM381.3 133.9h1v1h-1zM361.8 108.1h1v1h-1zM384.3 111.3h1v1h-1zM345.5 122.6h1v1h-1zM339.3 117.1h1v1h-1zM357.4 139.9h1v1h-1zM361.7 109.0h1v1h-1zM385.2 125.7h1v1h-1zM358.5 129.5h1v1h-1zM345.8 132.7h1v1h-1zM383.9 141.7h1v1h-1zM381.5 132.8h1v1h-1zM355.9 116.6h1v1h-1zM389.8 142.1h1v1h-1zM383.1 113.1h1v1h-1zM343.3 131.8h1v1h-1zM369.1 127.1h1v1h-1zM369.5 111.0h1v1h-1zM376.5 127.0h1v1h-1zM342.4 128.8h1v1h-1zM357.1 117.2h1v1h-1zM396.2 125.0h1v1h-1zM375.6 139.7h1v1h-1zM401.0 140.5h1v1h-1zM385.0 135.5h1v1h-1zM349.0 124.4h1v1h-1zM354.4 102.3h1v1h-1zM397.2 129.9h1v1h-1zM335.7 109.8h1v1h-1zM365.2 113.8h1v1h-1zM349.8 128.9h1v1h-1zM364.8 116.6h1v1h-1zM364.0 139.5h1v1h-1zM389.2 131.7h1v1h-1zM377.7 116.8h1v1h-1zM360.2 104.3h1v1h-1zM406.0 138.4h1v1h-1zM359.3 123.0h1v1h-1zM404.4 138.0h1v1h-1zM373.8 136.9h1v1h-1zM349.1 113.0h1v1h-1zM362.8 102.1h1v1h-1zM377.3 128.3h1v1h-1zM372.7 124.6h1v1h-1zM357.1 123.6h1v1h-1zM388.4 140.3h1v1h-1zM348.8 132.9h1v1h-1zM357.0 125.9h1v1h-1zM369.3 114.6h1v1h-1zM360.5 137.1h1v1h-1zM397.9 135.4h1v1h-1zM393.3 121.4h1v1h-1zM346.6 110.4h1v1h-1zM379.5 140.8h1v1h-1zM345.9 109.2h1v1h-1zM365.8 132.5h1v1h-1zM367.5 103.6h1v1h-1zM364.2 107.8h1v1h-1zM360.6 118.0h1v1h-1zM362.6 138.5h1v1h-1zM367.7 125.7h1v1h-1zM380.5 108.9h1v1h-1z" fill="#241648" fill-opacity="0.8"/>
<path d="M370.7 141.9h1v1h-1zM370.2 125.1h1v1h-1zM380.4 140.6h1v1h-1zM370.6 135.5h1v1h-1zM361.0 131.9h1v1h-1zM396.8 130.5h1v1h-1zM346.4 133.1h1v1h-1zM394.4 130.4h1v1h-1zM361.9 126.1h1v1h-1zM374.9 123.8h1v1h-1zM378.1 138.3h1v1h-1zM384.0 116.5h1v1h-1zM387.1 136.8h1v1h-1zM375.0 111.8h1v1h-1zM340.1 123.5h1v1h-1zM368.2 117.7h1v1h-1zM399.5 137.8h1v1h-1zM376.5 124.6h1v1h-1zM341.7 124.4h1v1h-1zM391.6 120.8h1v1h-1zM349.5 112.9h1v1h-1zM367.1 128.7h1v1h-1zM361.4 132.2h1v1h-1zM400.9 140.7h1v1h-1zM378.6 109.4h1v1h-1zM344.6 126.6h1v1h-1zM349.2 139.0h1v1h-1zM363.7 131.6h1v1h-1zM355.3 109.3h1v1h-1zM347.6 122.9h1v1h-1zM389.3 118.0h1v1h-1zM356.4 128.7h1v1h-1zM366.8 108.0h1v1h-1zM381.6 120.1h1v1h-1zM381.7 117.5h1v1h-1zM343.0 131.0h1v1h-1zM349.3 133.8h1v1h-1zM351.3 122.3h1v1h-1zM347.1 104.7h1v1h-1zM354.5 114.8h1v1h-1zM390.4 121.1h1v1h-1zM348.4 113.9h1v1h-1zM366.4 106.5h1v1h-1zM381.1 141.5h1v1h-1zM363.8 122.7h1v1h-1zM394.8 136.4h1v1h-1zM355.3 121.0h1v1h-1zM354.0 124.9h1v1h-1zM362.7 134.4h1v1h-1zM348.4 114.3h1v1h-1zM335.2 112.9h1v1h-1zM353.0 112.1h1v1h-1zM365.6 132.6h1v1h-1zM405.1 136.2h1v1h-1zM338.6 124.1h1v1h-1zM358.1 109.6h1v1h-1zM393.8 119.1h1v1h-1zM336.4 105.1h1v1h-1zM371.3 118.1h1v1h-1zM358.0 140.2h1v1h-1zM339.8 117.8h1v1h-1zM346.2 111.9h1v1h-1zM359.8 129.0h1v1h-1zM358.7 116.1h1v1h-1zM339.9 112.2h1v1h-1zM364.6 137.5h1v1h-1zM356.5 110.1h1v1h-1zM366.7 134.4h1v1h-1zM401.8 133.5h1v1h-1zM374.1 105.6h1v1h-1zM360.6 106.8h1v1h-1zM378.5 120.9h1v1h-1zM389.7 133.9h1v1h-1zM395.8 130.0h1v1h-1zM386.1 134.0h1v1h-1zM365.0 115.6h1v1h-1zM339.8 119.0h1v1h-1zM384.1 123.5h1v1h-1zM405.9 129.4h1v1h-1zM371.9 115.3h1v1h-1zM348.9 138.3h1v1h-1zM384.8 123.7h1v1h-1zM355.7 106.4h1v1h-1zM384.3 126.4h1v1h-1zM400.5 126.8h1v1h-1zM339.4 120.7h1v1h-1zM366.6 130.3h1v1h-1zM350.9 116.0h1v1h-1zM385.2 143.3h1v1h-1zM367.5 145.1h1v1h-1zM379.2 126.1h1v1h-1zM360.1 117.1h1v1h-1zM402.8 124.8h1v1h-1zM353.0 136.3h1v1h-1zM358.8 131.3h1v1h-1zM383.3 123.9h1v1h-1zM359.3 113.7h1v1h-1zM385.3 139.4h1v1h-1zM357.0 108.2h1v1h-1zM404.8 135.1h1v1h-1zM392.2 127.9h1v1h-1zM364.2 113.1h1v1h-1zM384.1 131.9h1v1h-1zM360.9 123.0h1v1h-1zM400.6 133.1h1v1h-1zM389.0 131.2h1v1h-1zM354.5 108.9h1v1h-1zM368.1 133.5h1v1h-1zM359.4 119.1h1v1h-1zM361.2 138.6h1v1h-1zM393.0 119.2h1v1h-1zM338.0 103.4h1v1h-1zM376.7 142.4h1v1h-1zM389.3 135.5h1v1h-1zM339.4 110.3h1v1h-1zM342.2 135.0h1v1h-1zM386.8 119.1h1v1h-1zM390.7 116.1h1v1h-1zM406.7 133.6h1v1h-1zM392.0 134.0h1v1h-1zM365.8 105.3h1v1h-1zM373.9 138.5h1v1h-1zM381.6 141.7h1v1h-1zM365.8 108.3h1v1h-1zM376.5 106.2h1v1h-1zM395.5 129.1h1v1h-1zM346.4 120.7h1v1h-1zM340.0 119.6h1v1h-1zM384.3 111.0h1v1h-1zM407.6 132.7h1v1h-1z" fill="#301e60" fill-opacity="0.8"/>
<path d="M382.2 125.1h1v1h-1zM348.6 126.2h1v1h-1zM398.6 128.6h1v1h-1zM349.3 116.4h1v1h-1zM378.4 110.4h1v1h-1zM378.4 117.8h1v1h-1zM365.6 142.0h1v1h-1zM383.1 143.8h1v1h-1zM384.1 144.8h1v1h-1zM367.2 118.1h1v1h-1zM369.0 134.4h1v1h-1zM354.2 105.1h1v1h-1zM387.8 115.1h1v1h-1zM389.9 120.8h1v1h-1zM335.5 121.4h1v1h-1zM353.3 135.5h1v1h-1zM366.5 125.3h1v1h-1zM372.2 140.9h1v1h-1zM383.7 139.2h1v1h-1zM386.3 114.4h1v1h-1zM399.1 130.3h1v1h-1zM374.1 112.5h1v1h-1zM364.0 134.1h1v1h-1zM380.0 123.7h1v1h-1zM358.0 130.2h1v1h-1zM351.3 131.6h1v1h-1zM380.5 133.6h1v1h-1zM359.8 134.7h1v1h-1zM359.8 109.7h1v1h-1zM353.3 121.0h1v1h-1zM373.3 115.3h1v1h-1zM364.3 130.3h1v1h-1zM373.1 138.2h1v1h-1zM377.7 109.5h1v1h-1zM395.0 127.5h1v1h-1zM378.1 131.6h1v1h-1zM379.4 107.9h1v1h-1zM334.6 109.0h1v1h-1zM398.4 136.0h1v1h-1zM401.5 142.3h1v1h-1zM394.0 138.4h1v1h-1zM353.4 117.5h1v1h-1zM392.8 135.5h1v1h-1zM364.1 114.5h1v1h-1zM385.3 143.1h1v1h-1zM337.7 113.3h1v1h-1zM348.5 121.7h1v1h-1zM392.4 126.2h1v1h-1zM380.4 109.6h1v1h-1zM381.9 113.6h1v1h-1zM360.3 119.5h1v1h-1zM358.0 120.5h1v1h-1zM353.7 120.0h1v1h-1zM345.8 115.4h1v1h-1zM401.6 128.2h1v1h-1zM341.4 128.2h1v1h-1zM383.7 134.5h1v1h-1zM364.6 114.0h1v1h-1zM345.6 106.8h1v1h-1zM392.6 140.6h1v1h-1zM372.1 113.1h1v1h-1zM351.3 131.9h1v1h-1zM373.0 123.1h1v1h-1zM402.3 134.2h1v1h-1zM358.0 142.1h1v1h-1zM396.8 135.0h1v1h-1zM373.1 117.9h1v1h-1zM366.0 125.9h1v1h-1zM378.1 145.2h1v1h-1zM349.5 118.8h1v1h-1zM350.5 115.0h1v1h-1zM376.8 131.9h1v1h-1zM380.6 115.7h1v1h-1zM361.1 126.6h1v1h-1zM348.3 136.2h1v1h-1zM345.0 114.1h1v1h-1zM374.4 118.8h1v1h-1zM400.5 122.5h1v1h-1zM362.8 102.4h1v1h-1zM372.1 139.1h1v1h-1zM347.2 107.3h1v1h-1zM404.1 133.5h1v1h-1zM357.5 105.7h1v1h-1zM395.2 135.6h1v1h-1zM355.8 107.0h1v1h-1zM372.3 120.1h1v1h-1zM377.2 126.0h1v1h-1zM379.7 112.5h1v1h-1zM397.2 128.6h1v1h-1zM345.7 124.5h1v1h-1zM347.9 132.0h1v1h-1zM389.6 141.3h1v1h-1zM361.5 116.3h1v1h-1zM349.0 115.7h1v1h-1zM366.5 115.7h1v1h-1zM353.7 135.8h1v1h-1zM396.9 138.0h1v1h-1zM375.7 115.2h1v1h-1zM333.7 110.2h1v1h-1zM371.2 104.7h1v1h-1zM350.6 133.6h1v1h-1zM362.0 138.2h1v1h-1zM405.1 133.2h1v1h-1zM382.3 132.4h1v1h-1zM376.6 121.6h1v1h-1zM400.8 138.9h1v1h-1zM394.5 135.0h1v1h-1zM348.1 101.2h1v1h-1zM388.2 115.6h1v1h-1zM369.1 104.6h1v1h-1zM375.8 114.2h1v1h-1zM368.6 107.5h1v1h-1zM369.1 137.6h1v1h-1zM396.4 134.7h1v1h-1zM375.7 121.9h1v1h-1zM377.3 123.5h1v1h-1zM393.5 123.8h1v1h-1zM370.2 141.5h1v1h-1zM388.0 132.8h1v1h-1zM395.5 131.9h1v1h-1zM343.1 132.1h1v1h-1zM345.6 104.5h1v1h-1zM341.2 127.0h1v1h-1zM353.1 127.3h1v1h-1zM365.1 143.0h1v1h-1zM386.0 128.5h1v1h-1zM360.5 125.8h1v1h-1zM379.7 130.4h1v1h-1zM344.7 125.3h1v1h-1zM380.2 111.2h1v1h-1zM375.6 136.7h1v1h-1zM337.2 117.2h1v1h-1zM358.8 125.9h1v1h-1zM360.0 123.9h1v1h-1zM364.0 142.8h1v1h-1zM378.2 117.1h1v1h-1zM357.4 135.5h1v1h-1zM368.4 132.1h1v1h-1zM345.5 118.6h1v1h-1zM350.1 133.4h1v1h-1zM377.1 108.6h1v1h-1zM361.2 126.8h1v1h-1zM376.8 128.5h1v1h-1zM341.6 106.1h1v1h-1zM357.0 103.7h1v1h-1z" fill="#735bb3" fill-opacity="0.8"/>
<path d="M384.9 93.5h1v1h-1zM384.0 92.3h1v1h-1zM395.0 100.2h1v1h-1zM393.4 89.6h1v1h-1zM395.6 101.0h1v1h-1zM397.3 99.3h1v1h-1zM387.5 93.9h1v1h-1zM393.9 101.7h1v1h-1zM384.9 90.9h1v1h-1zM390.6 92.2h1v1h-1zM390.2 88.3h1v1h-1zM394.3 99.2h1v1h-1zM378.4 92.2h1v1h-1zM395.4 98.3h1v1h-1zM389.1 89.9h1v1h-1zM399.0 93.7h1v1h-1zM394.0 98.5h1v1h-1zM385.4 90.7h1v1h-1zM381.4 94.4h1v1h-1zM376.8 100.1h1v1h-1zM388.3 100.4h1v1h-1zM387.6 94.7h1v1h-1z" fill="#225529" fill-opacity="0.8"/>
<path d="M385.5 93.3h1v1h-1zM394.1 90.5h1v1h-1zM398.5 97.4h1v1h-1zM392.2 95.4h1v1h-1zM378.0 90.6h1v1h-1zM378.8 92.7h1v1h-1zM383.3 93.9h1v1h-1zM380.3 97.8h1v1h-1zM395.9 92.1h1v1h-1zM375.8 97.4h1v1h-1zM393.1 102.1h1v1h-1zM379.0 95.2h1v1h-1zM388.6 88.6h1v1h-1zM396.6 97.9h1v1h-1zM387.3 88.5h1v1h-1zM386.6 93.5h1v1h-1zM383.7 103.0h1v1h-1zM398.3 96.8h1v1h-1zM390.3 90.7h1v1h-1zM391.2 98.3h1v1h-1zM385.1 101.9h1v1h-1zM379.3 95.0h1v1h-1zM397.3 99.3h1v1h-1zM396.0 90.9h1v1h-1zM386.9 91.6h1v1h-1z" fill="#75b07c" fill-opacity="0.8"/>
<path d="M385.6 95.2h1v1h-1zM378.3 91.2h1v1h-1zM378.2 88.5h1v1h-1zM392.4 97.2h1v1h-1zM389.5 102.8h1v1h-1zM393.0 95.3h1v1h-1zM389.0 93.6h1v1h-1zM383.8 96.6h1v1h-1zM384.2 101.4h1v1h-1zM382.1 100.8h1v1h-1zM387.3 88.0h1v1h-1zM385.3 87.4h1v1h-1zM397.0 98.3h1v1h-1zM388.4 98.7h1v1h-1zM374.6 90.3h1v1h-1zM391.9 94.3h1v1h-1zM392.0 90.1h1v1h-1zM389.6 99.4h1v1h-1z" fill="#1a401f" fill-opacity="0.8"/>
<path d="M398.3 96.1h1v1h-1zM394.3 100.7h1v1h-1zM381.8 93.2h1v1h-1zM390.8 101.2h1v1h-1zM378.6 101.7h1v1h-1zM388.1 89.1h1v1h-1zM392.5 93.6h1v1h-1zM392.6 99.9h1v1h-1zM379.7 90.5h1v1h-1zM396.5 100.8h1v1h-1zM394.0 100.6h1v1h-1zM376.5 98.9h1v1h-1zM385.6 88.9h1v1h-1zM386.7 91.9h1v1h-1zM400.8 98.0h1v1h-1z" fill="#61a56a" fill-opacity="0.8"/>
<path d="M377.5 88.8h1v1h-1zM384.2 91.0h1v1h-1zM396.5 96.6h1v1h-1zM378.6 99.5h1v1h-1zM396.3 97.4h1v1h-1zM388.9 101.5h1v1h-1zM387.9 92.9h1v1h-1zM377.8 88.2h1v1h-1zM374.8 91.8h1v1h-1zM391.7 89.8h1v1h-1zM378.7 102.3h1v1h-1zM384.0 102.8h1v1h-1zM381.1 92.9h1v1h-1zM388.7 102.8h1v1h-1zM383.3 90.1h1v1h-1zM386.1 90.2h1v1h-1zM397.0 100.4h1v1h-1zM390.4 99.7h1v1h-1z" fill="#2b6b33" fill-opacity="0.8"/>
<path d="M432.1 82.4h1v1h-1zM441.2 79.7h1v1h-1zM403.2 80.3h1v1h-1zM439.4 77.4h1v1h-1zM424.7 91.2h1v1h-1zM415.1 74.4h1v1h-1zM440.0 83.6h1v1h-1zM430.2 83.4h1v1h-1zM438.2 74.7h1v1h-1zM429.5 76.6h1v1h-1zM407.6 63.8h1v1h-1zM413.8 65.6h1v1h-1zM422.0 89.8h1v1h-1zM434.2 78.6h1v1h-1zM406.9 81.6h1v1h-1zM436.8 75.9h1v1h-1zM424.0 78.9h1v1h-1zM423.4 83.2h1v1h-1zM420.9 77.2h1v1h-1zM424.1 80.8h1v1h-1zM408.5 62.5h1v1h-1zM407.4 83.6h1v1h-1zM426.3 65.6h1v1h-1zM413.3 86.4h1v1h-1zM409.3 65.9h1v1h-1zM430.6 70.7h1v1h-1zM411.0 67.5h1v1h-1zM426.8 70.0h1v1h-1zM429.4 88.8h1v1h-1zM421.5 79.7h1v1h-1zM426.3 72.1h1v1h-1zM428.7 63.5h1v1h-1zM418.0 71.3h1v1h-1zM420.6 83.6h1v1h-1zM408.3 62.2h1v1h-1zM409.1 71.7h1v1h-1zM432.4 80.9h1v1h-1zM426.8 79.7h1v1h-1zM411.9 70.6h1v1h-1zM431.7 69.5h1v1h-1zM429.3 72.1h1v1h-1zM407.1 82.6h1v1h-1zM413.5 77.4h1v1h-1zM419.8 82.6h1v1h-1zM437.3 81.5h1v1h-1zM419.2 82.2h1v1h-1zM426.0 90.5h1v1h-1zM402.3 73.3h1v1h-1zM415.5 83.8h1v1h-1zM429.2 85.6h1v1h-1zM402.7 64.8h1v1h-1zM411.1 75.8h1v1h-1zM411.7 64.9h1v1h-1zM420.0 75.4h1v1h-1zM413.9 72.5h1v1h-1zM435.0 66.0h1v1h-1zM422.5 87.4h1v1h-1zM407.4 81.6h1v1h-1z" fill="#58151a" fill-opacity="0.8"/>
<path d="M410.4 65.3h1v1h-1zM438.5 69.9h1v1h-1zM405.4 75.8h1v1h-1zM431.1 66.2h1v1h-1zM430.2 66.1h1v1h-1zM415.1 92.5h1v1h-1zM431.6 86.1h1v1h-1zM434.6 87.3h1v1h-1zM425.2 87.8h1v1h-1zM420.5 94.3h1v1h-1zM416.5 72.8h1v1h-1zM412.9 80.7h1v1h-1zM404.2 75.4h1v1h-1zM410.7 75.3h1v1h-1zM422.1 89.0h1v1h-1zM405.9 84.3h1v1h-1zM435.4 81.9h1v1h-1zM407.9 65.5h1v1h-1zM412.8 82.8h1v1h-1zM437.4 68.1h1v1h-1zM407.3 69.6h1v1h-1zM440.2 72.6h1v1h-1zM429.9 86.7h1v1h-1zM424.4 71.6h1v1h-1zM418.1 74.1h1v1h-1zM426.6 70.0h1v1h-1zM419.0 76.4h1v1h-1zM433.1 75.8h1v1h-1zM436.8 67.7h1v1h-1zM416.1 65.9h1v1h-1zM431.4 85.4h1v1h-1zM409.6 74.4h1v1h-1zM412.2 73.0h1v1h-1zM439.7 75.5h1v1h-1zM414.9 83.8h1v1h-1zM422.2 71.0h1v1h-1zM439.7 83.5h1v1h-1zM406.0 78.5h1v1h-1zM411.9 73.4h1v1h-1zM411.9 85.4h1v1h-1zM410.8 80.6h1v1h-1zM418.0 77.1h1v1h-1zM422.0 69.7h1v1h-1zM424.3 82.3h1v1h-1zM431.6 75.6h1v1h-1zM426.5 80.6h1v1h-1zM419.2 70.6h1v1h-1zM408.6 88.0h1v1h-1zM434.2 76.6h1v1h-1zM430.5 79.6h1v1h-1zM432.7 77.3h1v1h-1zM435.0 76.2h1v1h-1zM409.8 76.5h1v1h-1zM420.4 89.3h1v1h-1zM406.3 69.5h1v1h-1zM423.0 84.4h1v1h-1zM431.8 66.4h1v1h-1zM403.0 71.0h1v1h-1z" fill="#93242b" fill-opacity="0.8"/>
<path d="M438.1 72.2h1v1h-1zM414.5 68.2h1v1h-1zM410.9 89.4h1v1h-1zM427.1 70.5h1v1h-1zM427.2 70.8h1v1h-1zM409.3 68.3h1v1h-1zM411.0 71.5h1v1h-1zM423.0 73.4h1v1h-1zM407.4 75.0h1v1h-1zM421.0 68.5h1v1h-1zM418.7 70.9h1v1h-1zM428.4 73.5h1v1h-1zM431.0 75.3h1v1h-1zM406.4 73.8h1v1h-1zM415.6 79.7h1v1h-1zM432.7 65.9h1v1h-1zM416.1 70.6h1v1h-1zM417.8 84.3h1v1h-1zM404.4 82.8h1v1h-1zM415.0 89.2h1v1h-1zM417.1 77.2h1v1h-1zM424.8 87.9h1v1h-1zM435.0 85.6h1v1h-1zM419.7 78.7h1v1h-1zM410.0 66.5h1v1h-1zM430.2 86.3h1v1h-1zM436.3 68.9h1v1h-1zM424.1 77.2h1v1h-1zM427.3 76.4h1v1h-1zM403.7 81.5h1v1h-1zM433.8 87.3h1v1h-1zM428.5 87.0h1v1h-1zM411.6 87.9h1v1h-1zM407.4 72.3h1v1h-1zM428.7 73.7h1v1h-1zM407.0 71.1h1v1h-1zM429.4 67.1h1v1h-1zM427.5 79.0h1v1h-1zM421.4 72.4h1v1h-1zM412.9 75.1h1v1h-1zM422.8 84.5h1v1h-1zM413.7 74.6h1v1h-1zM404.3 73.5h1v1h-1zM404.4 72.2h1v1h-1zM405.3 74.1h1v1h-1zM433.8 85.8h1v1h-1zM416.8 77.0h1v1h-1zM416.4 79.4h1v1h-1zM416.0 70.4h1v1h-1zM431.9 78.3h1v1h-1zM438.4 82.9h1v1h-1zM429.6 78.8h1v1h-1zM412.7 70.3h1v1h-1zM404.3 65.3h1v1h-1zM427.9 68.4h1v1h-1z" fill="#751c22" fill-opacity="0.8"/>
<path d="M404.9 72.8h1v1h-1zM406.4 74.3h1v1h-1zM410.7 75.2h1v1h-1zM410.6 84.0h1v1h-1zM422.3 77.0h1v1h-1zM408.9 68.2h1v1h-1zM429.8 69.5h1v1h-1zM413.0 65.8h1v1h-1zM403.3 76.3h1v1h-1zM423.6 81.8h1v1h-1zM412.7 88.3h1v1h-1zM411.8 81.3h1v1h-1zM418.0 68.3h1v1h-1zM434.0 69.2h1v1h-1zM408.1 84.6h1v1h-1zM416.8 71.8h1v1h-1zM406.6 69.4h1v1h-1zM436.2 78.7h1v1h-1zM435.3 85.4h1v1h-1zM424.4 91.1h1v1h-1zM438.5 78.8h1v1h-1zM407.9 83.1h1v1h-1zM410.1 67.0h1v1h-1zM418.2 73.2h1v1h-1zM417.9 79.2h1v1h-1zM418.4 82.1h1v1h-1zM413.1 70.7h1v1h-1zM405.1 71.9h1v1h-1zM406.6 80.3h1v1h-1zM402.9 73.8h1v1h-1zM433.9 85.7h1v1h-1zM409.9 63.4h1v1h-1zM402.2 77.4h1v1h-1zM420.1 72.4h1v1h-1zM428.9 90.1h1v1h-1zM436.6 82.3h1v1h-1zM423.7 86.1h1v1h-1zM436.5 69.4h1v1h-1zM403.5 70.7h1v1h-1zM424.7 66.0h1v1h-1zM412.9 69.1h1v1h-1zM438.2 70.8h1v1h-1zM433.8 85.6h1v1h-1zM421.7 73.6h1v1h-1zM417.0 68.1h1v1h-1zM405.8 80.6h1v1h-1zM437.8 73.4h1v1h-1zM403.3 65.1h1v1h-1zM420.1 67.9h1v1h-1zM417.6 78.9h1v1h-1zM414.2 77.3h1v1h-1zM427.1 79.8h1v1h-1zM439.1 72.0h1v1h-1zM404.1 75.2h1v1h-1zM428.1 90.0h1v1h-1zM427.1 69.9h1v1h-1zM435.3 70.8h1v1h-1zM412.2 71.8h1v1h-1zM421.1 75.1h1v1h-1zM419.3 88.2h1v1h-1zM426.4 69.6h1v1h-1zM437.4 84.5h1v1h-1zM409.4 86.3h1v1h-1z" fill="#cf5961" fill-opacity="0.8"/>
<path d="M435.0 65.7h1v1h-1zM428.0 67.6h1v1h-1zM422.6 79.1h1v1h-1zM426.0 64.9h1v1h-1zM436.9 85.3h1v1h-1zM435.0 67.8h1v1h-1zM414.1 72.8h1v1h-1zM410.2 66.0h1v1h-1zM435.8 79.0h1v1h-1zM439.2 81.8h1v1h-1zM432.4 83.3h1v1h-1zM435.1 84.0h1v1h-1zM418.2 66.6h1v1h-1zM441.2 79.6h1v1h-1zM415.1 78.5h1v1h-1zM418.3 72.5h1v1h-1zM411.6 68.6h1v1h-1zM416.9 78.7h1v1h-1zM405.8 80.4h1v1h-1zM415.5 89.1h1v1h-1zM433.0 67.7h1v1h-1zM427.8 81.6h1v1h-1zM415.7 85.1h1v1h-1zM435.5 66.9h1v1h-1zM415.6 76.5h1v1h-1zM438.9 84.2h1v1h-1zM419.6 77.4h1v1h-1zM415.8 90.2h1v1h-1zM417.3 79.6h1v1h-1zM410.3 73.7h1v1h-1zM409.1 84.4h1v1h-1zM432.3 85.7h1v1h-1zM437.1 85.4h1v1h-1zM420.3 77.9h1v1h-1zM436.2 70.8h1v1h-1zM410.0 79.7h1v1h-1zM413.8 76.3h1v1h-1zM407.4 67.0h1v1h-1zM409.2 64.5h1v1h-1zM438.9 81.3h1v1h-1zM429.1 69.3h1v1h-1zM410.9 82.8h1v1h-1zM430.0 81.9h1v1h-1zM428.8 90.7h1v1h-1zM438.4 85.2h1v1h-1zM421.3 90.2h1v1h-1zM402.0 76.5h1v1h-1zM419.0 84.4h1v1h-1zM419.3 69.9h1v1h-1zM412.5 70.4h1v1h-1zM428.7 66.6h1v1h-1zM408.9 62.3h1v1h-1zM431.5 86.2h1v1h-1zM425.5 68.2h1v1h-1zM430.6 83.7h1v1h-1zM421.6 76.7h1v1h-1zM406.7 82.1h1v1h-1zM427.8 69.1h1v1h-1zM425.5 89.5h1v1h-1z" fill="#d56e75" fill-opacity="0.8"/>
<path d="M446.2 128.9h1v1h-1zM437.5 126.9h1v1h-1zM445.7 127.3h1v1h-1zM437.7 124.7h1v1h-1z" fill="#492111" fill-opacity="0.8"/>
<path d="M438.7 124.0h1v1h-1zM450.1 128.3h1v1h-1zM436.9 127.1h1v1h-1zM440.7 122.2h1v1h-1z" fill="#b66e51" fill-opacity="0.8"/>
<path d="M441.4 124.9h1v1h-1zM440.8 126.9h1v1h-1zM444.2 128.4h1v1h-1zM438.5 122.9h1v1h-1zM439.9 126.0h1v1h-1zM439.0 126.5h1v1h-1zM449.7 123.7h1v1h-1zM445.3 127.5h1v1h-1zM445.9 125.5h1v1h-1zM444.8 127.2h1v1h-1zM443.5 125.9h1v1h-1z" fill="#7b371c" fill-opacity="0.8"/>
<path d="M447.2 126.7h1v1h-1zM443.0 129.4h1v1h-1zM438.1 123.3h1v1h-1z" fill="#622c16" fill-opacity="0.8"/>
<path d="M442.8 123.2h1v1h-1zM446.4 123.7h1v1h-1zM447.0 125.5h1v1h-1zM446.7 125.0h1v1h-1zM440.9 123.0h1v1h-1zM448.8 127.3h1v1h-1z" fill="#bf8067" fill-opacity="0.8"/>
<path d="M355.2 60.9h1v1h-1zM355.6 61.1h1v1h-1zM325.9 61.2h1v1h-1zM308.2 55.2h1v1h-1zM370.8 64.3h1v1h-1zM302.4 61.7h1v1h-1zM357.8 62.4h1v1h-1zM341.3 65.6h1v1h-1zM344.4 65.4h1v1h-1zM355.1 62.7h1v1h-1zM306.9 65.3h1v1h-1zM315.6 63.7h1v1h-1zM344.1 58.0h1v1h-1zM312.3 62.0h1v1h-1zM305.4 53.6h1v1h-1zM353.4 57.5h1v1h-1zM358.7 61.4h1v1h-1zM331.7 54.9h1v1h-1zM340.8 55.2h1v1h-1zM324.1 53.5h1v1h-1zM352.0 62.0h1v1h-1zM342.1 61.8h1v1h-1zM301.5 56.3h1v1h-1zM358.8 61.5h1v1h-1zM330.6 54.7h1v1h-1zM330.8 60.2h1v1h-1zM358.4 57.3h1v1h-1zM320.0 62.0h1v1h-1zM351.2 57.9h1v1h-1zM316.6 56.4h1v1h-1zM317.8 63.8h1v1h-1zM320.6 64.2h1v1h-1zM363.3 64.5h1v1h-1zM311.8 53.1h1v1h-1zM354.1 63.4h1v1h-1zM301.8 52.1h1v1h-1zM327.8 54.4h1v1h-1zM373.8 53.7h1v1h-1zM305.9 59.6h1v1h-1zM352.0 63.0h1v1h-1zM307.2 62.8h1v1h-1zM345.9 60.2h1v1h-1zM371.7 64.9h1v1h-1zM339.4 56.6h1v1h-1zM308.5 65.6h1v1h-1zM353.1 55.5h1v1h-1zM307.9 56.5h1v1h-1zM324.7 65.4h1v1h-1zM315.1 65.7h1v1h-1zM310.6 60.8h1v1h-1zM334.5 56.3h1v1h-1zM344.2 58.0h1v1h-1zM305.6 57.1h1v1h-1zM325.5 62.1h1v1h-1zM310.7 54.0h1v1h-1zM330.1 55.1h1v1h-1zM334.3 57.8h1v1h-1zM357.5 56.8h1v1h-1zM361.7 64.4h1v1h-1zM323.7 53.2h1v1h-1zM359.8 62.7h1v1h-1zM348.5 58.2h1v1h-1zM345.5 59.5h1v1h-1zM348.8 65.3h1v1h-1zM363.1 55.9h1v1h-1zM371.4 62.9h1v1h-1zM367.5 56.2h1v1h-1zM323.5 59.2h1v1h-1zM333.9 58.3h1v1h-1zM331.2 53.4h1v1h-1zM364.2 54.8h1v1h-1zM318.8 61.8h1v1h-1zM312.4 52.7h1v1h-1zM343.3 53.4h1v1h-1zM331.9 52.6h1v1h-1zM305.0 65.5h1v1h-1zM328.6 62.4h1v1h-1zM330.8 60.3h1v1h-1zM330.3 53.4h1v1h-1zM311.3 61.6h1v1h-1zM340.1 58.8h1v1h-1zM303.8 62.4h1v1h-1zM310.0 53.2h1v1h-1zM308.9 58.2h1v1h-1zM374.4 62.6h1v1h-1zM308.9 59.3h1v1h-1zM302.1 55.4h1v1h-1zM352.7 66.0h1v1h-1zM315.5 52.4h1v1h-1zM321.9 57.7h1v1h-1zM362.7 58.0h1v1h-1zM365.8 55.8h1v1h-1zM351.7 61.2h1v1h-1zM339.3 55.9h1v1h-1zM341.9 64.6h1v1h-1zM364.7 55.6h1v1h-1zM324.1 63.4h1v1h-1zM316.9 64.9h1v1h-1zM370.3 54.6h1v1h-1zM357.8 59.1h1v1h-1zM368.6 59.4h1v1h-1zM305.2 62.9h1v1h-1zM319.1 54.3h1v1h-1zM320.5 59.6h1v1h-1zM363.1 57.9h1v1h-1zM310.9 58.0h1v1h-1zM335.2 54.1h1v1h-1zM337.1 64.8h1v1h-1zM320.4 61.4h1v1h-1zM322.2 59.6h1v1h-1zM339.9 53.2h1v1h-1zM370.5 58.6h1v1h-1zM341.6 59.8h1v1h-1zM343.0 60.9h1v1h-1zM332.8 53.9h1v1h-1zM319.3 65.8h1v1h-1zM360.2 60.8h1v1h-1zM308.1 65.0h1v1h-1zM346.7 58.7h1v1h-1zM343.5 63.3h1v1h-1zM356.7 61.9h1v1h-1zM349.4 52.8h1v1h-1zM358.8 64.4h1v1h-1zM366.9 62.8h1v1h-1zM369.2 63.3h1v1h-1zM350.9 64.4h1v1h-1zM343.3 54.3h1v1h-1zM373.8 59.0h1v1h-1zM323.6 58.6h1v1h-1zM333.2 54.1h1v1h-1zM344.4 58.4h1v1h-1zM349.7 60.7h1v1h-1zM354.1 60.1h1v1h-1zM348.4 65.7h1v1h-1zM302.6 59.1h1v1h-1zM354.1 61.4h1v1h-1zM370.5 54.5h1v1h-1zM329.4 60.7h1v1h-1zM318.6 58.2h1v1h-1zM357.0 58.7h1v1h-1zM318.8 57.6h1v1h-1zM369.7 55.2h1v1h-1zM323.3 58.3h1v1h-1zM316.8 63.5h1v1h-1zM365.0 64.5h1v1h-1zM367.3 54.9h1v1h-1zM369.0 53.1h1v1h-1zM304.8 61.5h1v1h-1zM372.4 64.2h1v1h-1zM356.2 64.1h1v1h-1zM357.1 63.9h1v1h-1zM365.2 53.1h1v1h-1zM328.9 60.1h1v1h-1zM352.7 65.7h1v1h-1zM359.7 59.1h1v1h-1zM324.6 56.7h1v1h-1zM312.4 62.1h1v1h-1zM309.6 62.5h1v1h-1zM308.4 65.9h1v1h-1zM356.7 57.7h1v1h-1zM364.9 63.5h1v1h-1zM326.7 59.3h1v1h-1zM332.3 56.0h1v1h-1zM361.0 54.4h1v1h-1zM305.3 57.9h1v1h-1zM359.3 63.4h1v1h-1zM327.4 56.8h1v1h-1zM374.5 56.2h1v1h-1zM364.2 59.2h1v1h-1zM342.2 52.0h1v1h-1zM373.5 53.9h1v1h-1zM351.7 61.8h1v1h-1zM357.8 59.1h1v1h-1zM329.6 62.6h1v1h-1zM304.7 61.3h1v1h-1z" fill="#c8806a" fill-opacity="0.8"/>
<path d="M356.7 84.3h1v1h-1zM370.9 73.7h1v1h-1zM374.4 92.8h1v1h-1zM356.8 78.5h1v1h-1zM370.6 87.2h1v1h-1zM367.0 73.5h1v1h-1zM364.4 80.6h1v1h-1zM362.0 91.2h1v1h-1zM360.7 89.0h1v1h-1zM367.3 77.8h1v1h-1zM365.0 76.7h1v1h-1zM355.1 88.4h1v1h-1zM356.4 92.3h1v1h-1zM371.3 87.2h1v1h-1zM367.7 71.8h1v1h-1zM357.5 82.7h1v1h-1zM366.3 91.8h1v1h-1zM369.3 87.0h1v1h-1zM359.6 79.3h1v1h-1zM369.2 66.2h1v1h-1zM358.7 68.0h1v1h-1zM371.8 69.1h1v1h-1zM366.8 70.3h1v1h-1zM374.7 70.0h1v1h-1zM373.7 75.2h1v1h-1zM361.7 79.2h1v1h-1zM372.9 81.0h1v1h-1zM355.6 71.3h1v1h-1zM358.6 92.7h1v1h-1zM371.0 87.2h1v1h-1zM372.4 83.3h1v1h-1zM374.2 81.3h1v1h-1zM372.1 77.9h1v1h-1zM355.2 79.8h1v1h-1zM356.5 83.2h1v1h-1zM365.5 69.9h1v1h-1zM361.0 90.6h1v1h-1zM366.5 71.8h1v1h-1zM369.0 74.4h1v1h-1zM362.4 78.7h1v1h-1zM365.7 84.7h1v1h-1zM371.2 78.3h1v1h-1zM362.3 94.0h1v1h-1zM359.2 71.1h1v1h-1zM355.8 67.3h1v1h-1zM370.4 76.6h1v1h-1zM373.8 78.8h1v1h-1zM356.1 87.5h1v1h-1zM359.7 86.7h1v1h-1zM358.0 78.0h1v1h-1zM364.2 85.0h1v1h-1zM367.3 78.5h1v1h-1zM367.9 77.8h1v1h-1zM364.0 67.1h1v1h-1zM371.2 75.1h1v1h-1zM368.2 68.6h1v1h-1zM366.4 88.6h1v1h-1zM356.6 75.9h1v1h-1zM360.7 77.5h1v1h-1zM366.6 91.7h1v1h-1zM360.6 86.4h1v1h-1zM370.9 91.1h1v1h-1zM365.8 78.0h1v1h-1zM361.5 94.3h1v1h-1zM365.8 90.4h1v1h-1zM365.0 80.4h1v1h-1zM357.8 75.6h1v1h-1zM368.1 86.9h1v1h-1zM368.7 66.9h1v1h-1zM371.4 74.9h1v1h-1zM365.1 90.7h1v1h-1zM357.1 84.7h1v1h-1zM369.6 70.0h1v1h-1zM365.7 79.4h1v1h-1zM358.8 89.8h1v1h-1zM366.4 92.6h1v1h-1zM359.9 88.5h1v1h-1zM368.1 74.5h1v1h-1zM372.1 71.9h1v1h-1zM355.7 68.8h1v1h-1zM369.1 74.1h1v1h-1zM369.4 84.2h1v1h-1zM366.6 70.1h1v1h-1zM363.3 79.9h1v1h-1zM359.7 66.5h1v1h-1zM365.7 94.9h1v1h-1zM361.5 70.2h1v1h-1zM366.4 93.2h1v1h-1zM371.5 91.8h1v1h-1zM355.2 67.6h1v1h-1zM365.2 90.6h1v1h-1zM365.3 76.2h1v1h-1zM356.3 94.2h1v1h-1zM369.5 71.2h1v1h-1zM368.4 70.6h1v1h-1zM372.4 75.4h1v1h-1z" fill="#3797ab" fill-opacity="0.8"/>
<path d="M295.8 108.7h1v1h-1zM294.9 125.5h1v1h-1zM304.8 100.6h1v1h-1zM303.4 107.2h1v1h-1zM298.6 103.2h1v1h-1zM292.6 124.6h1v1h-1zM298.4 124.7h1v1h-1zM300.5 118.8h1v1h-1zM291.0 119.6h1v1h-1zM290.3 121.9h1v1h-1zM296.6 112.9h1v1h-1zM289.4 124.4h1v1h-1zM302.4 100.7h1v1h-1zM297.3 101.6h1v1h-1zM299.4 104.8h1v1h-1zM301.7 117.1h1v1h-1zM298.4 129.6h1v1h-1zM294.5 104.3h1v1h-1zM286.8 120.3h1v1h-1zM290.1 118.7h1v1h-1zM296.8 112.3h1v1h-1zM302.7 112.7h1v1h-1zM289.2 124.3h1v1h-1zM287.2 124.0h1v1h-1zM303.5 102.7h1v1h-1zM285.8 100.3h1v1h-1zM294.4 111.5h1v1h-1zM303.1 127.9h1v1h-1zM290.4 122.9h1v1h-1zM298.5 99.3h1v1h-1zM285.5 104.3h1v1h-1zM287.5 128.8h1v1h-1zM290.6 118.1h1v1h-1zM288.2 101.8h1v1h-1zM299.6 117.5h1v1h-1zM298.6 100.3h1v1h-1zM304.6 106.5h1v1h-1zM292.9 104.1h1v1h-1zM301.4 114.9h1v1h-1zM288.4 129.4h1v1h-1zM301.6 106.5h1v1h-1zM295.3 96.3h1v1h-1zM297.8 124.1h1v1h-1zM299.6 116.7h1v1h-1zM300.1 104.0h1v1h-1zM301.7 96.8h1v1h-1zM304.6 112.8h1v1h-1zM299.3 106.3h1v1h-1zM297.1 104.1h1v1h-1zM301.2 96.1h1v1h-1zM295.7 121.1h1v1h-1zM294.0 124.9h1v1h-1zM297.3 113.6h1v1h-1zM303.0 126.0h1v1h-1zM299.2 119.9h1v1h-1zM299.6 116.7h1v1h-1zM290.9 113.7h1v1h-1zM300.3 112.6h1v1h-1zM285.0 103.9h1v1h-1zM289.0 112.7h1v1h-1zM304.9 105.2h1v1h-1zM287.0 100.9h1v1h-1zM302.3 102.5h1v1h-1zM302.8 110.5h1v1h-1zM293.7 115.0h1v1h-1zM304.0 96.7h1v1h-1zM285.8 105.3h1v1h-1zM289.1 126.7h1v1h-1zM287.7 120.0h1v1h-1zM290.7 126.5h1v1h-1zM293.7 129.5h1v1h-1zM302.0 107.7h1v1h-1zM288.5 107.0h1v1h-1zM287.3 119.9h1v1h-1zM289.4 128.8h1v1h-1zM287.4 107.3h1v1h-1zM300.8 129.2h1v1h-1zM303.1 120.5h1v1h-1zM300.4 97.4h1v1h-1zM287.9 99.8h1v1h-1zM292.0 129.9h1v1h-1zM287.3 96.6h1v1h-1zM293.0 120.1h1v1h-1zM300.2 126.3h1v1h-1zM303.6 125.2h1v1h-1zM304.9 114.5h1v1h-1zM291.3 113.1h1v1h-1zM302.7 123.6h1v1h-1zM287.1 124.8h1v1h-1zM293.7 103.4h1v1h-1zM291.3 121.0h1v1h-1zM298.5 120.8h1v1h-1zM303.3 116.2h1v1h-1zM295.2 116.5h1v1h-1zM291.8 110.5h1v1h-1zM294.3 128.1h1v1h-1zM292.4 127.4h1v1h-1zM303.0 112.5h1v1h-1zM293.6 121.5h1v1h-1zM285.7 115.6h1v1h-1zM289.5 123.1h1v1h-1zM298.7 126.1h1v1h-1zM287.8 123.7h1v1h-1zM289.0 96.9h1v1h-1zM303.7 101.0h1v1h-1zM289.8 105.6h1v1h-1zM294.9 101.1h1v1h-1zM287.3 101.7h1v1h-1zM300.4 122.3h1v1h-1zM303.9 108.1h1v1h-1zM290.4 104.4h1v1h-1zM295.6 128.8h1v1h-1zM288.1 105.1h1v1h-1zM302.9 110.2h1v1h-1zM289.9 129.9h1v1h-1zM292.7 129.2h1v1h-1z" fill="#5fa6b0" fill-opacity="0.8"/>
<path d="M308.9 82.9h1v1h-1zM300.8 74.5h1v1h-1zM304.7 66.1h1v1h-1zM305.0 72.8h1v1h-1zM308.0 85.6h1v1h-1zM309.7 62.8h1v1h-1zM309.8 73.2h1v1h-1zM305.8 67.2h1v1h-1zM301.4 76.3h1v1h-1zM306.8 84.0h1v1h-1zM307.3 67.5h1v1h-1zM303.1 77.2h1v1h-1zM309.0 68.8h1v1h-1zM307.9 61.3h1v1h-1zM307.4 89.2h1v1h-1zM300.5 88.3h1v1h-1zM307.5 76.3h1v1h-1zM302.0 86.7h1v1h-1zM301.3 73.4h1v1h-1zM300.3 61.5h1v1h-1zM302.8 83.3h1v1h-1zM305.8 79.1h1v1h-1zM303.8 73.5h1v1h-1zM301.9 79.1h1v1h-1zM306.6 86.1h1v1h-1zM306.4 70.4h1v1h-1zM309.2 88.3h1v1h-1zM307.4 62.8h1v1h-1zM309.8 63.3h1v1h-1zM306.4 78.2h1v1h-1zM300.5 67.8h1v1h-1zM304.7 86.4h1v1h-1zM307.8 89.5h1v1h-1zM308.5 65.1h1v1h-1zM308.9 84.8h1v1h-1zM309.2 69.9h1v1h-1zM309.9 75.1h1v1h-1zM308.8 87.4h1v1h-1zM307.8 84.8h1v1h-1zM308.7 78.6h1v1h-1zM300.2 74.6h1v1h-1zM304.9 80.4h1v1h-1zM307.8 75.0h1v1h-1zM301.4 61.3h1v1h-1zM304.3 61.5h1v1h-1zM306.2 75.7h1v1h-1zM309.5 63.7h1v1h-1zM305.1 63.2h1v1h-1zM300.2 61.2h1v1h-1zM304.8 69.5h1v1h-1z" fill="#8ab866" fill-opacity="0.8"/>
</g>
<path d="M311.6 157.6h1.2v1.2h-1.2zM306.7 161.9h1.2v1.2h-1.2zM298.5 131.0h1.2v1.2h-1.2zM340.7 135.2h1.2v1.2h-1.2zM307.7 129.7h1.2v1.2h-1.2zM342.4 146.5h1.2v1.2h-1.2zM290.9 131.5h1.2v1.2h-1.2zM300.8 131.2h1.2v1.2h-1.2zM325.0 142.1h1.2v1.2h-1.2zM330.9 135.5h1.2v1.2h-1.2zM316.5 140.1h1.2v1.2h-1.2zM293.1 156.7h1.2v1.2h-1.2zM300.4 136.0h1.2v1.2h-1.2zM314.1 144.1h1.2v1.2h-1.2zM333.0 131.1h1.2v1.2h-1.2zM318.7 141.6h1.2v1.2h-1.2zM310.2 133.1h1.2v1.2h-1.2zM316.4 131.2h1.2v1.2h-1.2zM286.8 148.8h1.2v1.2h-1.2zM320.8 142.7h1.2v1.2h-1.2zM324.7 139.0h1.2v1.2h-1.2z" fill="#4a8a8a"/>
<path d="M311.6 139.7h1.2v1.2h-1.2zM284.7 143.8h1.2v1.2h-1.2zM311.3 131.5h1.2v1.2h-1.2zM288.5 143.6h1.2v1.2h-1.2zM336.9 131.3h1.2v1.2h-1.2zM333.9 135.4h1.2v1.2h-1.2zM328.2 138.7h1.2v1.2h-1.2zM313.3 129.1h1.2v1.2h-1.2zM296.1 151.0h1.2v1.2h-1.2zM311.7 154.0h1.2v1.2h-1.2zM308.0 140.8h1.2v1.2h-1.2zM311.5 137.2h1.2v1.2h-1.2zM312.3 135.3h1.2v1.2h-1.2zM303.0 147.9h1.2v1.2h-1.2zM343.1 146.1h1.2v1.2h-1.2zM334.3 141.0h1.2v1.2h-1.2zM338.3 136.3h1.2v1.2h-1.2zM314.7 129.4h1.2v1.2h-1.2zM307.8 139.7h1.2v1.2h-1.2zM318.8 154.7h1.2v1.2h-1.2zM343.4 150.0h1.2v1.2h-1.2zM292.8 142.8h1.2v1.2h-1.2zM336.9 150.3h1.2v1.2h-1.2zM372.3 149.2h1.2v1.2h-1.2zM400.7 152.0h1.2v1.2h-1.2zM356.0 144.6h1.2v1.2h-1.2zM379.6 153.1h1.2v1.2h-1.2zM366.1 145.6h1.2v1.2h-1.2zM335.0 140.3h1.2v1.2h-1.2zM390.1 149.1h1.2v1.2h-1.2zM351.9 148.6h1.2v1.2h-1.2zM344.6 140.8h1.2v1.2h-1.2zM337.9 153.6h1.2v1.2h-1.2zM350.3 145.9h1.2v1.2h-1.2zM336.2 151.8h1.2v1.2h-1.2zM345.9 156.7h1.2v1.2h-1.2zM405.3 151.2h1.2v1.2h-1.2zM336.7 147.7h1.2v1.2h-1.2zM384.6 87.3h1.2v1.2h-1.2zM394.1 61.6h1.2v1.2h-1.2zM401.8 96.6h1.2v1.2h-1.2zM392.5 56.5h1.2v1.2h-1.2zM377.6 68.5h1.2v1.2h-1.2zM384.9 82.9h1.2v1.2h-1.2zM404.7 93.2h1.2v1.2h-1.2zM376.9 84.8h1.2v1.2h-1.2zM380.5 58.0h1.2v1.2h-1.2zM387.9 56.1h1.2v1.2h-1.2zM398.5 75.8h1.2v1.2h-1.2zM394.8 62.2h1.2v1.2h-1.2zM399.6 73.5h1.2v1.2h-1.2zM395.7 58.8h1.2v1.2h-1.2zM394.3 66.6h1.2v1.2h-1.2zM386.4 84.6h1.2v1.2h-1.2zM396.8 82.9h1.2v1.2h-1.2zM417.3 128.5h1.2v1.2h-1.2zM406.1 111.0h1.2v1.2h-1.2zM401.2 98.4h1.2v1.2h-1.2zM424.6 121.8h1.2v1.2h-1.2z" fill="#6a6a6a"/>
<path d="M295.3 147.7h1.2v1.2h-1.2zM342.9 139.0h1.2v1.2h-1.2zM286.6 144.9h1.2v1.2h-1.2zM334.8 138.3h1.2v1.2h-1.2zM301.9 138.4h1.2v1.2h-1.2zM316.4 131.2h1.2v1.2h-1.2zM324.1 139.7h1.2v1.2h-1.2zM288.6 149.9h1.2v1.2h-1.2zM306.4 140.0h1.2v1.2h-1.2zM297.4 136.4h1.2v1.2h-1.2zM327.4 138.7h1.2v1.2h-1.2zM294.9 129.8h1.2v1.2h-1.2zM289.3 148.4h1.2v1.2h-1.2zM332.8 155.6h1.2v1.2h-1.2zM310.8 152.6h1.2v1.2h-1.2zM302.6 146.4h1.2v1.2h-1.2zM295.7 151.5h1.2v1.2h-1.2zM316.3 139.6h1.2v1.2h-1.2zM298.2 129.5h1.2v1.2h-1.2zM338.1 150.8h1.2v1.2h-1.2zM337.7 136.1h1.2v1.2h-1.2zM308.8 150.5h1.2v1.2h-1.2zM307.6 133.2h1.2v1.2h-1.2zM305.8 135.5h1.2v1.2h-1.2zM331.5 144.3h1.2v1.2h-1.2zM406.5 150.7h1.2v1.2h-1.2zM400.9 156.4h1.2v1.2h-1.2zM340.5 139.2h1.2v1.2h-1.2zM344.1 143.5h1.2v1.2h-1.2zM395.0 149.7h1.2v1.2h-1.2zM352.3 147.4h1.2v1.2h-1.2zM364.7 148.8h1.2v1.2h-1.2zM347.4 154.8h1.2v1.2h-1.2zM397.7 145.0h1.2v1.2h-1.2zM403.6 143.9h1.2v1.2h-1.2zM356.8 146.2h1.2v1.2h-1.2zM335.0 144.7h1.2v1.2h-1.2zM403.5 155.4h1.2v1.2h-1.2zM383.2 149.0h1.2v1.2h-1.2zM349.7 156.5h1.2v1.2h-1.2zM346.0 148.7h1.2v1.2h-1.2zM385.1 146.4h1.2v1.2h-1.2zM392.0 71.4h1.2v1.2h-1.2zM390.9 62.6h1.2v1.2h-1.2zM381.3 74.7h1.2v1.2h-1.2zM396.1 60.0h1.2v1.2h-1.2zM404.2 98.5h1.2v1.2h-1.2zM383.9 59.1h1.2v1.2h-1.2zM381.1 53.4h1.2v1.2h-1.2zM435.2 116.9h1.2v1.2h-1.2zM412.2 115.3h1.2v1.2h-1.2zM441.8 131.1h1.2v1.2h-1.2zM451.2 116.9h1.2v1.2h-1.2z" fill="#4a5858"/>
<path d="M292.6 156.6h1.2v1.2h-1.2zM308.4 135.9h1.2v1.2h-1.2zM335.7 139.4h1.2v1.2h-1.2zM301.1 136.2h1.2v1.2h-1.2zM326.8 135.3h1.2v1.2h-1.2zM341.6 155.6h1.2v1.2h-1.2zM307.1 136.7h1.2v1.2h-1.2zM299.6 143.9h1.2v1.2h-1.2zM314.3 132.6h1.2v1.2h-1.2zM303.5 133.4h1.2v1.2h-1.2zM318.8 137.0h1.2v1.2h-1.2zM331.5 132.1h1.2v1.2h-1.2zM296.2 136.7h1.2v1.2h-1.2zM330.1 129.4h1.2v1.2h-1.2zM300.0 130.5h1.2v1.2h-1.2zM314.7 130.6h1.2v1.2h-1.2zM326.8 149.5h1.2v1.2h-1.2zM327.8 136.7h1.2v1.2h-1.2zM317.1 130.6h1.2v1.2h-1.2zM320.7 133.8h1.2v1.2h-1.2zM308.7 130.8h1.2v1.2h-1.2zM288.3 136.6h1.2v1.2h-1.2zM338.2 141.2h1.2v1.2h-1.2zM322.9 130.0h1.2v1.2h-1.2zM307.5 155.1h1.2v1.2h-1.2zM291.2 141.0h1.2v1.2h-1.2zM329.2 143.4h1.2v1.2h-1.2zM326.8 138.1h1.2v1.2h-1.2zM356.3 143.7h1.2v1.2h-1.2zM392.9 156.1h1.2v1.2h-1.2zM354.6 147.7h1.2v1.2h-1.2zM405.5 149.0h1.2v1.2h-1.2zM404.5 147.9h1.2v1.2h-1.2zM407.2 145.7h1.2v1.2h-1.2zM386.8 146.8h1.2v1.2h-1.2zM332.8 140.0h1.2v1.2h-1.2zM390.7 157.3h1.2v1.2h-1.2zM405.3 148.1h1.2v1.2h-1.2zM383.7 149.0h1.2v1.2h-1.2zM347.8 158.2h1.2v1.2h-1.2zM353.4 152.2h1.2v1.2h-1.2zM369.3 148.7h1.2v1.2h-1.2zM353.1 148.4h1.2v1.2h-1.2zM344.2 138.3h1.2v1.2h-1.2zM329.8 149.9h1.2v1.2h-1.2zM351.9 151.6h1.2v1.2h-1.2zM403.9 154.2h1.2v1.2h-1.2zM362.5 159.6h1.2v1.2h-1.2zM381.4 86.2h1.2v1.2h-1.2zM397.0 84.6h1.2v1.2h-1.2zM389.7 86.7h1.2v1.2h-1.2zM392.2 69.8h1.2v1.2h-1.2zM388.8 68.4h1.2v1.2h-1.2zM385.3 66.7h1.2v1.2h-1.2zM391.4 83.3h1.2v1.2h-1.2zM399.3 75.3h1.2v1.2h-1.2zM393.2 74.8h1.2v1.2h-1.2zM390.1 76.7h1.2v1.2h-1.2zM378.2 73.8h1.2v1.2h-1.2zM393.7 84.3h1.2v1.2h-1.2zM395.5 84.5h1.2v1.2h-1.2zM403.2 97.7h1.2v1.2h-1.2zM411.7 120.4h1.2v1.2h-1.2zM424.3 119.6h1.2v1.2h-1.2zM417.2 129.1h1.2v1.2h-1.2zM403.4 95.9h1.2v1.2h-1.2zM430.5 108.8h1.2v1.2h-1.2zM427.4 99.6h1.2v1.2h-1.2zM413.9 123.9h1.2v1.2h-1.2z" fill="#505050"/>
<path d="M320.3 135.1h1.2v1.2h-1.2zM297.0 132.1h1.2v1.2h-1.2zM291.1 142.5h1.2v1.2h-1.2zM334.6 152.1h1.2v1.2h-1.2zM325.9 144.5h1.2v1.2h-1.2zM288.2 132.7h1.2v1.2h-1.2zM305.5 139.9h1.2v1.2h-1.2zM336.7 145.6h1.2v1.2h-1.2zM337.7 138.7h1.2v1.2h-1.2zM323.1 151.1h1.2v1.2h-1.2zM297.0 146.7h1.2v1.2h-1.2zM305.3 141.1h1.2v1.2h-1.2zM340.1 133.6h1.2v1.2h-1.2zM315.5 130.0h1.2v1.2h-1.2zM340.8 158.5h1.2v1.2h-1.2zM306.9 155.4h1.2v1.2h-1.2zM338.2 132.0h1.2v1.2h-1.2zM289.9 132.4h1.2v1.2h-1.2zM322.7 137.1h1.2v1.2h-1.2zM332.9 135.8h1.2v1.2h-1.2zM329.4 132.5h1.2v1.2h-1.2zM297.2 135.1h1.2v1.2h-1.2zM311.1 151.7h1.2v1.2h-1.2zM299.3 142.7h1.2v1.2h-1.2zM319.7 137.6h1.2v1.2h-1.2z" fill="#5f9f9f"/>
<path d="M322.0 143.9h1.2v1.2h-1.2zM314.5 142.2h1.2v1.2h-1.2zM311.9 136.6h1.2v1.2h-1.2zM303.2 129.5h1.2v1.2h-1.2zM318.4 139.5h1.2v1.2h-1.2zM304.3 151.0h1.2v1.2h-1.2zM292.2 133.3h1.2v1.2h-1.2zM296.9 149.6h1.2v1.2h-1.2zM337.8 139.7h1.2v1.2h-1.2zM318.1 129.0h1.2v1.2h-1.2zM303.5 140.1h1.2v1.2h-1.2zM312.2 146.4h1.2v1.2h-1.2zM315.6 140.0h1.2v1.2h-1.2zM290.0 144.7h1.2v1.2h-1.2zM309.1 130.8h1.2v1.2h-1.2zM317.2 135.1h1.2v1.2h-1.2zM326.2 128.5h1.2v1.2h-1.2zM316.0 153.4h1.2v1.2h-1.2zM298.9 144.5h1.2v1.2h-1.2zM340.5 135.3h1.2v1.2h-1.2zM319.4 142.0h1.2v1.2h-1.2zM303.7 135.9h1.2v1.2h-1.2zM301.1 130.7h1.2v1.2h-1.2zM323.2 130.9h1.2v1.2h-1.2zM330.5 131.0h1.2v1.2h-1.2zM343.0 137.9h1.2v1.2h-1.2zM341.6 141.0h1.2v1.2h-1.2zM345.6 145.7h1.2v1.2h-1.2zM332.2 142.2h1.2v1.2h-1.2zM363.6 144.8h1.2v1.2h-1.2zM358.8 157.5h1.2v1.2h-1.2zM374.5 149.9h1.2v1.2h-1.2zM346.1 148.6h1.2v1.2h-1.2zM356.8 143.9h1.2v1.2h-1.2zM389.6 146.4h1.2v1.2h-1.2zM343.8 138.8h1.2v1.2h-1.2zM338.9 148.5h1.2v1.2h-1.2zM340.6 144.3h1.2v1.2h-1.2zM343.1 149.8h1.2v1.2h-1.2zM342.8 143.3h1.2v1.2h-1.2zM406.8 149.2h1.2v1.2h-1.2zM345.8 154.9h1.2v1.2h-1.2zM327.3 141.5h1.2v1.2h-1.2zM390.7 153.2h1.2v1.2h-1.2zM400.6 153.7h1.2v1.2h-1.2zM372.2 155.3h1.2v1.2h-1.2zM326.0 146.8h1.2v1.2h-1.2zM369.5 147.7h1.2v1.2h-1.2zM399.5 147.4h1.2v1.2h-1.2zM407.6 146.0h1.2v1.2h-1.2zM342.1 141.9h1.2v1.2h-1.2zM396.0 72.1h1.2v1.2h-1.2zM394.4 63.4h1.2v1.2h-1.2zM392.7 66.4h1.2v1.2h-1.2zM392.3 79.9h1.2v1.2h-1.2zM402.3 99.4h1.2v1.2h-1.2zM381.1 54.2h1.2v1.2h-1.2zM389.5 64.2h1.2v1.2h-1.2zM405.1 96.1h1.2v1.2h-1.2zM399.1 76.6h1.2v1.2h-1.2zM380.0 54.4h1.2v1.2h-1.2zM393.7 76.4h1.2v1.2h-1.2zM436.5 105.6h1.2v1.2h-1.2zM414.6 109.7h1.2v1.2h-1.2zM441.5 102.2h1.2v1.2h-1.2zM422.2 114.2h1.2v1.2h-1.2zM448.5 117.8h1.2v1.2h-1.2zM412.0 116.7h1.2v1.2h-1.2zM433.7 119.5h1.2v1.2h-1.2zM412.5 105.1h1.2v1.2h-1.2z" fill="#606060"/>
<path d="M331.5 137.7h1.2v1.2h-1.2zM297.0 129.3h1.2v1.2h-1.2zM284.9 137.9h1.2v1.2h-1.2zM311.2 136.1h1.2v1.2h-1.2zM289.6 137.9h1.2v1.2h-1.2zM320.0 142.1h1.2v1.2h-1.2zM332.4 134.5h1.2v1.2h-1.2zM337.7 137.7h1.2v1.2h-1.2zM330.0 143.1h1.2v1.2h-1.2zM324.3 155.6h1.2v1.2h-1.2zM322.2 139.5h1.2v1.2h-1.2zM343.8 145.2h1.2v1.2h-1.2zM303.6 129.8h1.2v1.2h-1.2zM303.3 153.5h1.2v1.2h-1.2zM289.9 137.0h1.2v1.2h-1.2zM339.6 134.8h1.2v1.2h-1.2zM330.6 143.8h1.2v1.2h-1.2zM311.7 130.4h1.2v1.2h-1.2zM292.1 153.3h1.2v1.2h-1.2zM298.2 147.5h1.2v1.2h-1.2zM309.7 146.6h1.2v1.2h-1.2zM287.2 138.6h1.2v1.2h-1.2zM320.7 141.6h1.2v1.2h-1.2zM371.2 160.1h1.2v1.2h-1.2zM385.4 147.3h1.2v1.2h-1.2zM352.9 143.2h1.2v1.2h-1.2zM401.3 149.6h1.2v1.2h-1.2zM391.3 145.6h1.2v1.2h-1.2zM405.2 143.2h1.2v1.2h-1.2zM332.9 142.7h1.2v1.2h-1.2zM345.3 146.9h1.2v1.2h-1.2zM368.3 155.2h1.2v1.2h-1.2zM399.0 154.9h1.2v1.2h-1.2zM396.8 151.3h1.2v1.2h-1.2zM338.5 144.5h1.2v1.2h-1.2zM333.6 140.8h1.2v1.2h-1.2zM401.5 150.7h1.2v1.2h-1.2zM331.2 143.2h1.2v1.2h-1.2zM332.3 144.2h1.2v1.2h-1.2zM340.1 154.6h1.2v1.2h-1.2zM397.3 156.0h1.2v1.2h-1.2zM339.9 141.3h1.2v1.2h-1.2zM377.8 69.4h1.2v1.2h-1.2zM397.5 62.0h1.2v1.2h-1.2zM383.2 52.8h1.2v1.2h-1.2zM378.2 49.8h1.2v1.2h-1.2zM390.1 80.0h1.2v1.2h-1.2zM384.8 69.6h1.2v1.2h-1.2zM392.3 73.1h1.2v1.2h-1.2zM385.1 58.7h1.2v1.2h-1.2zM379.2 55.4h1.2v1.2h-1.2zM393.8 78.9h1.2v1.2h-1.2zM386.3 74.9h1.2v1.2h-1.2zM384.3 61.4h1.2v1.2h-1.2zM378.1 61.8h1.2v1.2h-1.2zM382.6 81.3h1.2v1.2h-1.2zM439.8 129.4h1.2v1.2h-1.2zM416.4 118.6h1.2v1.2h-1.2zM436.1 112.6h1.2v1.2h-1.2zM450.1 123.0h1.2v1.2h-1.2zM415.0 129.3h1.2v1.2h-1.2zM440.9 115.4h1.2v1.2h-1.2z" fill="#3e3e3e"/>
<path d="M310.9 137.3h1.2v1.2h-1.2zM309.6 136.5h1.2v1.2h-1.2zM304.6 131.8h1.2v1.2h-1.2zM344.4 156.0h1.2v1.2h-1.2zM290.7 136.9h1.2v1.2h-1.2zM285.3 138.5h1.2v1.2h-1.2zM321.1 145.5h1.2v1.2h-1.2zM308.7 138.5h1.2v1.2h-1.2zM325.4 137.9h1.2v1.2h-1.2zM315.9 137.5h1.2v1.2h-1.2zM336.0 128.1h1.2v1.2h-1.2zM291.0 131.8h1.2v1.2h-1.2zM314.8 153.2h1.2v1.2h-1.2zM329.1 128.4h1.2v1.2h-1.2zM324.0 138.6h1.2v1.2h-1.2zM332.7 131.7h1.2v1.2h-1.2zM334.4 140.3h1.2v1.2h-1.2zM392.4 151.2h1.2v1.2h-1.2zM338.4 148.8h1.2v1.2h-1.2zM352.7 153.6h1.2v1.2h-1.2zM400.3 144.3h1.2v1.2h-1.2zM391.7 147.2h1.2v1.2h-1.2zM407.3 143.8h1.2v1.2h-1.2zM340.7 153.6h1.2v1.2h-1.2zM334.4 139.7h1.2v1.2h-1.2zM400.0 147.0h1.2v1.2h-1.2zM345.2 147.2h1.2v1.2h-1.2zM384.5 145.8h1.2v1.2h-1.2zM407.9 148.1h1.2v1.2h-1.2zM375.2 148.1h1.2v1.2h-1.2zM400.2 144.0h1.2v1.2h-1.2zM383.0 157.2h1.2v1.2h-1.2zM397.5 85.5h1.2v1.2h-1.2zM383.1 55.6h1.2v1.2h-1.2zM380.2 68.4h1.2v1.2h-1.2zM378.6 59.8h1.2v1.2h-1.2zM396.7 66.9h1.2v1.2h-1.2zM385.0 85.4h1.2v1.2h-1.2zM400.1 83.5h1.2v1.2h-1.2zM398.2 84.1h1.2v1.2h-1.2zM384.0 62.1h1.2v1.2h-1.2zM381.3 53.6h1.2v1.2h-1.2zM383.6 57.8h1.2v1.2h-1.2zM388.1 84.7h1.2v1.2h-1.2zM397.7 74.3h1.2v1.2h-1.2zM391.8 71.5h1.2v1.2h-1.2zM380.6 72.4h1.2v1.2h-1.2zM379.1 61.1h1.2v1.2h-1.2zM385.5 80.7h1.2v1.2h-1.2zM398.1 66.7h1.2v1.2h-1.2zM422.3 115.5h1.2v1.2h-1.2zM424.4 114.5h1.2v1.2h-1.2zM425.5 111.3h1.2v1.2h-1.2zM435.6 123.9h1.2v1.2h-1.2zM450.8 98.4h1.2v1.2h-1.2zM451.1 126.9h1.2v1.2h-1.2zM413.2 116.4h1.2v1.2h-1.2zM415.1 130.1h1.2v1.2h-1.2zM417.7 130.3h1.2v1.2h-1.2zM422.5 119.4h1.2v1.2h-1.2zM432.0 99.3h1.2v1.2h-1.2z" fill="#4f6464"/>
<path d="M372.3 149.9h1.2v1.2h-1.2zM347.2 148.8h1.2v1.2h-1.2zM332.9 146.5h1.2v1.2h-1.2zM331.9 140.3h1.2v1.2h-1.2zM378.5 153.6h1.2v1.2h-1.2zM371.1 155.1h1.2v1.2h-1.2zM380.1 152.4h1.2v1.2h-1.2zM389.5 146.1h1.2v1.2h-1.2zM389.3 151.4h1.2v1.2h-1.2zM338.4 146.2h1.2v1.2h-1.2zM364.4 150.8h1.2v1.2h-1.2zM389.3 150.8h1.2v1.2h-1.2zM358.9 146.8h1.2v1.2h-1.2zM407.4 144.8h1.2v1.2h-1.2zM375.0 146.4h1.2v1.2h-1.2zM337.3 139.3h1.2v1.2h-1.2zM378.5 147.8h1.2v1.2h-1.2zM330.4 141.4h1.2v1.2h-1.2zM394.7 149.5h1.2v1.2h-1.2zM334.1 150.9h1.2v1.2h-1.2zM402.6 148.4h1.2v1.2h-1.2zM398.1 151.7h1.2v1.2h-1.2z" fill="#4a3a80"/>
<path d="M396.0 62.4h1.2v1.2h-1.2zM395.3 66.7h1.2v1.2h-1.2zM379.4 70.6h1.2v1.2h-1.2zM385.3 71.2h1.2v1.2h-1.2zM383.9 68.4h1.2v1.2h-1.2zM383.8 85.7h1.2v1.2h-1.2zM400.5 94.1h1.2v1.2h-1.2zM394.9 68.6h1.2v1.2h-1.2zM378.0 70.8h1.2v1.2h-1.2zM400.3 67.0h1.2v1.2h-1.2zM381.9 62.5h1.2v1.2h-1.2zM381.5 68.2h1.2v1.2h-1.2zM395.8 61.9h1.2v1.2h-1.2z" fill="#6a4a40"/>
<path d="M389.2 75.5h1.2v1.2h-1.2zM396.5 75.1h1.2v1.2h-1.2zM390.7 57.8h1.2v1.2h-1.2zM385.4 70.1h1.2v1.2h-1.2zM396.8 74.9h1.2v1.2h-1.2zM393.5 84.5h1.2v1.2h-1.2zM383.7 59.4h1.2v1.2h-1.2zM387.7 84.1h1.2v1.2h-1.2zM378.4 58.5h1.2v1.2h-1.2zM382.3 86.6h1.2v1.2h-1.2zM401.7 80.7h1.2v1.2h-1.2zM391.0 67.5h1.2v1.2h-1.2zM378.6 81.7h1.2v1.2h-1.2zM379.3 69.5h1.2v1.2h-1.2zM399.7 63.7h1.2v1.2h-1.2zM383.1 82.5h1.2v1.2h-1.2z" fill="#a03a3a"/>
<path d="M393.6 75.9h1.2v1.2h-1.2zM393.3 59.8h1.2v1.2h-1.2zM380.4 81.0h1.2v1.2h-1.2zM389.1 72.3h1.2v1.2h-1.2zM389.6 75.9h1.2v1.2h-1.2zM378.0 72.0h1.2v1.2h-1.2zM387.1 55.4h1.2v1.2h-1.2z" fill="#8a5a4a"/>
<path d="M377.8 51.3h1.2v1.2h-1.2zM398.2 88.6h1.2v1.2h-1.2zM388.6 60.8h1.2v1.2h-1.2zM388.0 78.9h1.2v1.2h-1.2zM377.7 85.9h1.2v1.2h-1.2zM399.5 61.5h1.2v1.2h-1.2zM386.1 55.3h1.2v1.2h-1.2zM400.1 91.0h1.2v1.2h-1.2zM404.1 91.1h1.2v1.2h-1.2zM388.6 65.8h1.2v1.2h-1.2zM389.6 58.9h1.2v1.2h-1.2zM400.3 86.0h1.2v1.2h-1.2zM391.4 63.3h1.2v1.2h-1.2z" fill="#444"/>
<path d="M390.7 59.5h1.2v1.2h-1.2zM393.9 85.2h1.2v1.2h-1.2zM388.8 84.2h1.2v1.2h-1.2zM379.9 87.3h1.2v1.2h-1.2zM382.5 56.3h1.2v1.2h-1.2zM386.3 84.1h1.2v1.2h-1.2zM379.1 67.3h1.2v1.2h-1.2zM376.7 80.8h1.2v1.2h-1.2zM384.2 67.6h1.2v1.2h-1.2zM399.1 80.6h1.2v1.2h-1.2zM394.6 73.5h1.2v1.2h-1.2zM380.8 58.4h1.2v1.2h-1.2zM384.5 68.4h1.2v1.2h-1.2zM388.2 55.4h1.2v1.2h-1.2zM392.5 82.2h1.2v1.2h-1.2zM378.0 78.6h1.2v1.2h-1.2zM387.6 86.7h1.2v1.2h-1.2zM385.5 82.9h1.2v1.2h-1.2zM381.0 81.7h1.2v1.2h-1.2z" fill="#906050"/>
<path d="M390.9 70.6h1.2v1.2h-1.2zM395.8 79.0h1.2v1.2h-1.2zM392.6 60.6h1.2v1.2h-1.2zM405.9 91.6h1.2v1.2h-1.2zM403.2 89.8h1.2v1.2h-1.2zM402.6 64.1h1.2v1.2h-1.2zM401.9 99.7h1.2v1.2h-1.2zM400.1 87.9h1.2v1.2h-1.2zM394.5 65.9h1.2v1.2h-1.2zM401.1 83.9h1.2v1.2h-1.2zM383.2 53.6h1.2v1.2h-1.2zM400.6 69.3h1.2v1.2h-1.2zM396.3 71.7h1.2v1.2h-1.2zM388.6 62.6h1.2v1.2h-1.2zM383.4 78.7h1.2v1.2h-1.2z" fill="#5a7a86"/>
<path d="M395.2 78.1h1.2v1.2h-1.2zM383.6 56.3h1.2v1.2h-1.2zM396.4 85.3h1.2v1.2h-1.2zM394.6 75.0h1.2v1.2h-1.2zM376.3 87.6h1.2v1.2h-1.2zM399.0 66.2h1.2v1.2h-1.2zM400.7 94.0h1.2v1.2h-1.2zM395.4 66.8h1.2v1.2h-1.2zM397.5 61.1h1.2v1.2h-1.2zM398.1 64.3h1.2v1.2h-1.2zM381.4 54.7h1.2v1.2h-1.2zM386.9 67.5h1.2v1.2h-1.2z" fill="#7a3a3a"/>
<path d="M328.0 123.8h1.2v1.2h-1.2zM317.7 107.7h1.2v1.2h-1.2zM326.8 128.8h1.2v1.2h-1.2zM315.8 108.4h1.2v1.2h-1.2zM311.2 99.3h1.2v1.2h-1.2zM330.1 105.9h1.2v1.2h-1.2zM328.1 109.4h1.2v1.2h-1.2zM329.8 132.8h1.2v1.2h-1.2zM334.5 121.9h1.2v1.2h-1.2zM322.3 113.0h1.2v1.2h-1.2zM335.3 133.0h1.2v1.2h-1.2zM324.4 119.9h1.2v1.2h-1.2zM321.6 109.7h1.2v1.2h-1.2zM312.6 131.8h1.2v1.2h-1.2zM332.3 103.2h1.2v1.2h-1.2zM312.2 130.2h1.2v1.2h-1.2zM310.4 130.0h1.2v1.2h-1.2z" fill="#5fa6b0"/>
<path d="M325.3 129.1h1.2v1.2h-1.2zM315.7 127.9h1.2v1.2h-1.2zM325.4 110.6h1.2v1.2h-1.2zM329.6 121.0h1.2v1.2h-1.2zM330.0 113.4h1.2v1.2h-1.2zM326.0 117.4h1.2v1.2h-1.2zM309.4 129.8h1.2v1.2h-1.2zM323.2 106.0h1.2v1.2h-1.2zM329.3 106.1h1.2v1.2h-1.2zM334.2 121.6h1.2v1.2h-1.2zM315.3 130.0h1.2v1.2h-1.2zM331.8 132.5h1.2v1.2h-1.2zM333.2 117.9h1.2v1.2h-1.2zM320.3 127.9h1.2v1.2h-1.2zM318.7 102.2h1.2v1.2h-1.2zM327.8 122.4h1.2v1.2h-1.2zM315.2 103.1h1.2v1.2h-1.2zM330.0 115.5h1.2v1.2h-1.2z" fill="#4a9aa6"/>
<path d="M313.8 100.4h1.2v1.2h-1.2zM317.0 112.7h1.2v1.2h-1.2zM323.7 127.5h1.2v1.2h-1.2zM325.0 109.7h1.2v1.2h-1.2zM310.8 115.1h1.2v1.2h-1.2zM335.3 128.5h1.2v1.2h-1.2zM316.5 104.6h1.2v1.2h-1.2zM332.5 124.3h1.2v1.2h-1.2zM320.0 103.4h1.2v1.2h-1.2z" fill="#555"/>
<path d="M320.5 105.0h1.2v1.2h-1.2zM316.7 105.6h1.2v1.2h-1.2zM327.1 111.5h1.2v1.2h-1.2zM325.5 110.7h1.2v1.2h-1.2zM326.5 113.7h1.2v1.2h-1.2zM331.3 110.0h1.2v1.2h-1.2zM327.5 112.9h1.2v1.2h-1.2zM332.2 102.2h1.2v1.2h-1.2zM331.6 119.8h1.2v1.2h-1.2zM318.8 126.4h1.2v1.2h-1.2zM316.4 104.4h1.2v1.2h-1.2zM324.3 127.0h1.2v1.2h-1.2zM326.2 126.8h1.2v1.2h-1.2zM306.5 131.9h1.2v1.2h-1.2zM311.6 133.6h1.2v1.2h-1.2z" fill="#6ab0b8"/>
<path d="M324.3 119.0h1.2v1.2h-1.2zM317.9 104.8h1.2v1.2h-1.2zM324.7 117.5h1.2v1.2h-1.2zM331.1 133.3h1.2v1.2h-1.2zM310.5 133.1h1.2v1.2h-1.2zM328.9 118.7h1.2v1.2h-1.2zM326.7 110.2h1.2v1.2h-1.2zM324.2 128.4h1.2v1.2h-1.2zM320.5 106.6h1.2v1.2h-1.2zM313.0 113.7h1.2v1.2h-1.2zM308.7 131.1h1.2v1.2h-1.2zM319.3 127.3h1.2v1.2h-1.2zM311.0 133.9h1.2v1.2h-1.2zM326.6 105.8h1.2v1.2h-1.2z" fill="#3e8a90"/>
<path d="M408.7 97.7h1.2v1.2h-1.2zM429.1 111.9h1.2v1.2h-1.2zM435.7 118.5h1.2v1.2h-1.2zM414.6 94.0h1.2v1.2h-1.2zM424.5 117.8h1.2v1.2h-1.2zM439.0 118.8h1.2v1.2h-1.2zM427.4 130.0h1.2v1.2h-1.2zM447.7 95.2h1.2v1.2h-1.2zM436.7 110.3h1.2v1.2h-1.2z" fill="#9a4a3a"/>
<path d="M433.0 92.1h1.2v1.2h-1.2zM414.0 115.0h1.2v1.2h-1.2zM402.9 104.8h1.2v1.2h-1.2zM448.2 117.9h1.2v1.2h-1.2zM429.6 129.7h1.2v1.2h-1.2zM405.7 100.7h1.2v1.2h-1.2zM411.2 128.8h1.2v1.2h-1.2z" fill="#b04040"/>
<path d="M434.8 117.0h1.3v1.3h-1.3zM432.3 115.6h1.3v1.3h-1.3zM417.3 100.0h1.3v1.3h-1.3zM409.1 96.3h1.3v1.3h-1.3zM410.8 99.2h1.3v1.3h-1.3zM416.9 95.1h1.3v1.3h-1.3zM418.4 96.5h1.3v1.3h-1.3zM425.6 116.7h1.3v1.3h-1.3zM428.9 115.5h1.3v1.3h-1.3zM422.6 105.2h1.3v1.3h-1.3zM431.7 118.0h1.3v1.3h-1.3zM416.0 98.5h1.3v1.3h-1.3zM431.5 114.8h1.3v1.3h-1.3zM423.1 111.6h1.3v1.3h-1.3zM416.3 97.6h1.3v1.3h-1.3zM418.8 103.8h1.3v1.3h-1.3zM414.2 100.1h1.3v1.3h-1.3zM425.7 104.6h1.3v1.3h-1.3zM432.7 111.2h1.3v1.3h-1.3zM429.5 119.0h1.3v1.3h-1.3zM414.1 97.1h1.3v1.3h-1.3zM414.9 96.3h1.3v1.3h-1.3zM419.3 101.3h1.3v1.3h-1.3z" fill="#b05530"/>
<path d="M418.9 102.2h1.3v1.3h-1.3zM418.4 95.3h1.3v1.3h-1.3zM418.5 96.8h1.3v1.3h-1.3zM415.8 97.7h1.3v1.3h-1.3zM418.7 108.2h1.3v1.3h-1.3zM431.0 110.4h1.3v1.3h-1.3zM425.9 106.7h1.3v1.3h-1.3zM424.4 106.4h1.3v1.3h-1.3zM412.4 94.7h1.3v1.3h-1.3zM425.7 106.8h1.3v1.3h-1.3zM420.5 101.0h1.3v1.3h-1.3zM416.1 96.8h1.3v1.3h-1.3zM420.7 101.4h1.3v1.3h-1.3zM419.1 105.6h1.3v1.3h-1.3zM425.7 107.0h1.3v1.3h-1.3zM412.5 96.2h1.3v1.3h-1.3zM413.5 94.0h1.3v1.3h-1.3zM432.0 115.5h1.3v1.3h-1.3zM432.5 116.7h1.3v1.3h-1.3zM420.8 105.5h1.3v1.3h-1.3zM417.3 95.7h1.3v1.3h-1.3zM418.1 101.7h1.3v1.3h-1.3zM430.8 111.7h1.3v1.3h-1.3zM422.3 107.5h1.3v1.3h-1.3zM429.1 118.3h1.3v1.3h-1.3z" fill="#6a4a40"/>
<path d="M423.3 104.3h1.3v1.3h-1.3zM424.4 103.4h1.3v1.3h-1.3zM432.9 116.0h1.3v1.3h-1.3zM419.2 98.8h1.3v1.3h-1.3zM410.3 96.9h1.3v1.3h-1.3zM430.4 112.0h1.3v1.3h-1.3zM431.5 117.0h1.3v1.3h-1.3zM426.3 114.4h1.3v1.3h-1.3zM415.0 101.2h1.3v1.3h-1.3zM426.3 110.7h1.3v1.3h-1.3zM424.9 106.3h1.3v1.3h-1.3zM419.0 98.8h1.3v1.3h-1.3zM414.1 95.4h1.3v1.3h-1.3zM415.6 97.8h1.3v1.3h-1.3z" fill="#8a4028"/>
<path d="M426.5 109.9h1.3v1.3h-1.3zM420.3 99.6h1.3v1.3h-1.3zM423.5 102.6h1.3v1.3h-1.3zM428.7 110.8h1.3v1.3h-1.3zM427.0 111.1h1.3v1.3h-1.3zM421.2 104.2h1.3v1.3h-1.3zM416.5 97.1h1.3v1.3h-1.3zM421.8 104.5h1.3v1.3h-1.3zM429.3 113.2h1.3v1.3h-1.3zM426.4 109.9h1.3v1.3h-1.3zM432.3 111.7h1.3v1.3h-1.3zM416.1 100.7h1.3v1.3h-1.3zM423.7 102.4h1.3v1.3h-1.3zM420.4 105.1h1.3v1.3h-1.3zM425.3 110.3h1.3v1.3h-1.3zM412.4 96.2h1.3v1.3h-1.3zM421.7 110.4h1.3v1.3h-1.3zM426.5 104.4h1.3v1.3h-1.3zM416.8 101.1h1.3v1.3h-1.3zM412.7 99.1h1.3v1.3h-1.3zM421.0 104.3h1.3v1.3h-1.3zM413.4 98.3h1.3v1.3h-1.3zM421.3 103.1h1.3v1.3h-1.3z" fill="#555"/>
<path d="M417.2 97.9h1.3v1.3h-1.3zM437.2 114.1h1.3v1.3h-1.3zM420.7 103.1h1.3v1.3h-1.3zM435.5 122.4h1.3v1.3h-1.3zM418.0 101.0h1.3v1.3h-1.3zM427.4 109.5h1.3v1.3h-1.3zM420.8 102.1h1.3v1.3h-1.3zM426.6 107.7h1.3v1.3h-1.3zM425.7 107.8h1.3v1.3h-1.3zM413.5 93.8h1.3v1.3h-1.3zM424.9 109.3h1.3v1.3h-1.3zM417.6 102.9h1.3v1.3h-1.3zM437.4 115.7h1.3v1.3h-1.3zM422.5 101.8h1.3v1.3h-1.3zM413.6 96.1h1.3v1.3h-1.3zM436.5 116.3h1.3v1.3h-1.3zM416.0 98.0h1.3v1.3h-1.3zM429.3 109.9h1.3v1.3h-1.3zM422.1 105.8h1.3v1.3h-1.3zM419.2 101.5h1.3v1.3h-1.3zM416.4 104.6h1.3v1.3h-1.3zM420.8 107.6h1.3v1.3h-1.3zM423.4 109.8h1.3v1.3h-1.3zM428.7 108.4h1.3v1.3h-1.3zM425.8 108.1h1.3v1.3h-1.3z" fill="#a04c2a"/>
<path d="M380.1 73.0h1.3v1.3h-1.3zM381.4 65.1h1.3v1.3h-1.3zM397.5 73.5h1.3v1.3h-1.3zM397.5 78.0h1.3v1.3h-1.3zM391.6 74.3h1.3v1.3h-1.3zM384.8 66.8h1.3v1.3h-1.3zM398.5 73.8h1.3v1.3h-1.3zM392.1 62.9h1.3v1.3h-1.3zM387.5 72.1h1.3v1.3h-1.3zM394.4 76.3h1.3v1.3h-1.3zM388.0 69.5h1.3v1.3h-1.3zM386.8 59.2h1.3v1.3h-1.3zM397.7 77.9h1.3v1.3h-1.3z" fill="#a0604a"/>
<path d="M383.4 62.3h1.3v1.3h-1.3zM393.0 73.1h1.3v1.3h-1.3zM383.9 74.4h1.3v1.3h-1.3zM383.0 66.4h1.3v1.3h-1.3zM381.4 65.5h1.3v1.3h-1.3zM395.9 71.3h1.3v1.3h-1.3zM394.7 69.2h1.3v1.3h-1.3zM389.1 62.7h1.3v1.3h-1.3zM383.7 64.2h1.3v1.3h-1.3zM381.0 55.5h1.3v1.3h-1.3zM400.4 78.6h1.3v1.3h-1.3zM398.7 70.3h1.3v1.3h-1.3zM389.8 63.2h1.3v1.3h-1.3zM391.5 68.8h1.3v1.3h-1.3zM392.1 62.5h1.3v1.3h-1.3zM391.8 60.3h1.3v1.3h-1.3z" fill="#3e7a86"/>
<path d="M394.2 66.7h1.3v1.3h-1.3zM381.3 62.4h1.3v1.3h-1.3zM390.4 76.3h1.3v1.3h-1.3zM378.9 64.5h1.3v1.3h-1.3zM387.3 68.0h1.3v1.3h-1.3zM397.9 79.1h1.3v1.3h-1.3zM396.5 70.2h1.3v1.3h-1.3zM390.9 74.0h1.3v1.3h-1.3zM393.7 73.4h1.3v1.3h-1.3zM389.5 70.4h1.3v1.3h-1.3zM391.9 64.0h1.3v1.3h-1.3zM395.2 77.7h1.3v1.3h-1.3zM400.2 72.8h1.3v1.3h-1.3zM379.8 78.1h1.3v1.3h-1.3zM381.6 63.7h1.3v1.3h-1.3zM398.0 62.7h1.3v1.3h-1.3zM381.5 61.2h1.3v1.3h-1.3z" fill="#a83a3a"/>
<path d="M388.9 63.8h1.3v1.3h-1.3zM383.8 66.0h1.3v1.3h-1.3zM389.1 73.9h1.3v1.3h-1.3zM389.6 65.8h1.3v1.3h-1.3zM378.7 56.5h1.3v1.3h-1.3zM387.6 74.8h1.3v1.3h-1.3zM390.1 69.6h1.3v1.3h-1.3zM379.7 57.8h1.3v1.3h-1.3zM394.5 76.1h1.3v1.3h-1.3zM398.6 82.2h1.3v1.3h-1.3zM382.2 69.0h1.3v1.3h-1.3zM395.1 75.5h1.3v1.3h-1.3zM383.9 68.4h1.3v1.3h-1.3zM390.8 70.5h1.3v1.3h-1.3zM385.4 72.0h1.3v1.3h-1.3zM401.7 78.3h1.3v1.3h-1.3z" fill="#8a5a4a"/>
<path d="M400.0 77.2h1.3v1.3h-1.3zM394.9 69.8h1.3v1.3h-1.3zM399.3 77.4h1.3v1.3h-1.3zM399.2 76.2h1.3v1.3h-1.3zM391.7 70.4h1.3v1.3h-1.3zM388.2 64.4h1.3v1.3h-1.3zM400.4 71.1h1.3v1.3h-1.3zM395.1 67.5h1.3v1.3h-1.3zM383.0 63.4h1.3v1.3h-1.3zM398.9 74.8h1.3v1.3h-1.3zM396.9 71.8h1.3v1.3h-1.3z" fill="#5a5a5a"/>
<path d="M243.6 88.4h1.1v1.1h-1.1zM257.6 70.9h1.1v1.1h-1.1zM260.5 69.0h1.1v1.1h-1.1zM261.0 114.3h1.1v1.1h-1.1zM255.8 111.4h1.1v1.1h-1.1zM288.2 40.5h1.1v1.1h-1.1zM325.4 21.2h1.1v1.1h-1.1zM318.5 20.3h1.1v1.1h-1.1zM333.0 22.4h1.1v1.1h-1.1zM381.0 104.5h1.1v1.1h-1.1zM388.7 113.1h1.1v1.1h-1.1zM401.5 144.6h1.1v1.1h-1.1zM405.9 143.4h1.1v1.1h-1.1zM353.1 144.5h1.1v1.1h-1.1zM363.8 145.8h1.1v1.1h-1.1zM424.7 60.7h1.1v1.1h-1.1zM443.9 79.7h1.1v1.1h-1.1z" fill="#3e3e3e"/>
<path d="M244.1 84.8h1.1v1.1h-1.1zM287.1 40.7h1.1v1.1h-1.1zM263.2 116.5h1.1v1.1h-1.1zM263.6 120.4h1.1v1.1h-1.1zM242.4 99.8h1.1v1.1h-1.1zM290.4 37.5h1.1v1.1h-1.1zM292.7 34.0h1.1v1.1h-1.1zM307.5 20.8h1.1v1.1h-1.1zM308.0 22.8h1.1v1.1h-1.1zM322.1 21.3h1.1v1.1h-1.1zM316.4 22.5h1.1v1.1h-1.1zM330.5 22.8h1.1v1.1h-1.1zM353.5 31.4h1.1v1.1h-1.1zM348.5 29.3h1.1v1.1h-1.1zM377.3 51.1h1.1v1.1h-1.1zM377.9 70.4h1.1v1.1h-1.1zM382.6 109.5h1.1v1.1h-1.1zM392.7 115.1h1.1v1.1h-1.1zM408.7 129.2h1.1v1.1h-1.1zM409.0 136.6h1.1v1.1h-1.1zM404.2 143.2h1.1v1.1h-1.1zM344.1 138.5h1.1v1.1h-1.1zM344.1 139.2h1.1v1.1h-1.1zM332.1 114.5h1.1v1.1h-1.1zM335.5 125.9h1.1v1.1h-1.1zM410.0 61.7h1.1v1.1h-1.1z" fill="#4f6464"/>
<path d="M246.7 84.8h1.1v1.1h-1.1zM259.9 68.2h1.1v1.1h-1.1zM267.0 62.4h1.1v1.1h-1.1zM276.3 51.4h1.1v1.1h-1.1zM287.8 132.7h1.1v1.1h-1.1zM286.7 133.3h1.1v1.1h-1.1zM277.5 128.5h1.1v1.1h-1.1zM268.4 121.7h1.1v1.1h-1.1zM250.3 107.6h1.1v1.1h-1.1zM298.2 27.8h1.1v1.1h-1.1zM310.4 23.1h1.1v1.1h-1.1zM362.3 34.0h1.1v1.1h-1.1zM375.6 42.5h1.1v1.1h-1.1zM377.1 49.4h1.1v1.1h-1.1zM380.4 58.0h1.1v1.1h-1.1zM378.0 65.3h1.1v1.1h-1.1zM367.7 100.2h1.1v1.1h-1.1zM388.4 146.1h1.1v1.1h-1.1zM383.3 147.2h1.1v1.1h-1.1zM363.5 145.0h1.1v1.1h-1.1zM345.7 138.7h1.1v1.1h-1.1zM339.4 131.8h1.1v1.1h-1.1zM338.8 129.3h1.1v1.1h-1.1zM336.7 128.0h1.1v1.1h-1.1zM443.2 66.2h1.1v1.1h-1.1zM443.2 77.6h1.1v1.1h-1.1zM403.4 85.6h1.1v1.1h-1.1z" fill="#606060"/>
<path d="M247.8 82.7h1.1v1.1h-1.1zM245.0 84.7h1.1v1.1h-1.1zM262.4 66.9h1.1v1.1h-1.1zM282.5 132.4h1.1v1.1h-1.1zM240.3 94.2h1.1v1.1h-1.1z" fill="#526e3d"/>
<path d="M249.5 78.6h1.1v1.1h-1.1zM248.7 81.1h1.1v1.1h-1.1zM267.2 62.7h1.1v1.1h-1.1zM265.2 58.3h1.1v1.1h-1.1zM257.8 69.4h1.1v1.1h-1.1zM280.0 46.0h1.1v1.1h-1.1zM275.8 47.5h1.1v1.1h-1.1zM271.5 56.0h1.1v1.1h-1.1zM288.0 133.1h1.1v1.1h-1.1zM281.0 131.2h1.1v1.1h-1.1zM264.1 116.9h1.1v1.1h-1.1zM247.5 108.7h1.1v1.1h-1.1zM258.8 112.7h1.1v1.1h-1.1zM304.2 25.1h1.1v1.1h-1.1zM335.5 23.6h1.1v1.1h-1.1zM355.6 30.9h1.1v1.1h-1.1zM339.6 101.8h1.1v1.1h-1.1zM371.4 102.5h1.1v1.1h-1.1zM387.7 109.1h1.1v1.1h-1.1zM394.7 115.4h1.1v1.1h-1.1zM396.1 145.9h1.1v1.1h-1.1zM388.2 147.1h1.1v1.1h-1.1zM346.7 139.6h1.1v1.1h-1.1zM341.1 137.7h1.1v1.1h-1.1zM333.6 106.0h1.1v1.1h-1.1zM423.0 64.2h1.1v1.1h-1.1zM444.9 79.4h1.1v1.1h-1.1zM407.2 93.9h1.1v1.1h-1.1zM402.6 80.4h1.1v1.1h-1.1z" fill="#505050"/>
<path d="M257.4 71.8h1.1v1.1h-1.1zM278.3 48.3h1.1v1.1h-1.1zM288.8 134.1h1.1v1.1h-1.1zM277.0 129.4h1.1v1.1h-1.1zM283.3 133.6h1.1v1.1h-1.1zM244.3 103.2h1.1v1.1h-1.1zM288.6 39.8h1.1v1.1h-1.1zM295.9 29.5h1.1v1.1h-1.1zM319.1 20.2h1.1v1.1h-1.1zM320.8 21.9h1.1v1.1h-1.1zM343.2 26.3h1.1v1.1h-1.1zM362.7 34.5h1.1v1.1h-1.1zM378.1 64.5h1.1v1.1h-1.1zM382.1 71.9h1.1v1.1h-1.1zM380.0 79.7h1.1v1.1h-1.1zM372.7 104.1h1.1v1.1h-1.1zM404.6 121.7h1.1v1.1h-1.1zM402.3 120.0h1.1v1.1h-1.1zM394.6 117.1h1.1v1.1h-1.1zM409.4 130.8h1.1v1.1h-1.1zM369.0 146.4h1.1v1.1h-1.1zM343.2 137.3h1.1v1.1h-1.1zM335.7 124.0h1.1v1.1h-1.1zM423.4 63.9h1.1v1.1h-1.1zM438.1 62.0h1.1v1.1h-1.1zM445.0 83.1h1.1v1.1h-1.1zM424.6 94.2h1.1v1.1h-1.1zM420.2 95.8h1.1v1.1h-1.1zM416.6 97.0h1.1v1.1h-1.1z" fill="#4a5858"/>
<path d="M255.2 73.7h1.1v1.1h-1.1zM260.8 68.1h1.1v1.1h-1.1zM278.1 47.6h1.1v1.1h-1.1zM272.4 53.6h1.1v1.1h-1.1zM269.1 58.5h1.1v1.1h-1.1zM289.5 133.0h1.1v1.1h-1.1zM281.4 132.4h1.1v1.1h-1.1zM264.7 117.8h1.1v1.1h-1.1zM244.8 99.0h1.1v1.1h-1.1zM338.3 25.3h1.1v1.1h-1.1zM337.0 24.3h1.1v1.1h-1.1zM341.0 26.9h1.1v1.1h-1.1zM347.8 27.2h1.1v1.1h-1.1zM363.9 35.7h1.1v1.1h-1.1zM378.7 45.9h1.1v1.1h-1.1zM370.8 39.8h1.1v1.1h-1.1zM379.7 57.5h1.1v1.1h-1.1zM376.9 73.3h1.1v1.1h-1.1zM377.2 102.5h1.1v1.1h-1.1zM369.4 101.6h1.1v1.1h-1.1zM385.0 110.8h1.1v1.1h-1.1zM390.3 113.8h1.1v1.1h-1.1zM395.6 117.2h1.1v1.1h-1.1zM404.2 124.9h1.1v1.1h-1.1zM404.8 123.9h1.1v1.1h-1.1zM408.2 130.1h1.1v1.1h-1.1zM381.1 147.0h1.1v1.1h-1.1zM391.9 145.5h1.1v1.1h-1.1zM386.6 145.5h1.1v1.1h-1.1zM358.5 145.7h1.1v1.1h-1.1zM330.7 106.7h1.1v1.1h-1.1zM422.4 62.9h1.1v1.1h-1.1zM430.3 62.4h1.1v1.1h-1.1zM442.0 73.9h1.1v1.1h-1.1zM443.1 76.1h1.1v1.1h-1.1zM440.6 85.0h1.1v1.1h-1.1zM434.0 89.5h1.1v1.1h-1.1zM408.5 95.8h1.1v1.1h-1.1zM404.6 87.4h1.1v1.1h-1.1zM401.1 78.9h1.1v1.1h-1.1zM400.8 69.6h1.1v1.1h-1.1z" fill="#6a6a6a"/>
<path d="M285.8 43.5h1.1v1.1h-1.1zM345.9 23.5h1.1v1.1h-1.1zM369.7 39.2h1.1v1.1h-1.1zM376.5 44.1h1.1v1.1h-1.1zM377.8 64.8h1.1v1.1h-1.1zM380.0 75.1h1.1v1.1h-1.1z" fill="#215a66"/>
<path d="M388.1 109.5h1.1v1.1h-1.1zM399.5 118.2h1.1v1.1h-1.1zM404.2 119.4h1.1v1.1h-1.1zM407.1 142.1h1.1v1.1h-1.1zM386.8 148.4h1.1v1.1h-1.1zM390.8 145.8h1.1v1.1h-1.1zM369.2 147.8h1.1v1.1h-1.1zM354.6 143.1h1.1v1.1h-1.1zM339.3 131.1h1.1v1.1h-1.1z" fill="#301e60"/>
<path d="M416.6 61.6h1.1v1.1h-1.1zM430.9 62.7h1.1v1.1h-1.1zM402.7 84.3h1.1v1.1h-1.1z" fill="#751c22"/>
<rect x="321.3" y="44.6" width="25.8" height="5.3" rx="1" fill="#fff" stroke="#bbb" stroke-width="0.3"/>
<text x="334.2" y="48.8" font-size="4.6" text-anchor="middle" fill="#2a2a2a" textLength="23.2" lengthAdjust="spacingAndGlyphs">Naive B-C1</text>
<rect x="273.5" y="84.8" width="11.5" height="5.2" rx="1" fill="#fff" stroke="#bbb" stroke-width="0.3"/>
<text x="279.2" y="88.9" font-size="4.6" text-anchor="middle" fill="#2a2a2a" textLength="8.9" lengthAdjust="spacingAndGlyphs">B-C0</text>
<rect x="327.0" y="72.1" width="12.7" height="5.3" rx="1" fill="#fff" stroke="#bbb" stroke-width="0.3"/>
<text x="333.4" y="76.3" font-size="4.6" text-anchor="middle" fill="#2a2a2a" textLength="10.1" lengthAdjust="spacingAndGlyphs">B-C5</text>
<rect x="295.5" y="102.7" width="12.3" height="5.3" rx="1" fill="#fff" stroke="#bbb" stroke-width="0.3"/>
<text x="301.6" y="106.9" font-size="4.6" text-anchor="middle" fill="#2a2a2a" textLength="9.7" lengthAdjust="spacingAndGlyphs">B-C3</text>
<rect x="363.5" y="99.3" width="16.5" height="5.2" rx="1" fill="#fff" stroke="#bbb" stroke-width="0.3"/>
<text x="371.8" y="103.4" font-size="4.6" text-anchor="middle" fill="#2a2a2a" textLength="13.9" lengthAdjust="spacingAndGlyphs">GCB-C9</text>
<rect x="361.3" y="121.7" width="12.7" height="6.0" rx="1" fill="#fff" stroke="#bbb" stroke-width="0.3"/>
<text x="367.6" y="126.6" font-size="4.6" text-anchor="middle" fill="#2a2a2a" textLength="10.1" lengthAdjust="spacingAndGlyphs">B-C4</text>
<rect x="404.6" y="76.9" width="31.6" height="4.6" rx="1" fill="#fff" stroke="#bbb" stroke-width="0.3"/>
<text x="420.4" y="80.4" font-size="4.6" text-anchor="middle" fill="#2a2a2a" textLength="29.0" lengthAdjust="spacingAndGlyphs">Memory B-C2</text>
<rect x="425.4" y="115.4" width="26.1" height="4.6" rx="1" fill="#fff" stroke="#bbb" stroke-width="0.3"/>
<text x="438.4" y="118.9" font-size="4.6" text-anchor="middle" fill="#2a2a2a" textLength="23.5" lengthAdjust="spacingAndGlyphs">Plasma-C7</text>
</g>
<circle cx="462.5" cy="55.50" r="1.5" fill="#579fbf"/>
<text x="467.10" y="58.20" font-size="7.3" text-anchor="start" fill="#1f1f1f" stroke="#1f1f1f" stroke-width="0.22" font-weight="normal" >Naive B-C1</text>
<circle cx="462.5" cy="67.10" r="1.5" fill="#a3c98a"/>
<text x="467.10" y="69.80" font-size="7.3" text-anchor="start" fill="#1f1f1f" stroke="#1f1f1f" stroke-width="0.22" font-weight="normal" >B-C0</text>
<circle cx="462.5" cy="78.70" r="1.5" fill="#82adb8"/>
<text x="467.10" y="81.40" font-size="7.3" text-anchor="start" fill="#1f1f1f" stroke="#1f1f1f" stroke-width="0.22" font-weight="normal" >B-C3</text>
<circle cx="462.5" cy="90.30" r="1.5" fill="#cf9682"/>
<text x="467.10" y="93.00" font-size="7.3" text-anchor="start" fill="#1f1f1f" stroke="#1f1f1f" stroke-width="0.22" font-weight="normal" >B-C5</text>
<circle cx="462.5" cy="101.90" r="1.5" fill="#2e2a66"/>
<text x="467.10" y="104.60" font-size="7.3" text-anchor="start" fill="#1f1f1f" stroke="#1f1f1f" stroke-width="0.22" font-weight="normal" >B-C4</text>
<circle cx="462.5" cy="113.50" r="1.5" fill="#c83a4a"/>
<text x="467.10" y="116.20" font-size="7.3" text-anchor="start" fill="#1f1f1f" stroke="#1f1f1f" stroke-width="0.22" font-weight="normal" >Memory B-C2</text>
<circle cx="462.5" cy="125.10" r="1.5" fill="#4a9658"/>
<text x="467.10" y="127.80" font-size="7.3" text-anchor="start" fill="#1f1f1f" stroke="#1f1f1f" stroke-width="0.22" font-weight="normal" >GCB-C9</text>
<circle cx="462.5" cy="136.70" r="1.5" fill="#8e5a44"/>
<text x="467.10" y="139.40" font-size="7.3" text-anchor="start" fill="#1f1f1f" stroke="#1f1f1f" stroke-width="0.22" font-weight="normal" >Plasma-C7</text>
<rect x="0.5" y="0.5" width="519" height="576" fill="none" stroke="#3a3a3a" stroke-width="1.2"/>
</svg></body></html>
